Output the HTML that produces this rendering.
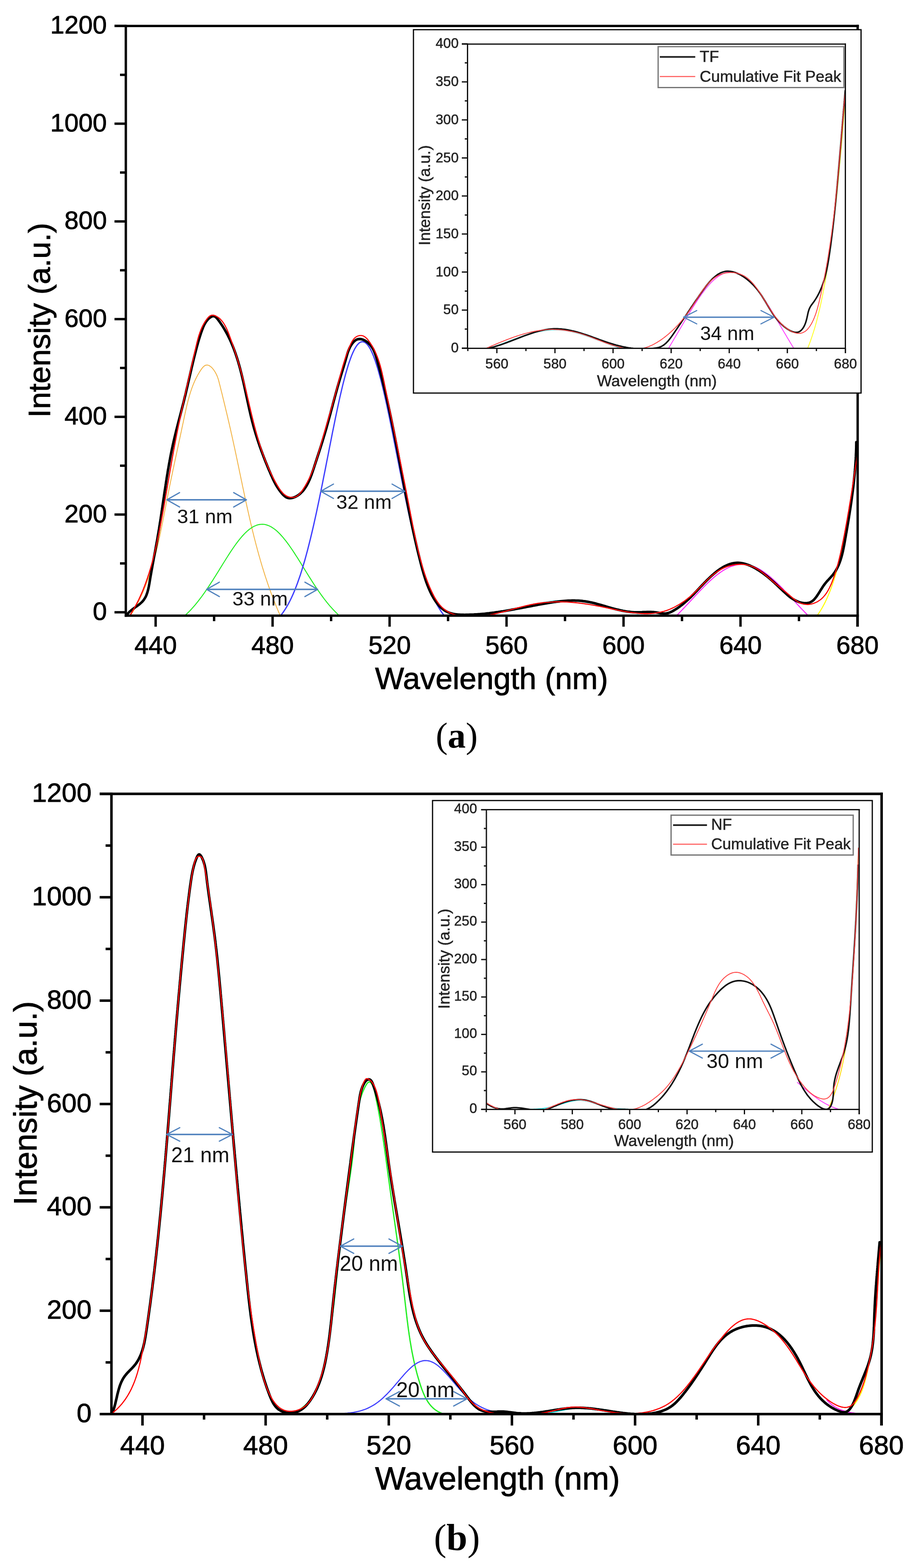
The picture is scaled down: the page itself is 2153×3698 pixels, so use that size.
<!DOCTYPE html>
<html><head><meta charset="utf-8"><title>Figure</title>
<style>html,body{margin:0;padding:0;background:#fff;}svg{display:block;}</style>
</head><body>
<svg xmlns="http://www.w3.org/2000/svg" width="2153" height="3698" viewBox="0 0 2153 3698">
<rect x="0" y="0" width="2153" height="3698" fill="#fff"/>
<clipPath id="ca"><rect x="296.7" y="61.3" width="1725.8" height="1390.7"/></clipPath>
<g>
<path d="M307.1 1452.8 L308.8 1450.2 L310.4 1447.7 L312 1445.1 L313.5 1442.5 L315.1 1439.9 L316.6 1437.3 L318.1 1434.7 L319.6 1432.1 L321 1429.4 L322.4 1426.8 L323.8 1424.1 L325.2 1421.5 L326.6 1418.8 L327.9 1416.1 L329.3 1413.4 L330.6 1410.8 L331.9 1408 L333.1 1405.3 L334.4 1402.6 L335.6 1399.9 L336.8 1397.2 L338 1394.4 L339.1 1391.7 L340.3 1388.9 L341.4 1386.1 L342.5 1383.4 L343.6 1380.6 L344.7 1377.8 L345.8 1375 L346.8 1372.2 L347.9 1369.4 L348.9 1366.6 L349.9 1363.8 L350.9 1360.9 L351.8 1358.1 L352.8 1355.3 L353.7 1352.4 L354.6 1349.6 L355.6 1346.7 L356.5 1343.9 L357.3 1341 L358.2 1338.1 L359.1 1335.2 L359.9 1332.4 L360.8 1329.5 L361.6 1326.6 L362.4 1323.7 L363.2 1320.8 L364 1317.9 L364.7 1315 L365.5 1312.1 L366.3 1309.2 L367 1306.3 L367.8 1303.3 L368.5 1300.4 L369.2 1297.5 L369.9 1294.5 L370.6 1291.6 L371.3 1288.7 L372 1285.7 L372.7 1282.8 L373.3 1279.9 L374 1276.9 L374.6 1274 L375.3 1271 L375.9 1268.1 L376.6 1265.1 L377.2 1262.1 L377.8 1259.2 L378.4 1256.2 L379 1253.3 L379.6 1250.3 L380.3 1247.3 L380.8 1244.4 L381.4 1241.4 L382 1238.4 L382.6 1235.5 L383.2 1232.5 L383.8 1229.5 L384.4 1226.6 L384.9 1223.6 L385.5 1220.6 L386.1 1217.7 L386.7 1214.7 L387.2 1211.7 L387.8 1208.8 L388.4 1205.8 L389 1202.9 L389.5 1199.9 L390.1 1196.9 L390.7 1194 L391.2 1191 L391.8 1188.1 L392.4 1185.1 L393 1182.1 L393.5 1179.2 L394.1 1176.2 L394.7 1173.3 L395.3 1170.4 L395.9 1167.4 L396.4 1164.5 L397 1161.5 L397.6 1158.6 L398.2 1155.6 L398.8 1152.7 L399.4 1149.8 L400 1146.8 L400.6 1143.9 L401.2 1141 L401.8 1138 L402.4 1135.1 L403 1132.2 L403.6 1129.3 L404.2 1126.3 L404.8 1123.4 L405.5 1120.5 L406.1 1117.6 L406.7 1114.6 L407.3 1111.7 L407.9 1108.8 L408.5 1105.9 L409.2 1102.9 L409.8 1100 L410.4 1097.1 L411 1094.2 L411.6 1091.2 L412.3 1088.3 L412.9 1085.4 L413.5 1082.5 L414.1 1079.5 L414.8 1076.6 L415.4 1073.7 L416 1070.8 L416.6 1067.8 L417.3 1064.9 L417.9 1062 L418.5 1059 L419.2 1056.1 L419.8 1053.2 L420.4 1050.3 L421 1047.3 L421.7 1044.4 L422.3 1041.4 L422.9 1038.5 L423.6 1035.6 L424.2 1032.6 L424.8 1029.7 L425.5 1026.7 L426.1 1023.8 L426.7 1020.8 L427.4 1017.9 L428 1014.9 L428.6 1012 L429.2 1009 L429.9 1006.1 L430.5 1003.1 L431.1 1000.1 L431.8 997.2 L432.4 994.2 L433 991.2 L433.6 988.3 L434.3 985.3 L434.9 982.3 L435.5 979.3 L436.2 976.4 L436.8 973.4 L437.5 970.4 L438.1 967.4 L438.8 964.5 L439.5 961.5 L440.1 958.5 L440.8 955.6 L441.6 952.6 L442.3 949.7 L443 946.7 L443.8 943.8 L444.6 940.9 L445.4 937.9 L446.2 935 L447 932.1 L447.9 929.2 L448.8 926.4 L449.7 923.5 L450.7 920.7 L451.6 917.8 L452.6 915 L453.7 912.2 L454.7 909.4 L455.8 906.6 L457 903.9 L458.1 901.1 L459.4 898.4 L460.6 895.7 L461.9 893 L463.2 890.4 L464.6 887.7 L466 885.1 L467.5 882.5 L469 879.9 L470.5 877.4 L472.1 874.9 L473.8 872.4 L475.5 869.9 L477.3 867.6 L479.1 865.5 L481.1 863.6 L483.1 862.2 L485.3 861.3 L487.6 860.9 L490 861.1 L492.4 861.9 L494.8 863.2 L497.2 865 L499.6 867.1 L501.8 869.6 L503.9 872.3 L505.9 875.2 L507.8 878.3 L509.5 881.4 L511 884.5 L512.3 887.5 L513.4 890.5 L514.4 893.4 L515.3 896.3 L516.1 899.2 L516.8 902 L517.5 904.9 L518.3 907.7 L519 910.6 L519.7 913.4 L520.4 916.3 L521.1 919.1 L521.8 922 L522.6 924.9 L523.3 927.7 L524 930.6 L524.7 933.5 L525.4 936.4 L526.1 939.3 L526.8 942.2 L527.5 945 L528.2 947.9 L528.9 950.8 L529.6 953.7 L530.3 956.6 L531 959.5 L531.7 962.4 L532.4 965.4 L533.1 968.3 L533.8 971.2 L534.5 974.1 L535.2 977 L535.9 979.9 L536.6 982.8 L537.3 985.8 L537.9 988.7 L538.6 991.6 L539.3 994.5 L540 997.5 L540.7 1000.4 L541.3 1003.3 L542 1006.3 L542.7 1009.2 L543.4 1012.1 L544 1015.1 L544.7 1018 L545.3 1021 L546 1023.9 L546.7 1026.8 L547.3 1029.8 L548 1032.7 L548.6 1035.7 L549.3 1038.6 L549.9 1041.5 L550.6 1044.5 L551.2 1047.4 L551.8 1050.4 L552.5 1053.3 L553.1 1056.3 L553.8 1059.2 L554.4 1062.2 L555 1065.1 L555.6 1068.1 L556.3 1071 L556.9 1073.9 L557.5 1076.9 L558.1 1079.8 L558.8 1082.8 L559.4 1085.7 L560 1088.7 L560.6 1091.6 L561.2 1094.6 L561.9 1097.5 L562.5 1100.5 L563.1 1103.4 L563.7 1106.4 L564.3 1109.3 L564.9 1112.3 L565.5 1115.2 L566.2 1118.2 L566.8 1121.1 L567.4 1124.1 L568 1127 L568.6 1129.9 L569.2 1132.9 L569.9 1135.8 L570.5 1138.8 L571.1 1141.7 L571.7 1144.7 L572.3 1147.6 L572.9 1150.6 L573.6 1153.5 L574.2 1156.5 L574.8 1159.4 L575.4 1162.3 L576.1 1165.3 L576.7 1168.2 L577.3 1171.2 L577.9 1174.1 L578.6 1177 L579.2 1180 L579.8 1182.9 L580.5 1185.9 L581.1 1188.8 L581.8 1191.7 L582.4 1194.7 L583.1 1197.6 L583.7 1200.5 L584.4 1203.5 L585 1206.4 L585.7 1209.3 L586.3 1212.3 L587 1215.2 L587.7 1218.1 L588.3 1221.1 L589 1224 L589.7 1226.9 L590.4 1229.8 L591 1232.8 L591.7 1235.7 L592.4 1238.6 L593.1 1241.5 L593.8 1244.4 L594.5 1247.4 L595.2 1250.3 L595.9 1253.2 L596.6 1256.1 L597.4 1259 L598.1 1261.9 L598.8 1264.9 L599.5 1267.8 L600.3 1270.7 L601 1273.6 L601.8 1276.5 L602.5 1279.4 L603.3 1282.3 L604 1285.2 L604.8 1288.1 L605.6 1291 L606.4 1293.9 L607.1 1296.8 L607.9 1299.7 L608.7 1302.6 L609.5 1305.5 L610.3 1308.4 L611.1 1311.3 L612 1314.1 L612.8 1317 L613.6 1319.9 L614.4 1322.8 L615.3 1325.7 L616.1 1328.6 L617 1331.4 L617.8 1334.3 L618.7 1337.2 L619.6 1340.1 L620.5 1342.9 L621.4 1345.8 L622.3 1348.7 L623.2 1351.5 L624.1 1354.4 L625 1357.2 L625.9 1360.1 L626.9 1363 L627.8 1365.8 L628.8 1368.7 L629.7 1371.5 L630.7 1374.4 L631.6 1377.2 L632.6 1380 L633.6 1382.9 L634.6 1385.7 L635.6 1388.6 L636.6 1391.4 L637.7 1394.2 L638.7 1397.1 L639.7 1399.9 L640.8 1402.7 L641.8 1405.5 L642.9 1408.4 L644 1411.2 L645.1 1414 L646.2 1416.8 L647.3 1419.6 L648.4 1422.4 L649.5 1425.2 L650.7 1428 L651.8 1430.8 L653 1433.6 L654.1 1436.4 L655.3 1439.2 L656.5 1442 L657.7 1444.8 L658.9 1447.6 L660.1 1450.4 L661.3 1453.2 L662.6 1455.9" fill="none" stroke="#F2B13F" stroke-width="2" stroke-linejoin="round" stroke-linecap="round" clip-path="url(#ca)"/>
<path d="M401.5 1476.1 L404.9 1474.3 L408.4 1472.3 L411.8 1470.2 L415.3 1468 L418.7 1465.6 L422.2 1463.1 L425.6 1460.5 L429.1 1457.8 L432.5 1454.9 L436 1451.9 L439.4 1448.7 L442.9 1445.4 L446.3 1442 L449.8 1438.4 L453.2 1434.6 L456.6 1430.7 L460.1 1426.7 L463.5 1422.6 L467 1418.3 L470.4 1413.8 L473.9 1409.3 L477.3 1404.6 L480.8 1399.8 L484.2 1394.9 L487.7 1389.8 L491.1 1384.7 L494.6 1379.5 L498 1374.2 L501.5 1368.8 L504.9 1363.4 L508.4 1357.9 L511.8 1352.3 L515.3 1346.8 L518.7 1341.2 L522.2 1335.6 L525.6 1330 L529.1 1324.5 L532.5 1319 L536 1313.5 L539.4 1308.1 L542.8 1302.9 L546.3 1297.7 L549.7 1292.6 L553.2 1287.6 L556.6 1282.8 L560.1 1278.2 L563.5 1273.7 L567 1269.5 L570.4 1265.4 L573.9 1261.6 L577.3 1258 L580.8 1254.6 L584.2 1251.5 L587.7 1248.6 L591.1 1246.1 L594.6 1243.8 L598 1241.8 L601.5 1240.2 L604.9 1238.8 L608.4 1237.7 L611.8 1237 L615.3 1236.6 L618.7 1236.5 L622.2 1236.7 L625.6 1237.2 L629 1238.1 L632.5 1239.3 L635.9 1240.8 L639.4 1242.6 L642.8 1244.7 L646.3 1247.1 L649.7 1249.7 L653.2 1252.7 L656.6 1255.9 L660.1 1259.4 L663.5 1263.1 L667 1267 L670.4 1271.2 L673.9 1275.5 L677.3 1280 L680.8 1284.7 L684.2 1289.6 L687.7 1294.6 L691.1 1299.7 L694.6 1305 L698 1310.3 L701.5 1315.7 L704.9 1321.2 L708.4 1326.7 L711.8 1332.3 L715.2 1337.8 L718.7 1343.4 L722.1 1349 L725.6 1354.6 L729 1360.1 L732.5 1365.5 L735.9 1371 L739.4 1376.3 L742.8 1381.6 L746.3 1386.8 L749.7 1391.9 L753.2 1396.8 L756.6 1401.7 L760.1 1406.5 L763.5 1411.1 L767 1415.6 L770.4 1420 L773.9 1424.2 L777.3 1428.4 L780.8 1432.3 L784.2 1436.1 L787.7 1439.8 L791.1 1443.3 L794.6 1446.7 L798 1450 L801.4 1453.1 L804.9 1456.1 L808.3 1458.9 L811.8 1461.6 L815.2 1464.1 L818.7 1466.6 L822.1 1468.9 L825.6 1471 L829 1473.1 L832.5 1475 L835.9 1476.9" fill="none" stroke="#22EE22" stroke-width="2.3" stroke-linejoin="round" stroke-linecap="round" clip-path="url(#ca)"/>
<path d="M642.8 1470.7 L646.3 1468 L649.7 1464.9 L653.2 1461.6 L656.6 1458 L660.1 1454.1 L663.5 1449.8 L667 1445.2 L670.4 1440.2 L673.9 1434.8 L677.3 1429 L680.8 1422.7 L684.2 1416.1 L687.7 1408.9 L691.1 1401.3 L694.6 1393.1 L698 1384.5 L701.5 1375.3 L704.9 1365.6 L708.4 1355.4 L711.8 1344.6 L715.2 1333.3 L718.7 1321.5 L722.1 1309.1 L725.6 1296.1 L729 1282.7 L732.5 1268.7 L735.9 1254.3 L739.4 1239.3 L742.8 1224 L746.3 1208.2 L749.7 1192 L753.2 1175.5 L756.6 1158.7 L760.1 1141.6 L763.5 1124.3 L767 1106.9 L770.4 1089.3 L773.9 1071.7 L777.3 1054.1 L780.8 1036.7 L784.2 1019.3 L787.7 1002.2 L791.1 985.4 L794.6 968.9 L798 952.9 L801.4 937.3 L804.9 922.3 L808.3 908 L811.8 894.4 L815.2 881.5 L818.7 869.5 L822.1 858.3 L825.6 848.2 L829 839 L832.5 830.8 L835.9 823.8 L839.4 817.9 L842.8 813.1 L846.3 809.5 L849.7 807.1 L853.2 806 L856.6 806 L860.1 807.3 L863.5 809.7 L867 813.4 L870.4 818.3 L873.9 824.3 L877.3 831.4 L880.8 839.7 L884.2 848.9 L887.6 859.2 L891.1 870.4 L894.5 882.5 L898 895.4 L901.4 909.1 L904.9 923.5 L908.3 938.5 L911.8 954.1 L915.2 970.2 L918.7 986.7 L922.1 1003.6 L925.6 1020.7 L929 1038.1 L932.5 1055.6 L935.9 1073.1 L939.4 1090.7 L942.8 1108.3 L946.3 1125.7 L949.7 1143 L953.2 1160 L956.6 1176.8 L960.1 1193.3 L963.5 1209.4 L967 1225.2 L970.4 1240.5 L973.8 1255.4 L977.3 1269.8 L980.7 1283.8 L984.2 1297.2 L987.6 1310.1 L991.1 1322.4 L994.5 1334.3 L998 1345.5 L1001.4 1356.3 L1004.9 1366.4 L1008.3 1376.1 L1011.8 1385.2 L1015.2 1393.8 L1018.7 1401.9 L1022.1 1409.5 L1025.6 1416.6 L1029 1423.3 L1032.5 1429.5 L1035.9 1435.2 L1039.4 1440.6 L1042.8 1445.6 L1046.3 1450.2 L1049.7 1454.4 L1053.2 1458.3 L1056.6 1461.9 L1060 1465.2 L1063.5 1468.2" fill="none" stroke="#3D3DFF" stroke-width="3" stroke-linejoin="round" stroke-linecap="round" clip-path="url(#ca)"/>
<path d="M1160 1447.3 L1163.5 1446.7 L1166.9 1446 L1170.4 1445.4 L1173.8 1444.7 L1177.3 1444 L1180.7 1443.3 L1184.2 1442.6 L1187.6 1441.8 L1191.1 1441.1 L1194.5 1440.3 L1198 1439.5 L1201.4 1438.7 L1204.9 1437.9 L1208.3 1437.1 L1211.8 1436.3 L1215.2 1435.5 L1218.7 1434.6 L1222.1 1433.8 L1225.6 1433 L1229 1432.1 L1232.4 1431.3 L1235.9 1430.5 L1239.3 1429.7 L1242.8 1428.9 L1246.2 1428.1 L1249.7 1427.3 L1253.1 1426.5 L1256.6 1425.7 L1260 1425 L1263.5 1424.3 L1266.9 1423.6 L1270.4 1422.9 L1273.8 1422.2 L1277.3 1421.6 L1280.7 1421 L1284.2 1420.4 L1287.6 1419.9 L1291.1 1419.4 L1294.5 1418.9 L1298 1418.5 L1301.4 1418.1 L1304.9 1417.7 L1308.3 1417.4 L1311.8 1417.1 L1315.2 1416.9 L1318.6 1416.7 L1322.1 1416.5 L1325.5 1416.4 L1329 1416.4 L1332.4 1416.3 L1335.9 1416.4 L1339.3 1416.4 L1342.8 1416.5 L1346.2 1416.7 L1349.7 1416.9 L1353.1 1417.1 L1356.6 1417.4 L1360 1417.7 L1363.5 1418.1 L1366.9 1418.5 L1370.4 1418.9 L1373.8 1419.4 L1377.3 1419.9 L1380.7 1420.4 L1384.2 1421 L1387.6 1421.6 L1391.1 1422.2 L1394.5 1422.9 L1398 1423.6 L1401.4 1424.3 L1404.8 1425 L1408.3 1425.7 L1411.7 1426.5 L1415.2 1427.3 L1418.6 1428.1 L1422.1 1428.9 L1425.5 1429.7 L1429 1430.5 L1432.4 1431.3 L1435.9 1432.1 L1439.3 1433 L1442.8 1433.8 L1446.2 1434.6 L1449.7 1435.5 L1453.1 1436.3 L1456.6 1437.1 L1460 1437.9 L1463.5 1438.7 L1466.9 1439.5 L1470.4 1440.3 L1473.8 1441.1 L1477.3 1441.8 L1480.7 1442.6 L1484.2 1443.3 L1487.6 1444 L1491 1444.7 L1494.5 1445.4 L1497.9 1446 L1501.4 1446.7 L1504.8 1447.3" fill="none" stroke="#22E5E5" stroke-width="2.3" stroke-linejoin="round" stroke-linecap="round" clip-path="url(#ca)"/>
<path d="M1566.9 1478.2 L1570.4 1475.3 L1573.8 1472.3 L1577.2 1469.2 L1580.7 1466 L1584.1 1462.8 L1587.6 1459.5 L1591 1456.2 L1594.5 1452.8 L1597.9 1449.4 L1601.4 1445.9 L1604.8 1442.3 L1608.3 1438.7 L1611.7 1435.1 L1615.2 1431.5 L1618.6 1427.8 L1622.1 1424.1 L1625.5 1420.4 L1629 1416.7 L1632.4 1413 L1635.9 1409.2 L1639.3 1405.5 L1642.8 1401.8 L1646.2 1398.2 L1649.7 1394.5 L1653.1 1390.9 L1656.6 1387.4 L1660 1383.8 L1663.4 1380.4 L1666.9 1377 L1670.3 1373.7 L1673.8 1370.4 L1677.2 1367.3 L1680.7 1364.2 L1684.1 1361.2 L1687.6 1358.4 L1691 1355.6 L1694.5 1353 L1697.9 1350.5 L1701.4 1348.1 L1704.8 1345.8 L1708.3 1343.7 L1711.7 1341.8 L1715.2 1340 L1718.6 1338.3 L1722.1 1336.8 L1725.5 1335.5 L1729 1334.3 L1732.4 1333.3 L1735.9 1332.5 L1739.3 1331.8 L1742.8 1331.3 L1746.2 1331 L1749.6 1330.9 L1753.1 1330.9 L1756.5 1331.1 L1760 1331.5 L1763.4 1332.1 L1766.9 1332.8 L1770.3 1333.7 L1773.8 1334.8 L1777.2 1336 L1780.7 1337.4 L1784.1 1339 L1787.6 1340.7 L1791 1342.6 L1794.5 1344.6 L1797.9 1346.8 L1801.4 1349.1 L1804.8 1351.6 L1808.3 1354.1 L1811.7 1356.8 L1815.2 1359.6 L1818.6 1362.5 L1822.1 1365.5 L1825.5 1368.7 L1829 1371.8 L1832.4 1375.1 L1835.8 1378.5 L1839.3 1381.9 L1842.7 1385.4 L1846.2 1388.9 L1849.6 1392.5 L1853.1 1396.1 L1856.5 1399.8 L1860 1403.5 L1863.4 1407.2 L1866.9 1410.9 L1870.3 1414.6 L1873.8 1418.3 L1877.2 1422 L1880.7 1425.7 L1884.1 1429.4 L1887.6 1433.1 L1891 1436.7 L1894.5 1440.3 L1897.9 1443.9 L1901.4 1447.4 L1904.8 1450.9 L1908.3 1454.3 L1911.7 1457.7 L1915.2 1461 L1918.6 1464.2 L1922 1467.4 L1925.5 1470.6 L1928.9 1473.6 L1932.4 1476.6 L1935.8 1479.5 L1939.3 1482.3" fill="none" stroke="#FF22FF" stroke-width="2.3" stroke-linejoin="round" stroke-linecap="round" clip-path="url(#ca)"/>
<path d="M1911.7 1468.9 L1915.2 1465.5 L1918.6 1461.8 L1922 1457.8 L1925.5 1453.5 L1928.9 1448.9 L1932.4 1443.9 L1935.8 1438.5 L1939.3 1432.6 L1942.7 1426.4 L1946.2 1419.6 L1949.6 1412.3 L1953.1 1404.4 L1956.5 1396 L1960 1386.9 L1963.4 1377.2 L1966.9 1366.8 L1970.3 1355.6 L1973.8 1343.6 L1977.2 1330.7 L1980.7 1317 L1984.1 1302.2 L1987.6 1286.5 L1991 1269.7 L1994.5 1251.8 L1997.9 1232.7 L2001.4 1212.3 L2004.8 1190.6 L2008.2 1167.5 L2011.7 1142.9 L2015.1 1116.8 L2018.6 1089 L2022 1059.6" fill="none" stroke="#FFFF00" stroke-width="2.3" stroke-linejoin="round" stroke-linecap="round" clip-path="url(#ca)"/>
</g>
<path d="M300.3 1448.7 L302.1 1446.4 L304 1444.3 L306.1 1442.2 L308.4 1440.3 L310.7 1438.3 L313.1 1436.5 L315.6 1434.7 L318.1 1432.9 L320.6 1431.1 L323.1 1429.4 L325.5 1427.6 L328 1425.8 L330.3 1423.9 L332.5 1421.9 L334.7 1419.9 L336.6 1417.8 L338.4 1415.6 L340.1 1413.3 L341.6 1410.8 L343 1408.4 L344.3 1405.8 L345.4 1403.1 L346.4 1400.4 L347.4 1397.6 L348.2 1394.8 L349 1391.9 L349.7 1389 L350.4 1386 L351 1383 L351.5 1380 L352.1 1377 L352.6 1373.9 L353.1 1370.9 L353.6 1367.8 L354.1 1364.8 L354.6 1361.8 L355.1 1358.8 L355.7 1355.7 L356.2 1352.7 L356.7 1349.7 L357.2 1346.7 L357.8 1343.8 L358.3 1340.8 L358.9 1337.8 L359.4 1334.8 L359.9 1331.8 L360.5 1328.9 L361 1325.9 L361.6 1322.9 L362.1 1320 L362.6 1317 L363.2 1314.1 L363.7 1311.1 L364.3 1308.2 L364.8 1305.2 L365.4 1302.3 L365.9 1299.4 L366.4 1296.4 L367 1293.5 L367.5 1290.5 L368 1287.6 L368.6 1284.7 L369.1 1281.7 L369.6 1278.8 L370.2 1275.8 L370.7 1272.9 L371.2 1270 L371.7 1267 L372.2 1264.1 L372.7 1261.1 L373.2 1258.2 L373.7 1255.3 L374.2 1252.3 L374.7 1249.4 L375.2 1246.4 L375.6 1243.5 L376.1 1240.5 L376.6 1237.5 L377 1234.6 L377.5 1231.6 L378 1228.7 L378.4 1225.7 L378.9 1222.7 L379.3 1219.8 L379.8 1216.8 L380.2 1213.8 L380.7 1210.9 L381.1 1207.9 L381.5 1204.9 L382 1201.9 L382.4 1199 L382.9 1196 L383.3 1193 L383.7 1190.1 L384.2 1187.1 L384.6 1184.1 L385 1181.1 L385.5 1178.1 L385.9 1175.2 L386.4 1172.2 L386.8 1169.2 L387.2 1166.2 L387.7 1163.3 L388.1 1160.3 L388.6 1157.3 L389 1154.3 L389.5 1151.4 L389.9 1148.4 L390.4 1145.4 L390.8 1142.4 L391.3 1139.5 L391.7 1136.5 L392.2 1133.5 L392.7 1130.5 L393.1 1127.6 L393.6 1124.6 L394.1 1121.6 L394.6 1118.6 L395.1 1115.7 L395.5 1112.7 L396 1109.7 L396.5 1106.8 L397.1 1103.8 L397.6 1100.8 L398.1 1097.9 L398.6 1094.9 L399.1 1092 L399.7 1089 L400.2 1086.1 L400.8 1083.1 L401.3 1080.2 L401.9 1077.2 L402.4 1074.3 L403 1071.3 L403.6 1068.4 L404.2 1065.4 L404.8 1062.5 L405.4 1059.5 L406 1056.6 L406.7 1053.7 L407.3 1050.7 L407.9 1047.8 L408.6 1044.9 L409.2 1042 L409.9 1039.1 L410.6 1036.1 L411.3 1033.2 L412 1030.3 L412.7 1027.4 L413.4 1024.5 L414.1 1021.6 L414.8 1018.7 L415.5 1015.8 L416.3 1012.9 L417 1010 L417.7 1007.1 L418.5 1004.2 L419.2 1001.3 L420 998.4 L420.7 995.5 L421.5 992.6 L422.2 989.7 L423 986.8 L423.8 983.9 L424.5 981 L425.3 978.1 L426 975.2 L426.8 972.3 L427.5 969.4 L428.3 966.5 L429 963.6 L429.8 960.6 L430.5 957.7 L431.3 954.8 L432 951.9 L432.8 949 L433.5 946.1 L434.2 943.2 L434.9 940.3 L435.6 937.3 L436.4 934.4 L437.1 931.5 L437.8 928.6 L438.5 925.6 L439.1 922.7 L439.8 919.8 L440.5 916.9 L441.2 913.9 L441.9 911 L442.6 908.1 L443.2 905.1 L443.9 902.2 L444.6 899.3 L445.3 896.3 L445.9 893.4 L446.6 890.5 L447.3 887.5 L448 884.6 L448.6 881.7 L449.3 878.7 L450 875.8 L450.7 872.9 L451.3 869.9 L452 867 L452.7 864.1 L453.4 861.2 L454.1 858.3 L454.8 855.3 L455.5 852.4 L456.2 849.5 L456.9 846.6 L457.6 843.7 L458.3 840.8 L459.1 837.9 L459.8 835 L460.5 832.1 L461.3 829.2 L462 826.3 L462.8 823.4 L463.5 820.5 L464.3 817.6 L465.1 814.7 L465.9 811.9 L466.7 809 L467.5 806.1 L468.3 803.3 L469.2 800.4 L470.1 797.6 L471 794.7 L471.9 791.8 L472.8 789 L473.8 786.1 L474.7 783.3 L475.8 780.5 L476.8 777.6 L477.9 774.8 L479 772 L480.2 769.1 L481.5 766.4 L483 763.6 L484.6 760.9 L486.4 758.2 L488.5 755.5 L490.7 752.9 L493.2 750.6 L495.7 748.6 L498.2 747 L500.8 745.9 L503.3 745.5 L505.6 745.9 L507.7 747.1 L509.8 748.8 L511.7 750.9 L513.6 753.2 L515.5 755.7 L517.2 758.1 L519 760.6 L520.7 763.1 L522.4 765.6 L524.1 768.1 L525.7 770.6 L527.3 773.2 L528.8 775.8 L530.3 778.3 L531.8 780.9 L533.3 783.5 L534.7 786.2 L536.1 788.8 L537.5 791.4 L538.8 794.1 L540.1 796.8 L541.4 799.4 L542.7 802.1 L543.9 804.9 L545.1 807.6 L546.3 810.3 L547.4 813 L548.6 815.8 L549.7 818.6 L550.8 821.3 L551.8 824.1 L552.9 826.9 L553.9 829.7 L554.9 832.5 L555.9 835.3 L556.8 838.2 L557.8 841 L558.7 843.9 L559.6 846.7 L560.5 849.6 L561.4 852.4 L562.2 855.3 L563 858.2 L563.9 861.1 L564.7 864 L565.5 866.9 L566.3 869.8 L567 872.7 L567.8 875.6 L568.5 878.5 L569.3 881.5 L570 884.4 L570.7 887.3 L571.4 890.3 L572.1 893.2 L572.8 896.2 L573.5 899.1 L574.2 902.1 L574.8 905 L575.5 908 L576.1 910.9 L576.8 913.9 L577.4 916.9 L578.1 919.8 L578.7 922.8 L579.4 925.8 L580 928.7 L580.6 931.7 L581.3 934.7 L581.9 937.6 L582.6 940.6 L583.2 943.6 L583.8 946.5 L584.5 949.5 L585.1 952.5 L585.8 955.4 L586.4 958.4 L587.1 961.4 L587.7 964.3 L588.4 967.3 L589.1 970.2 L589.8 973.2 L590.4 976.1 L591.1 979 L591.8 982 L592.5 984.9 L593.3 987.8 L594 990.8 L594.7 993.7 L595.5 996.6 L596.3 999.5 L597 1002.4 L597.8 1005.3 L598.6 1008.2 L599.4 1011.1 L600.3 1013.9 L601.1 1016.8 L602 1019.7 L602.8 1022.5 L603.7 1025.4 L604.6 1028.2 L605.5 1031.1 L606.4 1033.9 L607.3 1036.8 L608.2 1039.6 L609.2 1042.4 L610.1 1045.3 L611.1 1048.1 L612 1050.9 L613 1053.7 L614 1056.5 L615 1059.3 L616 1062.1 L617 1064.9 L618.1 1067.7 L619.1 1070.5 L620.2 1073.3 L621.2 1076.1 L622.3 1078.8 L623.4 1081.6 L624.4 1084.4 L625.5 1087.1 L626.6 1089.9 L627.8 1092.7 L628.9 1095.4 L630 1098.2 L631.1 1100.9 L632.3 1103.7 L633.4 1106.5 L634.6 1109.2 L635.8 1111.9 L637 1114.7 L638.1 1117.4 L639.3 1120.2 L640.6 1122.9 L641.8 1125.6 L643 1128.4 L644.3 1131.1 L645.6 1133.8 L647 1136.5 L648.4 1139.2 L649.8 1141.9 L651.3 1144.5 L652.9 1147.2 L654.5 1149.8 L656.3 1152.4 L658 1155 L659.9 1157.6 L661.9 1160.2 L663.9 1162.7 L666.1 1165.2 L668.3 1167.6 L670.7 1169.7 L673.1 1171.6 L675.6 1173.1 L678.2 1174.1 L680.9 1174.8 L683.6 1175 L686.4 1174.8 L689.2 1174.3 L691.9 1173.5 L694.6 1172.5 L697.2 1171.4 L699.7 1170 L702.1 1168.6 L704.4 1167 L706.7 1165.3 L708.8 1163.5 L710.8 1161.5 L712.8 1159.5 L714.7 1157.4 L716.5 1155.1 L718.2 1152.8 L719.8 1150.4 L721.4 1148 L723 1145.4 L724.4 1142.8 L725.8 1140.1 L727.2 1137.4 L728.5 1134.6 L729.8 1131.8 L731 1128.9 L732.2 1126 L733.3 1123 L734.4 1120.1 L735.5 1117.1 L736.5 1114.1 L737.6 1111.1 L738.6 1108.1 L739.6 1105.1 L740.6 1102.1 L741.5 1099.1 L742.5 1096.1 L743.5 1093.2 L744.4 1090.3 L745.4 1087.3 L746.4 1084.4 L747.3 1081.5 L748.2 1078.7 L749.2 1075.8 L750.1 1072.9 L751 1070.1 L752 1067.3 L752.9 1064.4 L753.8 1061.6 L754.7 1058.8 L755.6 1056 L756.5 1053.2 L757.4 1050.4 L758.2 1047.6 L759.1 1044.8 L760 1042 L760.9 1039.2 L761.7 1036.4 L762.6 1033.6 L763.4 1030.7 L764.3 1027.9 L765.1 1025.1 L766 1022.3 L766.8 1019.5 L767.6 1016.6 L768.5 1013.8 L769.3 1010.9 L770.1 1008.1 L770.9 1005.2 L771.7 1002.3 L772.5 999.4 L773.3 996.6 L774.1 993.7 L774.9 990.8 L775.7 987.9 L776.5 985 L777.3 982 L778.1 979.1 L778.9 976.2 L779.7 973.3 L780.4 970.4 L781.2 967.4 L782 964.5 L782.8 961.6 L783.6 958.7 L784.4 955.7 L785.1 952.8 L785.9 949.9 L786.7 946.9 L787.5 944 L788.3 941.1 L789.1 938.1 L789.9 935.2 L790.7 932.3 L791.5 929.3 L792.3 926.4 L793.1 923.5 L793.9 920.6 L794.7 917.7 L795.5 914.8 L796.3 911.8 L797.2 908.9 L798 906 L798.8 903.2 L799.7 900.3 L800.5 897.4 L801.4 894.5 L802.2 891.6 L803.1 888.8 L803.9 885.9 L804.8 883.1 L805.7 880.2 L806.5 877.4 L807.4 874.5 L808.3 871.7 L809.1 868.9 L810 866 L810.9 863.2 L811.7 860.4 L812.5 857.5 L813.4 854.7 L814.2 851.9 L815 849.1 L815.8 846.2 L816.6 843.4 L817.4 840.6 L818.2 837.8 L819 834.9 L819.9 832.1 L820.9 829.2 L822 826.4 L823.2 823.5 L824.5 820.6 L826 817.6 L827.7 814.7 L829.5 811.9 L831.4 809.3 L833.5 806.8 L835.7 804.6 L838 802.8 L840.4 801.3 L842.9 800.2 L845.5 799.7 L848.2 799.5 L850.9 799.7 L853.7 800.3 L856.4 801.2 L859.1 802.4 L861.8 803.9 L864.3 805.6 L866.8 807.5 L869.2 809.6 L871.4 811.8 L873.5 814.1 L875.4 816.5 L877.1 819 L878.7 821.5 L880.2 824.1 L881.5 826.8 L882.7 829.5 L883.8 832.3 L884.9 835.1 L885.8 837.9 L886.8 840.8 L887.6 843.6 L888.5 846.5 L889.3 849.4 L890.1 852.4 L890.9 855.3 L891.7 858.2 L892.5 861.1 L893.3 864 L894.1 866.9 L894.8 869.8 L895.6 872.7 L896.4 875.6 L897.1 878.5 L897.9 881.5 L898.6 884.4 L899.4 887.3 L900.1 890.2 L900.9 893.1 L901.6 896 L902.3 899 L903 901.9 L903.7 904.8 L904.5 907.7 L905.2 910.6 L905.9 913.6 L906.6 916.5 L907.3 919.4 L908 922.3 L908.6 925.3 L909.3 928.2 L910 931.1 L910.7 934.1 L911.3 937 L912 939.9 L912.7 942.8 L913.3 945.8 L914 948.7 L914.6 951.6 L915.3 954.6 L915.9 957.5 L916.6 960.4 L917.2 963.4 L917.8 966.3 L918.5 969.2 L919.1 972.2 L919.7 975.1 L920.3 978 L921 981 L921.6 983.9 L922.2 986.9 L922.8 989.8 L923.4 992.7 L924 995.7 L924.6 998.6 L925.2 1001.6 L925.8 1004.5 L926.4 1007.4 L927 1010.4 L927.6 1013.3 L928.2 1016.3 L928.8 1019.2 L929.3 1022.2 L929.9 1025.1 L930.5 1028 L931.1 1031 L931.7 1033.9 L932.2 1036.9 L932.8 1039.8 L933.4 1042.8 L934 1045.7 L934.5 1048.7 L935.1 1051.6 L935.7 1054.6 L936.2 1057.5 L936.8 1060.4 L937.4 1063.4 L937.9 1066.3 L938.5 1069.3 L939 1072.2 L939.6 1075.2 L940.2 1078.1 L940.7 1081.1 L941.3 1084 L941.8 1087 L942.4 1089.9 L943 1092.9 L943.5 1095.8 L944.1 1098.8 L944.6 1101.7 L945.2 1104.7 L945.7 1107.6 L946.3 1110.6 L946.8 1113.5 L947.4 1116.5 L948 1119.4 L948.5 1122.4 L949.1 1125.3 L949.6 1128.3 L950.2 1131.3 L950.7 1134.2 L951.3 1137.2 L951.9 1140.1 L952.4 1143.1 L953 1146 L953.5 1149 L954.1 1151.9 L954.7 1154.9 L955.2 1157.8 L955.8 1160.8 L956.4 1163.7 L956.9 1166.7 L957.5 1169.6 L958.1 1172.6 L958.7 1175.5 L959.2 1178.5 L959.8 1181.4 L960.4 1184.4 L961 1187.3 L961.5 1190.3 L962.1 1193.2 L962.7 1196.2 L963.3 1199.1 L963.9 1202.1 L964.5 1205 L965.1 1208 L965.7 1210.9 L966.3 1213.9 L966.9 1216.8 L967.5 1219.8 L968.1 1222.7 L968.7 1225.7 L969.3 1228.6 L969.9 1231.6 L970.5 1234.5 L971.1 1237.4 L971.8 1240.4 L972.4 1243.3 L973 1246.3 L973.7 1249.2 L974.3 1252.1 L974.9 1255.1 L975.6 1258 L976.2 1261 L976.9 1263.9 L977.5 1266.8 L978.2 1269.8 L978.8 1272.7 L979.5 1275.6 L980.2 1278.5 L980.8 1281.5 L981.5 1284.4 L982.2 1287.3 L982.9 1290.2 L983.5 1293.1 L984.2 1296.1 L984.9 1299 L985.6 1301.9 L986.3 1304.8 L987 1307.7 L987.8 1310.6 L988.5 1313.5 L989.2 1316.4 L989.9 1319.3 L990.7 1322.2 L991.4 1325.1 L992.1 1328 L992.9 1330.9 L993.6 1333.8 L994.4 1336.7 L995.2 1339.6 L995.9 1342.4 L996.7 1345.3 L997.6 1348.2 L998.4 1351.1 L999.2 1353.9 L1000.1 1356.8 L1001 1359.6 L1001.9 1362.5 L1002.8 1365.4 L1003.7 1368.2 L1004.7 1371 L1005.7 1373.9 L1006.8 1376.7 L1007.8 1379.5 L1009 1382.4 L1010.1 1385.2 L1011.3 1388 L1012.5 1390.8 L1013.7 1393.6 L1015 1396.4 L1016.4 1399.2 L1017.7 1402 L1019.2 1404.7 L1020.7 1407.4 L1022.2 1410.1 L1023.8 1412.7 L1025.4 1415.3 L1027.1 1417.8 L1028.8 1420.3 L1030.6 1422.7 L1032.5 1425.1 L1034.4 1427.3 L1036.3 1429.5 L1038.4 1431.6 L1040.5 1433.6 L1042.7 1435.4 L1044.9 1437.2 L1047.2 1438.9 L1049.6 1440.4 L1052.1 1441.9 L1054.6 1443.1 L1057.2 1444.3 L1059.9 1445.3 L1062.6 1446.2 L1065.4 1447 L1068.3 1447.6 L1071.2 1448.2 L1074.2 1448.6 L1077.2 1449 L1080.2 1449.3 L1083.3 1449.5 L1086.4 1449.7 L1089.5 1449.8 L1092.6 1449.8 L1095.7 1449.9 L1098.8 1449.8 L1101.9 1449.8 L1105 1449.7 L1108.1 1449.6 L1111.2 1449.5 L1114.2 1449.4 L1117.3 1449.3 L1120.4 1449.1 L1123.4 1448.9 L1126.5 1448.7 L1129.5 1448.5 L1132.5 1448.3 L1135.5 1448 L1138.6 1447.7 L1141.6 1447.5 L1144.6 1447.2 L1147.6 1446.8 L1150.6 1446.5 L1153.6 1446.2 L1156.5 1445.8 L1159.5 1445.4 L1162.5 1445.1 L1165.5 1444.7 L1168.4 1444.2 L1171.4 1443.8 L1174.3 1443.4 L1177.3 1442.9 L1180.2 1442.5 L1183.2 1442 L1186.1 1441.6 L1189.1 1441.1 L1192 1440.6 L1194.9 1440.1 L1197.9 1439.6 L1200.8 1439.1 L1203.7 1438.6 L1206.7 1438 L1209.6 1437.5 L1212.5 1437 L1215.5 1436.4 L1218.4 1435.9 L1221.3 1435.3 L1224.2 1434.8 L1227.2 1434.2 L1230.1 1433.7 L1233 1433.1 L1235.9 1432.6 L1238.9 1432 L1241.8 1431.4 L1244.7 1430.9 L1247.6 1430.3 L1250.6 1429.8 L1253.5 1429.2 L1256.5 1428.6 L1259.4 1428.1 L1262.3 1427.5 L1265.3 1427 L1268.2 1426.4 L1271.2 1425.9 L1274.1 1425.4 L1277.1 1424.8 L1280.1 1424.3 L1283 1423.8 L1286 1423.3 L1289 1422.8 L1291.9 1422.3 L1294.9 1421.8 L1297.9 1421.3 L1300.9 1420.8 L1303.9 1420.4 L1306.9 1419.9 L1309.9 1419.5 L1312.9 1419.1 L1315.9 1418.7 L1318.9 1418.4 L1321.9 1418.1 L1324.9 1417.8 L1327.9 1417.5 L1330.9 1417.2 L1333.9 1417 L1336.9 1416.8 L1339.9 1416.6 L1342.9 1416.5 L1345.9 1416.4 L1348.9 1416.3 L1351.9 1416.3 L1354.8 1416.3 L1357.8 1416.4 L1360.8 1416.5 L1363.8 1416.6 L1366.8 1416.8 L1369.8 1417 L1372.7 1417.3 L1375.7 1417.7 L1378.6 1418 L1381.6 1418.5 L1384.5 1419 L1387.5 1419.5 L1390.4 1420.1 L1393.4 1420.7 L1396.3 1421.3 L1399.2 1422 L1402.2 1422.7 L1405.1 1423.5 L1408 1424.3 L1410.9 1425.1 L1413.8 1425.9 L1416.7 1426.7 L1419.7 1427.5 L1422.6 1428.4 L1425.5 1429.2 L1428.4 1430.1 L1431.3 1431 L1434.2 1431.8 L1437.1 1432.6 L1440 1433.5 L1442.9 1434.3 L1445.8 1435.1 L1448.8 1435.9 L1451.7 1436.6 L1454.6 1437.3 L1457.5 1438 L1460.4 1438.7 L1463.4 1439.4 L1466.3 1440 L1469.2 1440.6 L1472.2 1441.1 L1475.1 1441.6 L1478 1442.1 L1481 1442.5 L1483.9 1442.8 L1486.9 1443.2 L1489.9 1443.5 L1492.8 1443.7 L1495.8 1443.9 L1498.8 1444 L1501.8 1444 L1504.8 1444 L1507.8 1444 L1510.8 1443.9 L1513.8 1443.8 L1516.9 1443.6 L1519.9 1443.5 L1522.9 1443.4 L1525.9 1443.3 L1528.9 1443.2 L1532 1443.2 L1535 1443.2 L1538 1443.4 L1541 1443.6 L1544 1443.9 L1547 1444.3 L1550 1444.8 L1553 1445.3 L1556 1445.8 L1559 1446.3 L1561.9 1446.6 L1564.9 1446.9 L1567.8 1446.9 L1570.8 1446.7 L1573.7 1446.3 L1576.6 1445.5 L1579.5 1444.5 L1582.3 1443.3 L1585.1 1441.9 L1587.9 1440.3 L1590.6 1438.7 L1593.3 1437 L1595.9 1435.4 L1598.4 1433.7 L1600.9 1431.9 L1603.4 1430.2 L1605.8 1428.4 L1608.1 1426.6 L1610.4 1424.8 L1612.7 1422.9 L1614.9 1421 L1617.1 1419.1 L1619.3 1417.2 L1621.4 1415.2 L1623.6 1413.3 L1625.6 1411.3 L1627.7 1409.3 L1629.8 1407.3 L1631.8 1405.2 L1633.9 1403.1 L1635.9 1401.1 L1637.9 1399 L1640 1396.8 L1642 1394.7 L1644 1392.6 L1646 1390.4 L1648.1 1388.2 L1650.1 1386 L1652.2 1383.8 L1654.3 1381.6 L1656.4 1379.4 L1658.5 1377.2 L1660.7 1374.9 L1662.9 1372.7 L1665.1 1370.4 L1667.3 1368.2 L1669.6 1366 L1671.8 1363.8 L1674.1 1361.6 L1676.5 1359.4 L1678.8 1357.3 L1681.2 1355.2 L1683.5 1353.1 L1686 1351.1 L1688.4 1349.1 L1690.8 1347.2 L1693.3 1345.3 L1695.8 1343.6 L1698.3 1341.8 L1700.8 1340.2 L1703.4 1338.6 L1705.9 1337.1 L1708.5 1335.7 L1711.1 1334.4 L1713.7 1333.2 L1716.4 1332.1 L1719 1331 L1721.7 1330.1 L1724.4 1329.4 L1727.1 1328.7 L1729.9 1328.1 L1732.6 1327.7 L1735.4 1327.5 L1738.1 1327.3 L1740.9 1327.3 L1743.7 1327.5 L1746.5 1327.8 L1749.4 1328.2 L1752.2 1328.7 L1755 1329.4 L1757.9 1330.2 L1760.7 1331.1 L1763.6 1332 L1766.4 1333.1 L1769.2 1334.3 L1772 1335.6 L1774.8 1336.9 L1777.6 1338.4 L1780.4 1339.9 L1783.1 1341.4 L1785.8 1343.1 L1788.5 1344.7 L1791.2 1346.5 L1793.8 1348.2 L1796.4 1350 L1799 1351.9 L1801.5 1353.7 L1804 1355.6 L1806.5 1357.5 L1808.9 1359.4 L1811.2 1361.3 L1813.5 1363.3 L1815.8 1365.2 L1818.1 1367.1 L1820.3 1369.1 L1822.4 1371 L1824.6 1372.9 L1826.7 1374.9 L1828.8 1376.9 L1831 1378.8 L1833.1 1380.8 L1835.1 1382.8 L1837.2 1384.8 L1839.3 1386.8 L1841.4 1388.8 L1843.6 1390.8 L1845.7 1392.8 L1847.8 1394.9 L1850 1396.9 L1852.2 1398.9 L1854.4 1400.9 L1856.7 1402.9 L1859 1404.9 L1861.4 1406.8 L1863.8 1408.7 L1866.3 1410.5 L1868.9 1412.2 L1871.5 1413.8 L1874.2 1415.4 L1877 1416.8 L1879.9 1418.1 L1882.9 1419.3 L1885.9 1420.3 L1888.9 1421.2 L1891.9 1421.8 L1894.9 1422.3 L1897.9 1422.6 L1900.9 1422.6 L1903.8 1422.3 L1906.6 1421.8 L1909.2 1421 L1911.8 1419.9 L1914.3 1418.5 L1916.6 1416.8 L1918.8 1414.9 L1920.9 1412.7 L1922.8 1410.4 L1924.7 1408 L1926.5 1405.5 L1928.2 1402.9 L1929.9 1400.4 L1931.5 1397.8 L1933.1 1395.3 L1934.6 1392.8 L1936.1 1390.4 L1937.7 1388 L1939.2 1385.6 L1940.7 1383.2 L1942.3 1380.9 L1944 1378.6 L1945.7 1376.3 L1947.5 1374.1 L1949.4 1371.8 L1951.4 1369.6 L1953.4 1367.5 L1955.4 1365.3 L1957.5 1363.1 L1959.5 1360.8 L1961.5 1358.6 L1963.4 1356.3 L1965.3 1353.9 L1967 1351.6 L1968.7 1349.1 L1970.3 1346.6 L1971.8 1344.1 L1973.2 1341.6 L1974.6 1339 L1975.9 1336.3 L1977.1 1333.7 L1978.3 1331 L1979.4 1328.2 L1980.4 1325.5 L1981.4 1322.7 L1982.4 1319.8 L1983.2 1317 L1984.1 1314.1 L1984.9 1311.2 L1985.7 1308.3 L1986.4 1305.4 L1987.1 1302.5 L1987.8 1299.5 L1988.4 1296.5 L1989 1293.6 L1989.6 1290.6 L1990.2 1287.6 L1990.8 1284.6 L1991.3 1281.6 L1991.9 1278.6 L1992.4 1275.5 L1992.9 1272.5 L1993.4 1269.5 L1994 1266.5 L1994.5 1263.5 L1995 1260.6 L1995.5 1257.6 L1996.1 1254.6 L1996.6 1251.6 L1997.1 1248.6 L1997.6 1245.6 L1998.1 1242.6 L1998.6 1239.7 L1999.1 1236.7 L1999.6 1233.7 L2000.1 1230.8 L2000.6 1227.8 L2001.1 1224.8 L2001.6 1221.9 L2002.1 1218.9 L2002.5 1215.9 L2003 1213 L2003.5 1210 L2003.9 1207 L2004.4 1204.1 L2004.9 1201.1 L2005.3 1198.2 L2005.8 1195.2 L2006.2 1192.2 L2006.6 1189.3 L2007.1 1186.3 L2007.5 1183.4 L2007.9 1180.4 L2008.3 1177.5 L2008.7 1174.5 L2009.1 1171.6 L2009.5 1168.6 L2009.9 1165.6 L2010.3 1162.7 L2010.7 1159.7 L2011.1 1156.8 L2011.4 1153.8 L2011.8 1150.8 L2012.2 1147.9 L2012.5 1144.9 L2012.8 1141.9 L2013.2 1139 L2013.5 1136 L2013.8 1133 L2014.1 1130.1 L2014.4 1127.1 L2014.7 1124.1 L2015 1121.2 L2015.3 1118.2 L2015.6 1115.2 L2015.8 1112.2 L2016.1 1109.2 L2016.3 1106.2 L2016.6 1103.2 L2016.8 1100.3 L2017 1097.3 L2017.2 1094.3 L2017.4 1091.3 L2017.6 1088.3 L2017.8 1085.2 L2018 1082.2 L2018.1 1079.2 L2018.3 1076.2 L2018.4 1073.2 L2018.5 1070.2 L2018.7 1067.1 L2018.8 1064.1 L2018.9 1061.1 L2019 1058 L2019.1 1055 L2019.1 1051.9 L2019.2 1048.9 L2019.2 1045.8 L2019.3 1042.8" fill="none" stroke="#000" stroke-width="6" stroke-linejoin="round" stroke-linecap="round" clip-path="url(#ca)"/>
<path d="M306 1451.9 L307.7 1449.3 L309.3 1446.8 L310.8 1444.2 L312.4 1441.6 L313.9 1439 L315.4 1436.4 L316.9 1433.8 L318.3 1431.2 L319.8 1428.5 L321.2 1425.9 L322.6 1423.2 L323.9 1420.6 L325.3 1417.9 L326.6 1415.2 L327.9 1412.5 L329.1 1409.8 L330.4 1407.1 L331.6 1404.4 L332.8 1401.7 L334 1398.9 L335.2 1396.2 L336.4 1393.4 L337.5 1390.7 L338.6 1387.9 L339.7 1385.1 L340.8 1382.4 L341.8 1379.6 L342.9 1376.8 L343.9 1374 L344.9 1371.2 L345.9 1368.3 L346.9 1365.5 L347.9 1362.7 L348.8 1359.8 L349.7 1357 L350.7 1354.2 L351.6 1351.3 L352.4 1348.4 L353.3 1345.6 L354.2 1342.7 L355 1339.8 L355.9 1337 L356.7 1334.1 L357.5 1331.2 L358.3 1328.3 L359.1 1325.4 L359.8 1322.5 L360.6 1319.6 L361.4 1316.7 L362.1 1313.8 L362.8 1310.9 L363.5 1307.9 L364.3 1305 L365 1302.1 L365.6 1299.2 L366.3 1296.2 L367 1293.3 L367.7 1290.4 L368.3 1287.4 L369 1284.5 L369.6 1281.5 L370.3 1278.6 L370.9 1275.6 L371.5 1272.7 L372.1 1269.8 L372.7 1266.8 L373.4 1263.9 L374 1260.9 L374.6 1258 L375.1 1255 L375.7 1252 L376.3 1249.1 L376.9 1246.1 L377.5 1243.2 L378.1 1240.2 L378.6 1237.3 L379.2 1234.3 L379.8 1231.4 L380.3 1228.4 L380.9 1225.5 L381.4 1222.5 L382 1219.5 L382.5 1216.6 L383.1 1213.6 L383.6 1210.7 L384.1 1207.7 L384.7 1204.7 L385.2 1201.8 L385.7 1198.8 L386.3 1195.9 L386.8 1192.9 L387.3 1190 L387.8 1187 L388.4 1184 L388.9 1181.1 L389.4 1178.1 L389.9 1175.2 L390.4 1172.2 L390.9 1169.2 L391.5 1166.3 L392 1163.3 L392.5 1160.4 L393 1157.4 L393.5 1154.4 L394 1151.5 L394.5 1148.5 L395 1145.6 L395.5 1142.6 L396 1139.7 L396.5 1136.7 L397.1 1133.7 L397.6 1130.8 L398.1 1127.8 L398.6 1124.9 L399.1 1121.9 L399.6 1119 L400.1 1116 L400.6 1113 L401.1 1110.1 L401.6 1107.1 L402.1 1104.2 L402.7 1101.2 L403.2 1098.3 L403.7 1095.3 L404.2 1092.4 L404.7 1089.4 L405.2 1086.5 L405.8 1083.5 L406.3 1080.6 L406.8 1077.6 L407.3 1074.7 L407.9 1071.7 L408.4 1068.8 L408.9 1065.8 L409.5 1062.9 L410 1059.9 L410.6 1057 L411.1 1054.1 L411.7 1051.1 L412.2 1048.2 L412.8 1045.2 L413.3 1042.3 L413.9 1039.3 L414.5 1036.4 L415 1033.5 L415.6 1030.5 L416.2 1027.6 L416.7 1024.7 L417.3 1021.7 L417.9 1018.8 L418.5 1015.8 L419.1 1012.9 L419.7 1010 L420.3 1007 L420.9 1004.1 L421.5 1001.2 L422.1 998.3 L422.7 995.3 L423.3 992.4 L423.9 989.5 L424.5 986.5 L425.1 983.6 L425.7 980.7 L426.3 977.7 L427 974.8 L427.6 971.9 L428.2 969 L428.8 966 L429.5 963.1 L430.1 960.2 L430.7 957.2 L431.4 954.3 L432 951.4 L432.6 948.5 L433.3 945.5 L433.9 942.6 L434.6 939.7 L435.2 936.7 L435.9 933.8 L436.5 930.9 L437.2 927.9 L437.8 925 L438.5 922.1 L439.1 919.2 L439.8 916.2 L440.4 913.3 L441.1 910.4 L441.7 907.4 L442.4 904.5 L443.1 901.6 L443.7 898.6 L444.4 895.7 L445.1 892.8 L445.7 889.8 L446.4 886.9 L447.1 884 L447.7 881 L448.4 878.1 L449.1 875.2 L449.7 872.2 L450.4 869.3 L451.1 866.3 L451.7 863.4 L452.4 860.5 L453.1 857.5 L453.8 854.6 L454.4 851.6 L455.1 848.7 L455.8 845.7 L456.4 842.8 L457.1 839.8 L457.8 836.9 L458.5 833.9 L459.1 831 L459.8 828 L460.5 825.1 L461.2 822.1 L461.8 819.2 L462.5 816.2 L463.2 813.3 L463.9 810.3 L464.6 807.4 L465.3 804.5 L466.1 801.5 L466.9 798.6 L467.7 795.7 L468.5 792.8 L469.4 789.9 L470.4 787.1 L471.3 784.2 L472.4 781.4 L473.4 778.6 L474.6 775.9 L475.8 773.1 L477 770.4 L478.4 767.7 L479.8 765 L481.3 762.4 L482.8 759.8 L484.5 757.2 L486.2 754.7 L488 752.2 L489.9 749.8 L492 747.7 L494.1 745.8 L496.3 744.4 L498.7 743.5 L501.2 743.2 L503.8 743.5 L506.4 744.3 L508.9 745.3 L511.3 746.6 L513.7 748 L515.9 749.6 L518 751.3 L520 753.2 L521.9 755.3 L523.8 757.4 L525.5 759.7 L527.2 762.1 L528.8 764.6 L530.3 767.1 L531.7 769.8 L533.1 772.5 L534.5 775.3 L535.8 778.2 L537 781.1 L538.2 784 L539.4 787 L540.5 790 L541.6 793 L542.7 796 L543.8 799 L544.9 802 L545.9 805 L547 807.9 L548 810.9 L549 813.8 L550 816.8 L551 819.7 L552 822.6 L552.9 825.6 L553.9 828.5 L554.8 831.4 L555.8 834.3 L556.7 837.2 L557.6 840 L558.5 842.9 L559.4 845.8 L560.3 848.7 L561.2 851.5 L562 854.4 L562.9 857.2 L563.7 860.1 L564.5 863 L565.4 865.8 L566.2 868.7 L567 871.5 L567.8 874.3 L568.6 877.2 L569.4 880 L570.1 882.9 L570.9 885.7 L571.7 888.6 L572.4 891.4 L573.2 894.3 L573.9 897.1 L574.7 900 L575.4 902.8 L576.1 905.7 L576.8 908.5 L577.6 911.4 L578.3 914.3 L579 917.2 L579.7 920 L580.4 922.9 L581.1 925.8 L581.8 928.7 L582.5 931.6 L583.1 934.5 L583.8 937.3 L584.5 940.2 L585.2 943.1 L585.9 946 L586.6 948.9 L587.2 951.8 L587.9 954.7 L588.6 957.7 L589.3 960.6 L590 963.5 L590.7 966.4 L591.3 969.3 L592 972.2 L592.7 975.1 L593.4 978 L594.1 980.9 L594.8 983.8 L595.6 986.8 L596.3 989.7 L597 992.6 L597.7 995.5 L598.5 998.4 L599.2 1001.3 L599.9 1004.2 L600.7 1007.1 L601.5 1010 L602.2 1012.9 L603 1015.8 L603.8 1018.7 L604.6 1021.6 L605.4 1024.5 L606.2 1027.4 L607 1030.3 L607.9 1033.2 L608.7 1036.1 L609.6 1039 L610.4 1041.9 L611.3 1044.8 L612.2 1047.6 L613.1 1050.5 L614 1053.4 L615 1056.3 L615.9 1059.1 L616.9 1062 L617.9 1064.8 L618.8 1067.7 L619.9 1070.5 L620.9 1073.4 L621.9 1076.2 L623 1079.1 L624 1081.9 L625.1 1084.7 L626.2 1087.5 L627.4 1090.4 L628.5 1093.2 L629.7 1096 L630.9 1098.8 L632.1 1101.6 L633.3 1104.4 L634.5 1107.1 L635.8 1109.9 L637.1 1112.7 L638.4 1115.4 L639.7 1118.2 L641.1 1121 L642.4 1123.7 L643.8 1126.4 L645.2 1129.2 L646.7 1131.9 L648.2 1134.6 L649.6 1137.3 L651.2 1140 L652.7 1142.7 L654.3 1145.4 L655.9 1148 L657.5 1150.6 L659.2 1153.2 L660.9 1155.6 L662.7 1158 L664.6 1160.2 L666.5 1162.4 L668.5 1164.4 L670.6 1166.2 L672.7 1167.8 L675 1169.3 L677.3 1170.5 L679.8 1171.6 L682.4 1172.3 L685 1172.8 L687.8 1173.1 L690.7 1173 L693.6 1172.7 L696.4 1171.9 L699 1170.8 L701.5 1169.3 L703.8 1167.5 L706 1165.5 L708 1163.2 L709.9 1160.8 L711.8 1158.3 L713.5 1155.7 L715.3 1153 L716.9 1150.4 L718.6 1147.8 L720.2 1145.1 L721.7 1142.5 L723.2 1139.8 L724.7 1137.1 L726.1 1134.4 L727.5 1131.7 L728.8 1129 L730.1 1126.2 L731.4 1123.5 L732.6 1120.7 L733.8 1118 L735 1115.2 L736.1 1112.5 L737.3 1109.7 L738.3 1106.9 L739.4 1104.1 L740.4 1101.3 L741.5 1098.5 L742.5 1095.7 L743.4 1092.8 L744.4 1090 L745.3 1087.2 L746.2 1084.3 L747.1 1081.5 L748 1078.6 L748.9 1075.8 L749.8 1072.9 L750.6 1070.1 L751.5 1067.2 L752.3 1064.3 L753.1 1061.4 L754 1058.6 L754.8 1055.7 L755.6 1052.8 L756.4 1049.9 L757.2 1047 L758 1044.1 L758.8 1041.3 L759.7 1038.4 L760.5 1035.5 L761.3 1032.6 L762.1 1029.7 L763 1026.8 L763.8 1023.9 L764.6 1021 L765.5 1018.1 L766.3 1015.2 L767.2 1012.3 L768 1009.4 L768.8 1006.5 L769.7 1003.6 L770.5 1000.7 L771.4 997.8 L772.2 994.9 L773.1 992 L773.9 989.1 L774.7 986.2 L775.6 983.3 L776.4 980.4 L777.3 977.5 L778.1 974.6 L778.9 971.7 L779.8 968.8 L780.6 965.9 L781.4 963.1 L782.3 960.2 L783.1 957.3 L783.9 954.4 L784.7 951.5 L785.5 948.6 L786.3 945.7 L787.2 942.8 L788 939.9 L788.8 937 L789.5 934.1 L790.3 931.3 L791.1 928.4 L791.9 925.5 L792.7 922.6 L793.4 919.7 L794.2 916.8 L795 914 L795.7 911.1 L796.5 908.2 L797.2 905.3 L797.9 902.5 L798.7 899.6 L799.4 896.7 L800.2 893.9 L800.9 891 L801.7 888.1 L802.5 885.2 L803.2 882.4 L804 879.5 L804.8 876.6 L805.6 873.8 L806.4 870.9 L807.2 868 L808 865.1 L808.8 862.3 L809.7 859.4 L810.6 856.5 L811.5 853.6 L812.4 850.7 L813.3 847.9 L814.2 845 L815.2 842.1 L816.2 839.2 L817.2 836.3 L818.3 833.4 L819.3 830.5 L820.4 827.6 L821.5 824.7 L822.7 821.8 L823.9 818.9 L825.1 816 L826.3 813.1 L827.6 810.2 L829 807.5 L830.5 804.8 L832.2 802.2 L833.9 799.9 L835.9 797.7 L838 795.8 L840.3 794.2 L842.8 792.9 L845.5 791.9 L848.3 791.3 L851.1 791.2 L853.8 791.5 L856.3 792.2 L858.7 793.4 L861 794.9 L863.2 796.7 L865.3 798.7 L867.3 801 L869.2 803.4 L871 805.9 L872.8 808.5 L874.5 811.1 L876.1 813.7 L877.7 816.3 L879.2 818.9 L880.7 821.6 L882.1 824.3 L883.4 827 L884.7 829.7 L886 832.5 L887.2 835.2 L888.3 838 L889.4 840.8 L890.5 843.6 L891.5 846.4 L892.5 849.2 L893.5 852.1 L894.4 854.9 L895.3 857.8 L896.1 860.7 L897 863.6 L897.7 866.4 L898.5 869.3 L899.3 872.3 L900 875.2 L900.7 878.1 L901.4 881 L902 884 L902.7 886.9 L903.3 889.8 L904 892.8 L904.6 895.7 L905.2 898.7 L905.8 901.6 L906.4 904.6 L907 907.5 L907.6 910.5 L908.2 913.4 L908.8 916.4 L909.4 919.3 L910 922.3 L910.6 925.2 L911.2 928.2 L911.8 931.1 L912.4 934.1 L913 937 L913.6 940 L914.2 942.9 L914.8 945.9 L915.4 948.8 L916 951.8 L916.6 954.7 L917.3 957.7 L917.9 960.6 L918.5 963.5 L919.1 966.5 L919.7 969.4 L920.3 972.4 L920.9 975.3 L921.5 978.3 L922.1 981.2 L922.7 984.1 L923.3 987.1 L923.9 990 L924.5 993 L925.1 995.9 L925.7 998.8 L926.3 1001.8 L926.9 1004.7 L927.5 1007.6 L928.1 1010.6 L928.7 1013.5 L929.3 1016.5 L929.9 1019.4 L930.5 1022.3 L931.1 1025.3 L931.7 1028.2 L932.3 1031.2 L932.9 1034.1 L933.5 1037 L934.1 1040 L934.7 1042.9 L935.3 1045.8 L935.9 1048.8 L936.5 1051.7 L937.1 1054.7 L937.7 1057.6 L938.3 1060.5 L938.9 1063.5 L939.5 1066.4 L940 1069.3 L940.6 1072.3 L941.2 1075.2 L941.8 1078.2 L942.4 1081.1 L943 1084 L943.6 1087 L944.2 1089.9 L944.8 1092.9 L945.4 1095.8 L946 1098.7 L946.6 1101.7 L947.2 1104.6 L947.7 1107.6 L948.3 1110.5 L948.9 1113.4 L949.5 1116.4 L950.1 1119.3 L950.7 1122.3 L951.3 1125.2 L951.8 1128.2 L952.4 1131.1 L953 1134 L953.6 1137 L954.2 1139.9 L954.8 1142.9 L955.3 1145.8 L955.9 1148.8 L956.5 1151.7 L957.1 1154.7 L957.7 1157.6 L958.2 1160.6 L958.8 1163.5 L959.4 1166.5 L960 1169.4 L960.5 1172.4 L961.1 1175.3 L961.7 1178.3 L962.2 1181.2 L962.8 1184.2 L963.4 1187.1 L964 1190.1 L964.5 1193 L965.1 1196 L965.7 1199 L966.2 1201.9 L966.8 1204.9 L967.4 1207.8 L967.9 1210.8 L968.5 1213.7 L969 1216.7 L969.6 1219.7 L970.2 1222.6 L970.8 1225.6 L971.3 1228.5 L971.9 1231.5 L972.5 1234.5 L973 1237.4 L973.6 1240.4 L974.2 1243.3 L974.8 1246.3 L975.4 1249.2 L976 1252.2 L976.6 1255.1 L977.2 1258.1 L977.8 1261 L978.4 1264 L979 1266.9 L979.7 1269.8 L980.3 1272.8 L980.9 1275.7 L981.6 1278.6 L982.2 1281.6 L982.9 1284.5 L983.5 1287.4 L984.2 1290.3 L984.9 1293.2 L985.6 1296.2 L986.3 1299.1 L987 1302 L987.7 1304.9 L988.4 1307.8 L989.1 1310.7 L989.9 1313.6 L990.6 1316.4 L991.4 1319.3 L992.2 1322.2 L993 1325.1 L993.8 1327.9 L994.6 1330.8 L995.4 1333.6 L996.2 1336.5 L997.1 1339.3 L997.9 1342.2 L998.8 1345 L999.7 1347.9 L1000.6 1350.7 L1001.5 1353.5 L1002.5 1356.4 L1003.5 1359.2 L1004.4 1362 L1005.5 1364.8 L1006.5 1367.6 L1007.5 1370.5 L1008.6 1373.3 L1009.7 1376.1 L1010.9 1378.9 L1012 1381.7 L1013.2 1384.5 L1014.4 1387.3 L1015.7 1390.1 L1016.9 1392.9 L1018.2 1395.7 L1019.6 1398.5 L1021 1401.3 L1022.4 1404.1 L1023.8 1406.8 L1025.3 1409.5 L1026.9 1412.2 L1028.5 1414.8 L1030.1 1417.3 L1031.8 1419.8 L1033.6 1422.3 L1035.4 1424.7 L1037.3 1427 L1039.3 1429.2 L1041.3 1431.3 L1043.4 1433.4 L1045.6 1435.3 L1047.8 1437.2 L1050.2 1438.9 L1052.6 1440.5 L1055 1442 L1057.6 1443.5 L1060.2 1444.8 L1062.9 1446 L1065.6 1447.1 L1068.4 1448.1 L1071.2 1449.1 L1074.1 1449.9 L1077 1450.7 L1079.9 1451.4 L1082.9 1452 L1085.9 1452.5 L1088.9 1453 L1091.9 1453.4 L1094.9 1453.8 L1098 1454 L1101 1454.3 L1104 1454.4 L1107 1454.5 L1110 1454.6 L1113 1454.6 L1116 1454.5 L1119 1454.5 L1122 1454.3 L1125 1454.1 L1128 1453.9 L1131 1453.6 L1134 1453.3 L1136.9 1453 L1139.9 1452.6 L1142.9 1452.2 L1145.9 1451.7 L1148.8 1451.2 L1151.8 1450.7 L1154.7 1450.2 L1157.7 1449.6 L1160.6 1449 L1163.6 1448.4 L1166.5 1447.7 L1169.5 1447.1 L1172.4 1446.4 L1175.4 1445.7 L1178.3 1445 L1181.2 1444.2 L1184.2 1443.5 L1187.1 1442.7 L1190 1441.9 L1193 1441.2 L1195.9 1440.4 L1198.8 1439.6 L1201.8 1438.8 L1204.7 1438 L1207.6 1437.2 L1210.5 1436.4 L1213.5 1435.6 L1216.4 1434.8 L1219.3 1434 L1222.2 1433.2 L1225.2 1432.4 L1228.1 1431.7 L1231 1430.9 L1233.9 1430.2 L1236.8 1429.5 L1239.8 1428.7 L1242.7 1428.1 L1245.6 1427.4 L1248.5 1426.7 L1251.5 1426.1 L1254.4 1425.5 L1257.3 1424.9 L1260.2 1424.4 L1263.2 1423.8 L1266.1 1423.4 L1269 1422.9 L1272 1422.5 L1274.9 1422.1 L1277.8 1421.7 L1280.8 1421.3 L1283.7 1421 L1286.6 1420.7 L1289.6 1420.5 L1292.5 1420.2 L1295.5 1420 L1298.4 1419.9 L1301.3 1419.7 L1304.3 1419.6 L1307.2 1419.5 L1310.2 1419.4 L1313.1 1419.4 L1316.1 1419.3 L1319 1419.3 L1322 1419.4 L1325 1419.4 L1327.9 1419.5 L1330.9 1419.6 L1333.8 1419.7 L1336.8 1419.8 L1339.8 1420 L1342.7 1420.2 L1345.7 1420.4 L1348.7 1420.6 L1351.6 1420.9 L1354.6 1421.1 L1357.6 1421.4 L1360.6 1421.7 L1363.5 1422 L1366.5 1422.4 L1369.5 1422.7 L1372.5 1423.1 L1375.5 1423.5 L1378.4 1423.9 L1381.4 1424.4 L1384.4 1424.8 L1387.4 1425.3 L1390.4 1425.8 L1393.4 1426.2 L1396.4 1426.8 L1399.4 1427.3 L1402.4 1427.8 L1405.4 1428.4 L1408.4 1428.9 L1411.4 1429.5 L1414.4 1430.1 L1417.4 1430.7 L1420.4 1431.3 L1423.4 1431.9 L1426.4 1432.6 L1429.4 1433.2 L1432.4 1433.8 L1435.4 1434.5 L1438.5 1435.1 L1441.5 1435.7 L1444.5 1436.4 L1447.5 1437 L1450.5 1437.6 L1453.5 1438.3 L1456.5 1438.9 L1459.5 1439.5 L1462.5 1440.1 L1465.5 1440.6 L1468.5 1441.2 L1471.5 1441.7 L1474.5 1442.3 L1477.5 1442.8 L1480.5 1443.3 L1483.5 1443.7 L1486.5 1444.2 L1489.4 1444.6 L1492.4 1445 L1495.4 1445.4 L1498.4 1445.7 L1501.3 1446 L1504.3 1446.3 L1507.2 1446.5 L1510.2 1446.7 L1513.1 1446.9 L1516.1 1447 L1519 1447.1 L1521.9 1447.1 L1524.9 1447.1 L1527.8 1447.1 L1530.7 1447 L1533.6 1446.9 L1536.5 1446.7 L1539.4 1446.5 L1542.3 1446.2 L1545.1 1445.8 L1548 1445.5 L1550.9 1445 L1553.7 1444.5 L1556.6 1443.9 L1559.4 1443.3 L1562.2 1442.6 L1565.1 1441.9 L1567.9 1441 L1570.7 1440.2 L1573.5 1439.2 L1576.2 1438.2 L1579 1437.1 L1581.8 1435.9 L1584.5 1434.7 L1587.3 1433.4 L1590 1432.1 L1592.7 1430.7 L1595.4 1429.2 L1598 1427.7 L1600.7 1426.2 L1603.3 1424.6 L1605.9 1422.9 L1608.5 1421.2 L1611.1 1419.4 L1613.6 1417.7 L1616.1 1415.8 L1618.6 1414 L1621.1 1412.1 L1623.5 1410.1 L1625.9 1408.2 L1628.3 1406.2 L1630.6 1404.1 L1632.9 1402.1 L1635.2 1400 L1637.4 1397.9 L1639.7 1395.8 L1641.9 1393.7 L1644 1391.5 L1646.2 1389.4 L1648.3 1387.2 L1650.5 1385.1 L1652.6 1382.9 L1654.7 1380.8 L1656.8 1378.6 L1658.9 1376.5 L1661 1374.4 L1663.1 1372.3 L1665.3 1370.2 L1667.4 1368.1 L1669.5 1366.1 L1671.7 1364.1 L1673.8 1362.1 L1676 1360.1 L1678.2 1358.2 L1680.4 1356.4 L1682.7 1354.5 L1685 1352.7 L1687.3 1351 L1689.6 1349.3 L1692 1347.7 L1694.4 1346.1 L1696.9 1344.6 L1699.4 1343.1 L1702 1341.8 L1704.6 1340.5 L1707.2 1339.2 L1710 1338 L1712.7 1337 L1715.6 1335.9 L1718.4 1335 L1721.4 1334.2 L1724.3 1333.4 L1727.3 1332.8 L1730.4 1332.2 L1733.4 1331.7 L1736.5 1331.4 L1739.6 1331.1 L1742.7 1330.9 L1745.8 1330.9 L1748.8 1330.9 L1751.9 1331.1 L1754.9 1331.3 L1757.9 1331.7 L1760.9 1332.2 L1763.8 1332.8 L1766.7 1333.5 L1769.6 1334.4 L1772.4 1335.4 L1775.1 1336.5 L1777.8 1337.7 L1780.4 1339 L1783 1340.4 L1785.6 1341.8 L1788.1 1343.4 L1790.6 1345 L1793.1 1346.7 L1795.5 1348.5 L1797.9 1350.3 L1800.3 1352.2 L1802.6 1354 L1804.9 1356 L1807.2 1357.9 L1809.5 1359.9 L1811.8 1361.9 L1814 1363.8 L1816.3 1365.8 L1818.5 1367.8 L1820.8 1369.7 L1823 1371.7 L1825.2 1373.6 L1827.5 1375.5 L1829.7 1377.4 L1831.9 1379.2 L1834.2 1381.1 L1836.4 1382.9 L1838.7 1384.8 L1840.9 1386.7 L1843.2 1388.5 L1845.5 1390.4 L1847.8 1392.3 L1850.1 1394.2 L1852.4 1396.1 L1854.8 1398.1 L1857.2 1400.1 L1859.6 1402.1 L1862 1404.1 L1864.4 1406.2 L1866.9 1408.3 L1869.4 1410.4 L1871.9 1412.4 L1874.5 1414.4 L1877.1 1416.2 L1879.7 1418 L1882.3 1419.6 L1885 1421.1 L1887.8 1422.4 L1890.5 1423.4 L1893.3 1424.3 L1896.2 1424.9 L1899 1425.3 L1901.9 1425.5 L1904.8 1425.6 L1907.7 1425.4 L1910.5 1425 L1913.4 1424.5 L1916.2 1423.8 L1918.9 1422.9 L1921.7 1421.8 L1924.4 1420.6 L1927 1419.3 L1929.5 1417.8 L1932 1416.2 L1934.4 1414.5 L1936.7 1412.7 L1938.9 1410.7 L1941 1408.6 L1942.9 1406.5 L1944.9 1404.2 L1946.7 1401.8 L1948.4 1399.4 L1950.1 1396.9 L1951.7 1394.4 L1953.2 1391.7 L1954.6 1389 L1956 1386.3 L1957.3 1383.5 L1958.6 1380.7 L1959.9 1377.9 L1961.1 1375 L1962.2 1372.1 L1963.3 1369.3 L1964.4 1366.4 L1965.5 1363.5 L1966.5 1360.6 L1967.5 1357.7 L1968.5 1354.8 L1969.4 1351.9 L1970.4 1349 L1971.3 1346.1 L1972.1 1343.2 L1973 1340.3 L1973.8 1337.5 L1974.7 1334.6 L1975.5 1331.7 L1976.3 1328.8 L1977 1325.9 L1977.8 1323 L1978.5 1320.1 L1979.2 1317.2 L1979.9 1314.3 L1980.6 1311.4 L1981.3 1308.5 L1981.9 1305.6 L1982.6 1302.7 L1983.2 1299.8 L1983.9 1296.9 L1984.5 1294 L1985.1 1291 L1985.7 1288.1 L1986.3 1285.2 L1986.9 1282.3 L1987.5 1279.4 L1988.1 1276.4 L1988.7 1273.5 L1989.2 1270.6 L1989.8 1267.7 L1990.4 1264.7 L1991 1261.8 L1991.5 1258.8 L1992.1 1255.9 L1992.6 1253 L1993.2 1250 L1993.7 1247.1 L1994.3 1244.1 L1994.8 1241.2 L1995.3 1238.2 L1995.9 1235.3 L1996.4 1232.3 L1996.9 1229.4 L1997.5 1226.4 L1998 1223.4 L1998.5 1220.5 L1999 1217.5 L1999.5 1214.6 L2000 1211.6 L2000.5 1208.6 L2001.1 1205.7 L2001.6 1202.7 L2002.1 1199.7 L2002.5 1196.8 L2003 1193.8 L2003.5 1190.8 L2004 1187.8 L2004.5 1184.9 L2005 1181.9 L2005.5 1178.9 L2006 1176 L2006.4 1173 L2006.9 1170 L2007.4 1167 L2007.8 1164.1 L2008.3 1161.1 L2008.8 1158.1 L2009.3 1155.1 L2009.7 1152.2 L2010.2 1149.2 L2010.6 1146.2 L2011.1 1143.2 L2011.6 1140.3 L2012 1137.3 L2012.5 1134.3 L2012.9 1131.3 L2013.4 1128.4 L2013.8 1125.4 L2014.3 1122.4 L2014.7 1119.5 L2015.2 1116.5 L2015.6 1113.5 L2016 1110.6 L2016.5 1107.6 L2016.9 1104.6 L2017.4 1101.7 L2017.8 1098.7 L2018.3 1095.7 L2018.7 1092.8 L2019.1 1089.8 L2019.6 1086.9 L2020 1083.9 L2020.4 1081 L2020.9 1078 L2021.3 1075 L2021.8 1072.1 L2022.2 1069.2 L2022.6 1066.2 L2023.1 1063.3" fill="none" stroke="#FF0000" stroke-width="2.6" stroke-linejoin="round" stroke-linecap="round" clip-path="url(#ca)"/>
<line x1="393.5" y1="1178.7" x2="581" y2="1178.7" stroke="#4F81BD" stroke-width="3.5" stroke-linecap="butt"/>
<line x1="393.5" y1="1178.7" x2="423.5" y2="1161.7" stroke="#4F81BD" stroke-width="2.8" stroke-linecap="round"/>
<line x1="393.5" y1="1178.7" x2="423.5" y2="1195.7" stroke="#4F81BD" stroke-width="2.8" stroke-linecap="round"/>
<line x1="581" y1="1178.7" x2="551" y2="1161.7" stroke="#4F81BD" stroke-width="2.8" stroke-linecap="round"/>
<line x1="581" y1="1178.7" x2="551" y2="1195.7" stroke="#4F81BD" stroke-width="2.8" stroke-linecap="round"/>
<line x1="756.4" y1="1158.6" x2="954.5" y2="1158.6" stroke="#4F81BD" stroke-width="3.5" stroke-linecap="butt"/>
<line x1="756.4" y1="1158.6" x2="786.4" y2="1141.6" stroke="#4F81BD" stroke-width="2.8" stroke-linecap="round"/>
<line x1="756.4" y1="1158.6" x2="786.4" y2="1175.6" stroke="#4F81BD" stroke-width="2.8" stroke-linecap="round"/>
<line x1="954.5" y1="1158.6" x2="924.5" y2="1141.6" stroke="#4F81BD" stroke-width="2.8" stroke-linecap="round"/>
<line x1="954.5" y1="1158.6" x2="924.5" y2="1175.6" stroke="#4F81BD" stroke-width="2.8" stroke-linecap="round"/>
<line x1="487.3" y1="1390" x2="749" y2="1390" stroke="#4F81BD" stroke-width="3.5" stroke-linecap="butt"/>
<line x1="487.3" y1="1390" x2="517.3" y2="1373" stroke="#4F81BD" stroke-width="2.8" stroke-linecap="round"/>
<line x1="487.3" y1="1390" x2="517.3" y2="1407" stroke="#4F81BD" stroke-width="2.8" stroke-linecap="round"/>
<line x1="749" y1="1390" x2="719" y2="1373" stroke="#4F81BD" stroke-width="2.8" stroke-linecap="round"/>
<line x1="749" y1="1390" x2="719" y2="1407" stroke="#4F81BD" stroke-width="2.8" stroke-linecap="round"/>
<text x="417.8" y="1233.7" font-family="'Liberation Sans', Arial, sans-serif" font-size="47" font-weight="normal" text-anchor="start" fill="#111">31 nm</text>
<text x="793" y="1200.3" font-family="'Liberation Sans', Arial, sans-serif" font-size="47" font-weight="normal" text-anchor="start" fill="#111">32 nm</text>
<text x="548" y="1428.1" font-family="'Liberation Sans', Arial, sans-serif" font-size="47" font-weight="normal" text-anchor="start" fill="#111">33 nm</text>
<line x1="296.7" y1="58.5" x2="296.7" y2="1454.8" stroke="#000" stroke-width="5.6" stroke-linecap="butt"/>
<line x1="293.9" y1="1452" x2="2025.3" y2="1452" stroke="#000" stroke-width="5.6" stroke-linecap="butt"/>
<line x1="270" y1="61.3" x2="2025.3" y2="61.3" stroke="#000" stroke-width="5.6" stroke-linecap="butt"/>
<line x1="2022.5" y1="58.5" x2="2022.5" y2="1478" stroke="#000" stroke-width="5.6" stroke-linecap="butt"/>
<line x1="270" y1="1444" x2="296.7" y2="1444" stroke="#000" stroke-width="5.6" stroke-linecap="butt"/>
<line x1="270" y1="1213.5" x2="296.7" y2="1213.5" stroke="#000" stroke-width="5.6" stroke-linecap="butt"/>
<line x1="270" y1="983.1" x2="296.7" y2="983.1" stroke="#000" stroke-width="5.6" stroke-linecap="butt"/>
<line x1="270" y1="752.6" x2="296.7" y2="752.6" stroke="#000" stroke-width="5.6" stroke-linecap="butt"/>
<line x1="270" y1="522.2" x2="296.7" y2="522.2" stroke="#000" stroke-width="5.6" stroke-linecap="butt"/>
<line x1="270" y1="291.7" x2="296.7" y2="291.7" stroke="#000" stroke-width="5.6" stroke-linecap="butt"/>
<line x1="270" y1="61.2" x2="296.7" y2="61.2" stroke="#000" stroke-width="5.6" stroke-linecap="butt"/>
<line x1="283" y1="1328.8" x2="296.7" y2="1328.8" stroke="#000" stroke-width="5.6" stroke-linecap="butt"/>
<line x1="283" y1="1098.3" x2="296.7" y2="1098.3" stroke="#000" stroke-width="5.6" stroke-linecap="butt"/>
<line x1="283" y1="867.8" x2="296.7" y2="867.8" stroke="#000" stroke-width="5.6" stroke-linecap="butt"/>
<line x1="283" y1="637.4" x2="296.7" y2="637.4" stroke="#000" stroke-width="5.6" stroke-linecap="butt"/>
<line x1="283" y1="406.9" x2="296.7" y2="406.9" stroke="#000" stroke-width="5.6" stroke-linecap="butt"/>
<line x1="283" y1="176.5" x2="296.7" y2="176.5" stroke="#000" stroke-width="5.6" stroke-linecap="butt"/>
<line x1="367" y1="1452" x2="367" y2="1478" stroke="#000" stroke-width="5.6" stroke-linecap="butt"/>
<line x1="642.8" y1="1452" x2="642.8" y2="1478" stroke="#000" stroke-width="5.6" stroke-linecap="butt"/>
<line x1="918.7" y1="1452" x2="918.7" y2="1478" stroke="#000" stroke-width="5.6" stroke-linecap="butt"/>
<line x1="1194.5" y1="1452" x2="1194.5" y2="1478" stroke="#000" stroke-width="5.6" stroke-linecap="butt"/>
<line x1="1470.4" y1="1452" x2="1470.4" y2="1478" stroke="#000" stroke-width="5.6" stroke-linecap="butt"/>
<line x1="1746.2" y1="1452" x2="1746.2" y2="1478" stroke="#000" stroke-width="5.6" stroke-linecap="butt"/>
<line x1="2022" y1="1452" x2="2022" y2="1478" stroke="#000" stroke-width="5.6" stroke-linecap="butt"/>
<line x1="504.9" y1="1452" x2="504.9" y2="1465" stroke="#000" stroke-width="5.6" stroke-linecap="butt"/>
<line x1="780.8" y1="1452" x2="780.8" y2="1465" stroke="#000" stroke-width="5.6" stroke-linecap="butt"/>
<line x1="1056.6" y1="1452" x2="1056.6" y2="1465" stroke="#000" stroke-width="5.6" stroke-linecap="butt"/>
<line x1="1332.4" y1="1452" x2="1332.4" y2="1465" stroke="#000" stroke-width="5.6" stroke-linecap="butt"/>
<line x1="1608.3" y1="1452" x2="1608.3" y2="1465" stroke="#000" stroke-width="5.6" stroke-linecap="butt"/>
<line x1="1884.1" y1="1452" x2="1884.1" y2="1465" stroke="#000" stroke-width="5.6" stroke-linecap="butt"/>
<text x="252" y="1462" font-family="'Liberation Sans', Arial, sans-serif" font-size="60" font-weight="normal" text-anchor="end" fill="#000" stroke="#000" stroke-width="1">0</text>
<text x="252" y="1231.5" font-family="'Liberation Sans', Arial, sans-serif" font-size="60" font-weight="normal" text-anchor="end" fill="#000" stroke="#000" stroke-width="1">200</text>
<text x="252" y="1001.1" font-family="'Liberation Sans', Arial, sans-serif" font-size="60" font-weight="normal" text-anchor="end" fill="#000" stroke="#000" stroke-width="1">400</text>
<text x="252" y="770.6" font-family="'Liberation Sans', Arial, sans-serif" font-size="60" font-weight="normal" text-anchor="end" fill="#000" stroke="#000" stroke-width="1">600</text>
<text x="252" y="540.2" font-family="'Liberation Sans', Arial, sans-serif" font-size="60" font-weight="normal" text-anchor="end" fill="#000" stroke="#000" stroke-width="1">800</text>
<text x="252" y="309.7" font-family="'Liberation Sans', Arial, sans-serif" font-size="60" font-weight="normal" text-anchor="end" fill="#000" stroke="#000" stroke-width="1">1000</text>
<text x="252" y="79.2" font-family="'Liberation Sans', Arial, sans-serif" font-size="60" font-weight="normal" text-anchor="end" fill="#000" stroke="#000" stroke-width="1">1200</text>
<text x="367" y="1542" font-family="'Liberation Sans', Arial, sans-serif" font-size="60" font-weight="normal" text-anchor="middle" fill="#000" stroke="#000" stroke-width="1">440</text>
<text x="642.8" y="1542" font-family="'Liberation Sans', Arial, sans-serif" font-size="60" font-weight="normal" text-anchor="middle" fill="#000" stroke="#000" stroke-width="1">480</text>
<text x="918.7" y="1542" font-family="'Liberation Sans', Arial, sans-serif" font-size="60" font-weight="normal" text-anchor="middle" fill="#000" stroke="#000" stroke-width="1">520</text>
<text x="1194.5" y="1542" font-family="'Liberation Sans', Arial, sans-serif" font-size="60" font-weight="normal" text-anchor="middle" fill="#000" stroke="#000" stroke-width="1">560</text>
<text x="1470.4" y="1542" font-family="'Liberation Sans', Arial, sans-serif" font-size="60" font-weight="normal" text-anchor="middle" fill="#000" stroke="#000" stroke-width="1">600</text>
<text x="1746.2" y="1542" font-family="'Liberation Sans', Arial, sans-serif" font-size="60" font-weight="normal" text-anchor="middle" fill="#000" stroke="#000" stroke-width="1">640</text>
<text x="2022" y="1542" font-family="'Liberation Sans', Arial, sans-serif" font-size="60" font-weight="normal" text-anchor="middle" fill="#000" stroke="#000" stroke-width="1">680</text>
<text x="884.6" y="1625.4" font-family="'Liberation Sans', Arial, sans-serif" font-size="72.5" font-weight="normal" text-anchor="start" fill="#000" stroke="#000" stroke-width="1.1">Wavelength (nm)</text>
<text x="118" y="984.9" font-family="'Liberation Sans', Arial, sans-serif" font-size="72.5" font-weight="normal" text-anchor="start" fill="#000" transform="rotate(-90 118 984.9)" stroke="#000" stroke-width="1.1">Intensity (a.u.)</text>
<text x="1077" y="1762.6" font-family="'Liberation Serif', 'Times New Roman', serif" font-size="85" font-weight="normal" text-anchor="middle" fill="#000">(<tspan font-weight="bold">a</tspan>)</text>
<rect x="975" y="70" width="1055.5" height="857" stroke="#000" stroke-width="2.8" fill="#fff"/>
<clipPath id="cia"><rect x="1102.5" y="104" width="891" height="717.5"/></clipPath>
<path d="M1137.5 826.2 L1140.9 825.2 L1144.3 824.2 L1147.7 823.2 L1151.2 822.1 L1154.6 821 L1158 819.9 L1161.4 818.8 L1164.9 817.6 L1168.3 816.4 L1171.7 815.2 L1175.1 814 L1178.5 812.8 L1182 811.5 L1185.4 810.3 L1188.8 809 L1192.2 807.7 L1195.7 806.4 L1199.1 805.1 L1202.5 803.8 L1206 802.5 L1209.4 801.2 L1212.8 800 L1216.2 798.7 L1219.7 797.4 L1223.1 796.2 L1226.5 794.9 L1229.9 793.7 L1233.4 792.5 L1236.8 791.4 L1240.2 790.3 L1243.6 789.2 L1247 788.1 L1250.5 787.1 L1253.9 786.1 L1257.3 785.2 L1260.8 784.3 L1264.2 783.5 L1267.6 782.7 L1271 781.9 L1274.5 781.3 L1277.9 780.6 L1281.3 780.1 L1284.7 779.6 L1288.2 779.2 L1291.6 778.8 L1295 778.5 L1298.4 778.2 L1301.9 778.1 L1305.3 778 L1308.7 777.9 L1312.1 778 L1315.5 778.1 L1319 778.2 L1322.4 778.5 L1325.8 778.8 L1329.2 779.2 L1332.7 779.6 L1336.1 780.1 L1339.5 780.6 L1343 781.3 L1346.4 781.9 L1349.8 782.7 L1353.2 783.5 L1356.7 784.3 L1360.1 785.2 L1363.5 786.1 L1366.9 787.1 L1370.3 788.1 L1373.8 789.2 L1377.2 790.3 L1380.6 791.4 L1384 792.5 L1387.5 793.7 L1390.9 794.9 L1394.3 796.2 L1397.8 797.4 L1401.2 798.7 L1404.6 800 L1408 801.2 L1411.5 802.5 L1414.9 803.8 L1418.3 805.1 L1421.7 806.4 L1425.2 807.7 L1428.6 809 L1432 810.3 L1435.4 811.5 L1438.8 812.8 L1442.3 814 L1445.7 815.2 L1449.1 816.4 L1452.5 817.6 L1456 818.8 L1459.4 819.9 L1462.8 821 L1466.2 822.1 L1469.7 823.2 L1473.1 824.2 L1476.5 825.2 L1480 826.2" fill="none" stroke="#2EE6E6" stroke-width="2" stroke-linejoin="round" stroke-linecap="round" clip-path="url(#cia)"/>
<path d="M1562.2 843.8 L1565.6 838.5 L1569 833.2 L1572.4 827.7 L1575.8 822.2 L1579.3 816.7 L1582.7 811 L1586.1 805.3 L1589.5 799.6 L1593 793.8 L1596.4 788 L1599.8 782.2 L1603.2 776.3 L1606.7 770.5 L1610.1 764.6 L1613.5 758.8 L1617 753 L1620.4 747.2 L1623.8 741.4 L1627.2 735.8 L1630.7 730.2 L1634.1 724.6 L1637.5 719.2 L1640.9 713.9 L1644.3 708.6 L1647.8 703.5 L1651.2 698.6 L1654.6 693.7 L1658 689.1 L1661.5 684.6 L1664.9 680.2 L1668.3 676.1 L1671.8 672.1 L1675.2 668.4 L1678.6 664.9 L1682 661.5 L1685.5 658.4 L1688.9 655.6 L1692.3 653 L1695.7 650.6 L1699.2 648.5 L1702.6 646.7 L1706 645.1 L1709.4 643.8 L1712.8 642.7 L1716.3 642 L1719.7 641.5 L1723.1 641.3 L1726.6 641.3 L1730 641.7 L1733.4 642.3 L1736.8 643.2 L1740.2 644.3 L1743.7 645.8 L1747.1 647.5 L1750.5 649.4 L1754 651.6 L1757.4 654.1 L1760.8 656.8 L1764.2 659.8 L1767.7 663 L1771.1 666.4 L1774.5 670 L1777.9 673.9 L1781.3 677.9 L1784.8 682.1 L1788.2 686.5 L1791.6 691.1 L1795.1 695.8 L1798.5 700.7 L1801.9 705.8 L1805.3 710.9 L1808.8 716.2 L1812.2 721.6 L1815.6 727.1 L1819 732.6 L1822.5 738.3 L1825.9 744 L1829.3 749.7 L1832.7 755.5 L1836.2 761.3 L1839.6 767.2 L1843 773 L1846.4 778.9 L1849.8 784.7 L1853.3 790.6 L1856.7 796.4 L1860.1 802.1 L1863.5 807.8 L1867 813.5 L1870.4 819.1 L1873.8 824.7 L1877.2 830.1 L1880.7 835.5 L1884.1 840.8 L1887.5 846.1 L1891 851.2" fill="none" stroke="#FF3BFF" stroke-width="2" stroke-linejoin="round" stroke-linecap="round" clip-path="url(#cia)"/>
<path d="M1891 848.7 L1894.4 842.6 L1897.8 835.9 L1901.2 828.6 L1904.7 820.8 L1908.1 812.4 L1911.5 803.3 L1914.9 793.5 L1918.3 783 L1921.8 771.6 L1925.2 759.4 L1928.6 746.3 L1932 732.2 L1935.5 717 L1938.9 700.7 L1942.3 683.3 L1945.8 664.6 L1949.2 644.6 L1952.6 623.2 L1956 600.3 L1959.5 575.8 L1962.9 549.7 L1966.3 521.8 L1969.7 492 L1973.2 460.3 L1976.6 426.5 L1980 390.5 L1983.4 352.3 L1986.8 311.6 L1990.3 268.4 L1993.7 222.5" fill="none" stroke="#FFFF22" stroke-width="2" stroke-linejoin="round" stroke-linecap="round" clip-path="url(#cia)"/>
<path d="M1147.7 821.8 L1150.4 821.3 L1153.1 820.8 L1155.8 820.2 L1158.6 819.6 L1161.3 818.9 L1164.1 818.2 L1166.9 817.4 L1169.7 816.6 L1172.5 815.8 L1175.3 814.9 L1178.1 814 L1180.9 813.1 L1183.7 812.1 L1186.5 811.1 L1189.4 810.1 L1192.2 809 L1195.1 808 L1197.9 806.9 L1200.8 805.8 L1203.7 804.7 L1206.5 803.6 L1209.4 802.5 L1212.3 801.3 L1215.2 800.2 L1218.1 799.1 L1221 798 L1223.9 796.8 L1226.8 795.7 L1229.7 794.6 L1232.6 793.5 L1235.5 792.4 L1238.5 791.3 L1241.4 790.2 L1244.3 789.2 L1247.2 788.2 L1250.2 787.2 L1253.1 786.2 L1256 785.2 L1259 784.3 L1261.9 783.4 L1264.8 782.6 L1267.8 781.7 L1270.7 781 L1273.6 780.2 L1276.6 779.5 L1279.5 778.9 L1282.4 778.3 L1285.4 777.7 L1288.3 777.2 L1291.2 776.8 L1294.2 776.4 L1297.1 776.1 L1300 775.8 L1302.9 775.6 L1305.8 775.4 L1308.8 775.4 L1311.7 775.4 L1314.6 775.4 L1317.5 775.5 L1320.4 775.7 L1323.3 775.9 L1326.2 776.2 L1329.1 776.5 L1332 776.9 L1334.9 777.3 L1337.8 777.8 L1340.7 778.3 L1343.6 778.9 L1346.5 779.5 L1349.4 780.2 L1352.2 780.8 L1355.1 781.6 L1358 782.3 L1360.9 783.1 L1363.8 783.9 L1366.7 784.8 L1369.6 785.6 L1372.4 786.5 L1375.3 787.4 L1378.2 788.4 L1381.1 789.3 L1384 790.3 L1386.8 791.3 L1389.7 792.3 L1392.6 793.3 L1395.5 794.3 L1398.4 795.4 L1401.3 796.4 L1404.1 797.4 L1407 798.5 L1409.9 799.5 L1412.8 800.6 L1415.7 801.6 L1418.6 802.6 L1421.4 803.6 L1424.3 804.7 L1427.2 805.7 L1430.1 806.7 L1433 807.6 L1435.9 808.6 L1438.8 809.5 L1441.7 810.4 L1444.6 811.3 L1447.5 812.2 L1450.4 813 L1453.3 813.9 L1456.2 814.6 L1459.2 815.4 L1462.1 816.1 L1465 816.8 L1467.9 817.5 L1470.8 818.1 L1473.8 818.6 L1476.7 819.2 L1479.6 819.7 L1482.6 820.2 L1485.5 820.6 L1488.4 821 L1491.4 821.3 L1494.3 821.7 L1497.3 821.9 L1500.2 822.2 L1503.2 822.4 L1506.1 822.5 L1509.1 822.7 L1512 822.7 L1515 822.8 L1517.9 822.8 L1520.9 822.8 L1523.9 822.7 L1526.8 822.6 L1529.8 822.4 L1532.8 822.2 L1535.7 822 L1538.7 821.7 L1541.7 821.4 L1544.6 821 L1547.6 820.6 L1550.6 820.1 L1553.4 819.4 L1556.2 818.5 L1558.9 817.4 L1561.5 816 L1564 814.5 L1566.4 812.7 L1568.7 810.8 L1571 808.8 L1573.2 806.6 L1575.3 804.3 L1577.3 801.9 L1579.3 799.4 L1581.3 796.9 L1583.2 794.3 L1585 791.7 L1586.9 789.1 L1588.7 786.4 L1590.5 783.9 L1592.2 781.3 L1594 778.7 L1595.7 776.2 L1597.4 773.7 L1599.1 771.2 L1600.7 768.8 L1602.4 766.3 L1604 763.9 L1605.7 761.4 L1607.3 759 L1608.9 756.6 L1610.5 754.2 L1612.1 751.8 L1613.7 749.4 L1615.3 747 L1616.9 744.7 L1618.4 742.3 L1620 739.9 L1621.6 737.5 L1623.2 735.1 L1624.8 732.8 L1626.4 730.4 L1628 728 L1629.6 725.5 L1631.2 723.1 L1632.9 720.7 L1634.5 718.3 L1636.2 715.8 L1637.8 713.3 L1639.5 710.8 L1641.2 708.3 L1643 705.8 L1644.7 703.2 L1646.5 700.7 L1648.2 698.1 L1650.1 695.4 L1651.9 692.8 L1653.7 690.1 L1655.6 687.5 L1657.5 684.8 L1659.4 682.1 L1661.4 679.5 L1663.4 676.8 L1665.4 674.2 L1667.4 671.6 L1669.5 669.1 L1671.6 666.6 L1673.7 664.2 L1675.9 661.9 L1678 659.6 L1680.3 657.4 L1682.5 655.3 L1684.8 653.3 L1687.1 651.4 L1689.4 649.6 L1691.7 647.9 L1694.1 646.4 L1696.6 645 L1699 643.7 L1701.5 642.6 L1704 641.7 L1706.6 640.9 L1709.2 640.3 L1711.8 639.9 L1714.5 639.6 L1717.2 639.6 L1719.9 639.7 L1722.7 640 L1725.4 640.5 L1728.2 641.1 L1731 641.9 L1733.8 642.8 L1736.6 643.8 L1739.3 645 L1742.1 646.3 L1744.9 647.7 L1747.6 649.3 L1750.3 650.9 L1753 652.6 L1755.7 654.4 L1758.3 656.3 L1760.9 658.2 L1763.4 660.3 L1765.9 662.4 L1768.4 664.5 L1770.7 666.7 L1773 668.9 L1775.3 671.1 L1777.5 673.4 L1779.6 675.7 L1781.6 678 L1783.6 680.3 L1785.5 682.7 L1787.3 685 L1789.1 687.4 L1790.9 689.8 L1792.6 692.2 L1794.2 694.6 L1795.9 697.1 L1797.5 699.5 L1799 702 L1800.6 704.5 L1802.1 707 L1803.7 709.5 L1805.2 712 L1806.7 714.5 L1808.2 717.1 L1809.7 719.6 L1811.3 722.2 L1812.8 724.7 L1814.3 727.3 L1815.9 729.8 L1817.5 732.4 L1819.1 734.9 L1820.8 737.5 L1822.4 740 L1824.1 742.5 L1825.9 744.9 L1827.6 747.4 L1829.5 749.8 L1831.4 752.2 L1833.3 754.5 L1835.3 756.8 L1837.3 759.1 L1839.4 761.3 L1841.6 763.5 L1843.8 765.6 L1846.1 767.7 L1848.5 769.8 L1850.9 771.7 L1853.5 773.6 L1856.1 775.5 L1858.8 777.2 L1861.5 778.8 L1864.3 780.3 L1867.1 781.5 L1869.8 782.6 L1872.6 783.3 L1875.3 783.8 L1877.9 783.9 L1880.5 783.7 L1883 783 L1885.4 782 L1887.6 780.5 L1889.7 778.6 L1891.7 776.4 L1893.5 774 L1895.2 771.3 L1896.7 768.4 L1898.1 765.4 L1899.3 762.3 L1900.4 759.2 L1901.3 756.1 L1902.1 753 L1902.9 749.9 L1903.5 746.9 L1904.2 743.8 L1904.8 740.8 L1905.5 737.9 L1906.2 735 L1907.1 732.2 L1908 729.4 L1909.2 726.7 L1910.5 724.1 L1912 721.6 L1913.6 719.2 L1915.4 716.8 L1917.2 714.4 L1919 712 L1920.7 709.6 L1922.3 707.1 L1923.9 704.6 L1925.4 702.1 L1926.9 699.6 L1928.4 697 L1929.7 694.4 L1931.1 691.8 L1932.4 689.1 L1933.6 686.5 L1934.8 683.8 L1936 681.1 L1937.1 678.3 L1938.2 675.6 L1939.2 672.8 L1940.2 670 L1941.2 667.2 L1942.1 664.4 L1943 661.5 L1943.9 658.7 L1944.7 655.8 L1945.5 652.9 L1946.3 650 L1947 647.1 L1947.7 644.2 L1948.4 641.3 L1949.1 638.3 L1949.7 635.4 L1950.3 632.4 L1950.9 629.4 L1951.5 626.5 L1952 623.5 L1952.6 620.5 L1953.1 617.5 L1953.6 614.5 L1954.1 611.5 L1954.6 608.5 L1955 605.5 L1955.5 602.5 L1955.9 599.4 L1956.4 596.4 L1956.8 593.4 L1957.2 590.4 L1957.6 587.4 L1958.1 584.4 L1958.5 581.4 L1958.9 578.4 L1959.3 575.4 L1959.7 572.4 L1960.1 569.4 L1960.5 566.4 L1960.8 563.4 L1961.2 560.4 L1961.6 557.4 L1962 554.4 L1962.3 551.4 L1962.7 548.4 L1963.1 545.4 L1963.4 542.4 L1963.8 539.4 L1964.1 536.4 L1964.5 533.4 L1964.8 530.4 L1965.2 527.5 L1965.5 524.5 L1965.8 521.5 L1966.2 518.5 L1966.5 515.5 L1966.8 512.5 L1967.1 509.5 L1967.5 506.6 L1967.8 503.6 L1968.1 500.6 L1968.4 497.6 L1968.7 494.6 L1969 491.6 L1969.3 488.7 L1969.6 485.7 L1969.9 482.7 L1970.2 479.7 L1970.5 476.7 L1970.8 473.8 L1971.1 470.8 L1971.4 467.8 L1971.6 464.8 L1971.9 461.8 L1972.2 458.8 L1972.5 455.9 L1972.8 452.9 L1973.1 449.9 L1973.3 446.9 L1973.6 443.9 L1973.9 440.9 L1974.2 437.9 L1974.4 435 L1974.7 432 L1975 429 L1975.2 426 L1975.5 423 L1975.8 420 L1976 417 L1976.3 414 L1976.6 411 L1976.8 408 L1977.1 405 L1977.3 402 L1977.6 399 L1977.9 396 L1978.1 393 L1978.4 390 L1978.6 387 L1978.9 384 L1979.2 381 L1979.4 378 L1979.7 375 L1979.9 372 L1980.2 369 L1980.4 366 L1980.7 363 L1980.9 360 L1981.2 357 L1981.4 354 L1981.7 351 L1982 348 L1982.2 345 L1982.5 342 L1982.7 339 L1983 336 L1983.2 333 L1983.5 330 L1983.7 327 L1984 323.9 L1984.2 320.9 L1984.4 317.9 L1984.7 314.9 L1984.9 311.9 L1985.2 308.9 L1985.4 305.9 L1985.7 302.9 L1985.9 299.9 L1986.2 296.9 L1986.4 293.9 L1986.7 290.9 L1986.9 287.9 L1987.2 284.9 L1987.4 281.9 L1987.7 278.9 L1987.9 275.9 L1988.2 272.9 L1988.4 269.9 L1988.7 266.9 L1988.9 263.9 L1989.2 260.9 L1989.4 257.9 L1989.7 254.9 L1989.9 251.9 L1990.2 248.9 L1990.4 245.9 L1990.7 242.9 L1990.9 239.9 L1991.2 236.9 L1991.4 233.9 L1991.7 231 L1991.9 228 L1992.2 225 L1992.4 222 L1992.7 219 L1992.9 216 L1993.2 213" fill="none" stroke="#111" stroke-width="3.6" stroke-linejoin="round" stroke-linecap="round" clip-path="url(#cia)"/>
<path d="M1141 823.8 L1143.7 822.6 L1146.5 821.4 L1149.2 820.3 L1152 819.1 L1154.7 817.9 L1157.5 816.7 L1160.2 815.5 L1163 814.4 L1165.8 813.2 L1168.6 812 L1171.3 810.8 L1174.1 809.7 L1176.9 808.5 L1179.7 807.4 L1182.5 806.2 L1185.3 805.1 L1188.1 804 L1190.9 802.9 L1193.7 801.8 L1196.5 800.7 L1199.3 799.6 L1202.2 798.5 L1205 797.5 L1207.8 796.5 L1210.7 795.4 L1213.5 794.4 L1216.4 793.5 L1219.2 792.5 L1222.1 791.6 L1224.9 790.6 L1227.8 789.8 L1230.7 788.9 L1233.5 788 L1236.4 787.2 L1239.3 786.4 L1242.2 785.6 L1245.1 784.9 L1248 784.2 L1250.9 783.5 L1253.8 782.8 L1256.8 782.2 L1259.7 781.6 L1262.6 781.1 L1265.5 780.5 L1268.5 780 L1271.4 779.6 L1274.4 779.2 L1277.4 778.8 L1280.3 778.4 L1283.3 778.1 L1286.3 777.9 L1289.3 777.6 L1292.3 777.4 L1295.3 777.3 L1298.3 777.2 L1301.3 777.1 L1304.3 777.1 L1307.3 777.2 L1310.4 777.2 L1313.4 777.4 L1316.5 777.5 L1319.5 777.7 L1322.5 778 L1325.6 778.3 L1328.6 778.6 L1331.6 779 L1334.7 779.4 L1337.7 779.9 L1340.7 780.4 L1343.7 780.9 L1346.7 781.5 L1349.7 782.1 L1352.7 782.7 L1355.6 783.4 L1358.6 784.1 L1361.5 784.8 L1364.4 785.6 L1367.3 786.4 L1370.1 787.3 L1373 788.1 L1375.8 789 L1378.6 790 L1381.4 790.9 L1384.2 791.9 L1387 792.9 L1389.8 793.9 L1392.6 794.9 L1395.3 795.9 L1398.1 797 L1400.8 798 L1403.6 799.1 L1406.4 800.2 L1409.1 801.3 L1411.9 802.3 L1414.7 803.4 L1417.5 804.5 L1420.3 805.6 L1423.1 806.6 L1425.9 807.7 L1428.8 808.7 L1431.6 809.8 L1434.5 810.8 L1437.4 811.8 L1440.3 812.8 L1443.3 813.7 L1446.2 814.7 L1449.2 815.6 L1452.1 816.4 L1455.1 817.3 L1458.1 818.1 L1461.1 818.8 L1464.1 819.5 L1467.1 820.2 L1470.1 820.8 L1473.1 821.3 L1476.1 821.8 L1479.1 822.2 L1482.1 822.6 L1485.1 822.9 L1488.1 823.2 L1491 823.3 L1494 823.4 L1497 823.4 L1500 823.3 L1502.9 823.2 L1505.9 822.9 L1508.8 822.6 L1511.7 822.2 L1514.6 821.7 L1517.5 821 L1520.4 820.3 L1523.2 819.5 L1526 818.6 L1528.9 817.6 L1531.7 816.5 L1534.4 815.3 L1537.2 814.1 L1539.9 812.8 L1542.6 811.4 L1545.3 809.9 L1547.9 808.4 L1550.5 806.8 L1553.1 805.2 L1555.7 803.6 L1558.2 801.8 L1560.8 800.1 L1563.2 798.3 L1565.7 796.5 L1568.1 794.6 L1570.5 792.7 L1572.8 790.8 L1575.1 788.9 L1577.4 787 L1579.6 785 L1581.8 783.1 L1584 781.1 L1586.2 779.1 L1588.3 777 L1590.4 775 L1592.5 772.9 L1594.5 770.8 L1596.5 768.7 L1598.5 766.6 L1600.5 764.4 L1602.4 762.2 L1604.4 760 L1606.3 757.8 L1608.1 755.5 L1610 753.3 L1611.9 751 L1613.7 748.7 L1615.5 746.3 L1617.3 743.9 L1619.1 741.5 L1620.9 739.1 L1622.7 736.7 L1624.4 734.2 L1626.2 731.7 L1627.9 729.2 L1629.6 726.7 L1631.3 724.1 L1633.1 721.5 L1634.8 718.9 L1636.5 716.2 L1638.2 713.5 L1639.9 710.9 L1641.6 708.2 L1643.3 705.5 L1645 702.8 L1646.8 700.1 L1648.5 697.4 L1650.3 694.7 L1652 692 L1653.8 689.4 L1655.6 686.8 L1657.5 684.2 L1659.3 681.7 L1661.2 679.2 L1663.1 676.7 L1665 674.3 L1667 671.9 L1669 669.7 L1671 667.4 L1673.1 665.3 L1675.2 663.2 L1677.4 661.2 L1679.6 659.2 L1681.8 657.4 L1684.1 655.6 L1686.5 654 L1688.9 652.4 L1691.3 651 L1693.9 649.6 L1696.4 648.4 L1699.1 647.3 L1701.7 646.3 L1704.5 645.4 L1707.3 644.7 L1710.1 644 L1712.9 643.5 L1715.8 643.2 L1718.7 642.9 L1721.6 642.8 L1724.5 642.8 L1727.4 642.9 L1730.3 643.1 L1733.2 643.5 L1736.1 644 L1739 644.6 L1741.8 645.4 L1744.5 646.2 L1747.3 647.3 L1749.9 648.4 L1752.5 649.6 L1755.1 651 L1757.6 652.6 L1760 654.2 L1762.4 655.9 L1764.7 657.8 L1766.9 659.7 L1769.1 661.8 L1771.3 663.9 L1773.4 666.1 L1775.4 668.4 L1777.4 670.7 L1779.4 673.1 L1781.3 675.6 L1783.2 678.1 L1785.1 680.7 L1786.9 683.3 L1788.7 685.9 L1790.5 688.5 L1792.3 691.2 L1794 693.9 L1795.7 696.5 L1797.4 699.2 L1799.1 701.9 L1800.7 704.6 L1802.4 707.3 L1804 710.1 L1805.7 712.8 L1807.3 715.5 L1809 718.1 L1810.6 720.8 L1812.3 723.5 L1813.9 726.2 L1815.6 728.8 L1817.3 731.4 L1819 734 L1820.7 736.6 L1822.5 739.1 L1824.2 741.7 L1826 744.2 L1827.8 746.6 L1829.7 749 L1831.6 751.4 L1833.5 753.8 L1835.4 756.1 L1837.5 758.4 L1839.5 760.6 L1841.6 762.7 L1843.7 764.9 L1845.9 766.9 L1848.2 768.9 L1850.5 770.9 L1852.8 772.8 L1855.3 774.6 L1857.8 776.4 L1860.3 778.1 L1862.9 779.7 L1865.5 781.1 L1868.1 782.4 L1870.8 783.6 L1873.4 784.5 L1876.1 785.3 L1878.7 785.9 L1881.4 786.2 L1883.9 786.3 L1886.5 786.2 L1889 785.8 L1891.4 785.1 L1893.8 784.2 L1896.1 783 L1898.4 781.7 L1900.5 780.1 L1902.6 778.2 L1904.5 776.2 L1906.4 774 L1908.2 771.7 L1910 769.2 L1911.6 766.6 L1913.2 764 L1914.7 761.2 L1916.1 758.4 L1917.5 755.6 L1918.8 752.7 L1920 749.9 L1921.1 747 L1922.2 744.1 L1923.3 741.2 L1924.3 738.3 L1925.2 735.3 L1926.1 732.4 L1927 729.5 L1927.8 726.5 L1928.6 723.6 L1929.4 720.6 L1930.2 717.6 L1930.9 714.7 L1931.6 711.7 L1932.3 708.7 L1933 705.8 L1933.7 702.8 L1934.4 699.8 L1935.1 696.8 L1935.8 693.9 L1936.4 690.9 L1937.1 687.9 L1937.7 684.9 L1938.4 682 L1939 679 L1939.6 676 L1940.3 673.1 L1940.9 670.1 L1941.5 667.1 L1942.1 664.1 L1942.7 661.2 L1943.3 658.2 L1943.9 655.2 L1944.4 652.2 L1945 649.3 L1945.6 646.3 L1946.2 643.3 L1946.7 640.4 L1947.3 637.4 L1947.8 634.4 L1948.3 631.4 L1948.9 628.5 L1949.4 625.5 L1949.9 622.5 L1950.5 619.5 L1951 616.6 L1951.5 613.6 L1952 610.6 L1952.5 607.6 L1953 604.7 L1953.4 601.7 L1953.9 598.7 L1954.4 595.7 L1954.9 592.8 L1955.3 589.8 L1955.8 586.8 L1956.3 583.8 L1956.7 580.9 L1957.2 577.9 L1957.6 574.9 L1958 571.9 L1958.5 569 L1958.9 566 L1959.3 563 L1959.7 560 L1960.2 557.1 L1960.6 554.1 L1961 551.1 L1961.4 548.1 L1961.8 545.1 L1962.2 542.2 L1962.6 539.2 L1963 536.2 L1963.3 533.2 L1963.7 530.2 L1964.1 527.3 L1964.5 524.3 L1964.8 521.3 L1965.2 518.3 L1965.6 515.4 L1965.9 512.4 L1966.3 509.4 L1966.6 506.4 L1967 503.4 L1967.3 500.5 L1967.7 497.5 L1968 494.5 L1968.3 491.5 L1968.7 488.5 L1969 485.5 L1969.3 482.6 L1969.6 479.6 L1970 476.6 L1970.3 473.6 L1970.6 470.6 L1970.9 467.6 L1971.2 464.7 L1971.5 461.7 L1971.8 458.7 L1972.1 455.7 L1972.4 452.7 L1972.7 449.7 L1973 446.8 L1973.3 443.8 L1973.6 440.8 L1973.9 437.8 L1974.2 434.8 L1974.5 431.8 L1974.8 428.8 L1975 425.9 L1975.3 422.9 L1975.6 419.9 L1975.9 416.9 L1976.1 413.9 L1976.4 410.9 L1976.7 407.9 L1976.9 404.9 L1977.2 401.9 L1977.5 399 L1977.7 396 L1978 393 L1978.3 390 L1978.5 387 L1978.8 384 L1979.1 381 L1979.3 378 L1979.6 375 L1979.8 372 L1980.1 369 L1980.3 366 L1980.6 363.1 L1980.8 360.1 L1981.1 357.1 L1981.3 354.1 L1981.6 351.1 L1981.8 348.1 L1982.1 345.1 L1982.3 342.1 L1982.6 339.1 L1982.8 336.1 L1983.1 333.1 L1983.3 330.1 L1983.6 327.1 L1983.8 324.1 L1984.1 321.1 L1984.3 318.1 L1984.6 315.1 L1984.8 312.1 L1985.1 309.1 L1985.3 306.1 L1985.6 303.1 L1985.8 300.1 L1986.1 297.1 L1986.3 294.1 L1986.6 291.1 L1986.9 288.1 L1987.1 285.1 L1987.4 282.1 L1987.6 279.1 L1987.9 276.1 L1988.1 273.1 L1988.4 270.1 L1988.6 267.1 L1988.9 264.1 L1989.2 261 L1989.4 258 L1989.7 255 L1990 252 L1990.2 249 L1990.5 246 L1990.8 243 L1991 240 L1991.3 237 L1991.6 234 L1991.8 231 L1992.1 227.9 L1992.4 224.9 L1992.7 221.9 L1993 218.9 L1993.3 215.9 L1993.5 212.9 L1993.8 209.9" fill="none" stroke="#FF4040" stroke-width="2" stroke-linejoin="round" stroke-linecap="round" clip-path="url(#cia)"/>
<line x1="1612.1" y1="748.1" x2="1825.4" y2="748.1" stroke="#4F81BD" stroke-width="3.2" stroke-linecap="butt"/>
<line x1="1612.1" y1="748.1" x2="1643.1" y2="732.4" stroke="#4F81BD" stroke-width="2.6" stroke-linecap="round"/>
<line x1="1612.1" y1="748.1" x2="1643.1" y2="763.8" stroke="#4F81BD" stroke-width="2.6" stroke-linecap="round"/>
<line x1="1825.4" y1="748.1" x2="1794.4" y2="732.4" stroke="#4F81BD" stroke-width="2.6" stroke-linecap="round"/>
<line x1="1825.4" y1="748.1" x2="1794.4" y2="763.8" stroke="#4F81BD" stroke-width="2.6" stroke-linecap="round"/>
<text x="1651" y="801.5" font-family="'Liberation Sans', Arial, sans-serif" font-size="46" font-weight="normal" text-anchor="start" fill="#111">34 nm</text>
<line x1="1102.5" y1="102.5" x2="1102.5" y2="823" stroke="#111" stroke-width="3" stroke-linecap="butt"/>
<line x1="1089" y1="821.5" x2="1995" y2="821.5" stroke="#111" stroke-width="3" stroke-linecap="butt"/>
<line x1="1089" y1="104" x2="1995" y2="104" stroke="#111" stroke-width="3" stroke-linecap="butt"/>
<line x1="1993.5" y1="102.5" x2="1993.5" y2="833" stroke="#111" stroke-width="3" stroke-linecap="butt"/>
<line x1="1089" y1="821" x2="1102.5" y2="821" stroke="#111" stroke-width="3" stroke-linecap="butt"/>
<line x1="1089" y1="731.3" x2="1102.5" y2="731.3" stroke="#111" stroke-width="3" stroke-linecap="butt"/>
<line x1="1089" y1="641.6" x2="1102.5" y2="641.6" stroke="#111" stroke-width="3" stroke-linecap="butt"/>
<line x1="1089" y1="551.9" x2="1102.5" y2="551.9" stroke="#111" stroke-width="3" stroke-linecap="butt"/>
<line x1="1089" y1="462.2" x2="1102.5" y2="462.2" stroke="#111" stroke-width="3" stroke-linecap="butt"/>
<line x1="1089" y1="372.5" x2="1102.5" y2="372.5" stroke="#111" stroke-width="3" stroke-linecap="butt"/>
<line x1="1089" y1="282.8" x2="1102.5" y2="282.8" stroke="#111" stroke-width="3" stroke-linecap="butt"/>
<line x1="1089" y1="193.1" x2="1102.5" y2="193.1" stroke="#111" stroke-width="3" stroke-linecap="butt"/>
<line x1="1089" y1="103.4" x2="1102.5" y2="103.4" stroke="#111" stroke-width="3" stroke-linecap="butt"/>
<line x1="1096" y1="776.1" x2="1102.5" y2="776.1" stroke="#111" stroke-width="3" stroke-linecap="butt"/>
<line x1="1096" y1="686.5" x2="1102.5" y2="686.5" stroke="#111" stroke-width="3" stroke-linecap="butt"/>
<line x1="1096" y1="596.8" x2="1102.5" y2="596.8" stroke="#111" stroke-width="3" stroke-linecap="butt"/>
<line x1="1096" y1="507.1" x2="1102.5" y2="507.1" stroke="#111" stroke-width="3" stroke-linecap="butt"/>
<line x1="1096" y1="417.3" x2="1102.5" y2="417.3" stroke="#111" stroke-width="3" stroke-linecap="butt"/>
<line x1="1096" y1="327.6" x2="1102.5" y2="327.6" stroke="#111" stroke-width="3" stroke-linecap="butt"/>
<line x1="1096" y1="237.9" x2="1102.5" y2="237.9" stroke="#111" stroke-width="3" stroke-linecap="butt"/>
<line x1="1096" y1="148.2" x2="1102.5" y2="148.2" stroke="#111" stroke-width="3" stroke-linecap="butt"/>
<line x1="1171.7" y1="821.5" x2="1171.7" y2="833" stroke="#111" stroke-width="3" stroke-linecap="butt"/>
<line x1="1308.7" y1="821.5" x2="1308.7" y2="833" stroke="#111" stroke-width="3" stroke-linecap="butt"/>
<line x1="1445.7" y1="821.5" x2="1445.7" y2="833" stroke="#111" stroke-width="3" stroke-linecap="butt"/>
<line x1="1582.7" y1="821.5" x2="1582.7" y2="833" stroke="#111" stroke-width="3" stroke-linecap="butt"/>
<line x1="1719.7" y1="821.5" x2="1719.7" y2="833" stroke="#111" stroke-width="3" stroke-linecap="butt"/>
<line x1="1856.7" y1="821.5" x2="1856.7" y2="833" stroke="#111" stroke-width="3" stroke-linecap="butt"/>
<line x1="1993.7" y1="821.5" x2="1993.7" y2="833" stroke="#111" stroke-width="3" stroke-linecap="butt"/>
<line x1="1103.2" y1="821.5" x2="1103.2" y2="828" stroke="#111" stroke-width="3" stroke-linecap="butt"/>
<line x1="1240.2" y1="821.5" x2="1240.2" y2="828" stroke="#111" stroke-width="3" stroke-linecap="butt"/>
<line x1="1377.2" y1="821.5" x2="1377.2" y2="828" stroke="#111" stroke-width="3" stroke-linecap="butt"/>
<line x1="1514.2" y1="821.5" x2="1514.2" y2="828" stroke="#111" stroke-width="3" stroke-linecap="butt"/>
<line x1="1651.2" y1="821.5" x2="1651.2" y2="828" stroke="#111" stroke-width="3" stroke-linecap="butt"/>
<line x1="1788.2" y1="821.5" x2="1788.2" y2="828" stroke="#111" stroke-width="3" stroke-linecap="butt"/>
<line x1="1925.2" y1="821.5" x2="1925.2" y2="828" stroke="#111" stroke-width="3" stroke-linecap="butt"/>
<text x="1081.5" y="831" font-family="'Liberation Sans', Arial, sans-serif" font-size="32.5" font-weight="normal" text-anchor="end" fill="#222" stroke="#222" stroke-width="0.6">0</text>
<text x="1081.5" y="741.3" font-family="'Liberation Sans', Arial, sans-serif" font-size="32.5" font-weight="normal" text-anchor="end" fill="#222" stroke="#222" stroke-width="0.6">50</text>
<text x="1081.5" y="651.6" font-family="'Liberation Sans', Arial, sans-serif" font-size="32.5" font-weight="normal" text-anchor="end" fill="#222" stroke="#222" stroke-width="0.6">100</text>
<text x="1081.5" y="561.9" font-family="'Liberation Sans', Arial, sans-serif" font-size="32.5" font-weight="normal" text-anchor="end" fill="#222" stroke="#222" stroke-width="0.6">150</text>
<text x="1081.5" y="472.2" font-family="'Liberation Sans', Arial, sans-serif" font-size="32.5" font-weight="normal" text-anchor="end" fill="#222" stroke="#222" stroke-width="0.6">200</text>
<text x="1081.5" y="382.5" font-family="'Liberation Sans', Arial, sans-serif" font-size="32.5" font-weight="normal" text-anchor="end" fill="#222" stroke="#222" stroke-width="0.6">250</text>
<text x="1081.5" y="292.8" font-family="'Liberation Sans', Arial, sans-serif" font-size="32.5" font-weight="normal" text-anchor="end" fill="#222" stroke="#222" stroke-width="0.6">300</text>
<text x="1081.5" y="203.1" font-family="'Liberation Sans', Arial, sans-serif" font-size="32.5" font-weight="normal" text-anchor="end" fill="#222" stroke="#222" stroke-width="0.6">350</text>
<text x="1081.5" y="113.4" font-family="'Liberation Sans', Arial, sans-serif" font-size="32.5" font-weight="normal" text-anchor="end" fill="#222" stroke="#222" stroke-width="0.6">400</text>
<text x="1171.7" y="868.5" font-family="'Liberation Sans', Arial, sans-serif" font-size="32.5" font-weight="normal" text-anchor="middle" fill="#222" stroke="#222" stroke-width="0.6">560</text>
<text x="1308.7" y="868.5" font-family="'Liberation Sans', Arial, sans-serif" font-size="32.5" font-weight="normal" text-anchor="middle" fill="#222" stroke="#222" stroke-width="0.6">580</text>
<text x="1445.7" y="868.5" font-family="'Liberation Sans', Arial, sans-serif" font-size="32.5" font-weight="normal" text-anchor="middle" fill="#222" stroke="#222" stroke-width="0.6">600</text>
<text x="1582.7" y="868.5" font-family="'Liberation Sans', Arial, sans-serif" font-size="32.5" font-weight="normal" text-anchor="middle" fill="#222" stroke="#222" stroke-width="0.6">620</text>
<text x="1719.7" y="868.5" font-family="'Liberation Sans', Arial, sans-serif" font-size="32.5" font-weight="normal" text-anchor="middle" fill="#222" stroke="#222" stroke-width="0.6">640</text>
<text x="1856.7" y="868.5" font-family="'Liberation Sans', Arial, sans-serif" font-size="32.5" font-weight="normal" text-anchor="middle" fill="#222" stroke="#222" stroke-width="0.6">660</text>
<text x="1993.7" y="868.5" font-family="'Liberation Sans', Arial, sans-serif" font-size="32.5" font-weight="normal" text-anchor="middle" fill="#222" stroke="#222" stroke-width="0.6">680</text>
<text x="1407.8" y="911" font-family="'Liberation Sans', Arial, sans-serif" font-size="37.3" font-weight="normal" text-anchor="start" fill="#222" stroke="#222" stroke-width="0.6">Wavelength (nm)</text>
<text x="1013.6" y="578.7" font-family="'Liberation Sans', Arial, sans-serif" font-size="37.3" font-weight="normal" text-anchor="start" fill="#222" transform="rotate(-90 1013.6 578.7)" stroke="#222" stroke-width="0.6">Intensity (a.u.)</text>
<rect x="1552" y="110" width="438" height="96.5" stroke="#777" stroke-width="3" fill="#fff"/>
<line x1="1556" y1="134.2" x2="1639.5" y2="134.2" stroke="#222" stroke-width="4" stroke-linecap="butt"/>
<line x1="1556" y1="180.4" x2="1639.5" y2="180.4" stroke="#ff5a5a" stroke-width="2.5" stroke-linecap="butt"/>
<text x="1650" y="146.3" font-family="'Liberation Sans', Arial, sans-serif" font-size="37.3" font-weight="normal" text-anchor="start" fill="#222" stroke="#222" stroke-width="0.6">TF</text>
<text x="1650" y="192.6" font-family="'Liberation Sans', Arial, sans-serif" font-size="37.3" font-weight="normal" text-anchor="start" fill="#222" stroke="#222" stroke-width="0.6">Cumulative Fit Peak</text>
<clipPath id="cb"><rect x="262.8" y="1872.3" width="1816.2" height="1462.7"/></clipPath>
<g>
<path d="M1243.5 3334.8 L1247.1 3334.7 L1250.8 3334.7 L1254.4 3334.6 L1258 3334.5 L1261.7 3334.4 L1265.3 3334.2 L1268.9 3334 L1272.5 3333.8 L1276.2 3333.6 L1279.8 3333.3 L1283.4 3333 L1287.1 3332.7 L1290.7 3332.3 L1294.3 3331.8 L1297.9 3331.4 L1301.6 3330.8 L1305.2 3330.3 L1308.8 3329.6 L1312.5 3329 L1316.1 3328.3 L1319.7 3327.6 L1323.4 3326.9 L1327 3326.1 L1330.6 3325.4 L1334.2 3324.7 L1337.9 3324 L1341.5 3323.3 L1345.1 3322.7 L1348.8 3322.1 L1352.4 3321.6 L1356 3321.2 L1359.7 3320.8 L1363.3 3320.6 L1366.9 3320.4 L1370.5 3320.4 L1374.2 3320.4 L1377.8 3320.6 L1381.4 3320.8 L1385.1 3321.2 L1388.7 3321.6 L1392.3 3322.1 L1396 3322.7 L1399.6 3323.3 L1403.2 3324 L1406.8 3324.7 L1410.5 3325.4 L1414.1 3326.1 L1417.7 3326.9 L1421.4 3327.6 L1425 3328.3 L1428.6 3329 L1432.3 3329.6 L1435.9 3330.3 L1439.5 3330.8 L1443.1 3331.4 L1446.8 3331.8 L1450.4 3332.3 L1454 3332.7 L1457.7 3333 L1461.3 3333.3 L1464.9 3333.6 L1468.6 3333.8 L1472.2 3334 L1475.8 3334.2 L1479.5 3334.4 L1483.1 3334.5 L1486.7 3334.6 L1490.3 3334.7 L1494 3334.7 L1497.6 3334.8" fill="none" stroke="#22E5E5" stroke-width="2.3" stroke-linejoin="round" stroke-linecap="round" clip-path="url(#cb)"/>
<path d="M1949.9 3301.8 L1951.9 3304.1 L1954 3306.2 L1956.1 3308.3 L1958.3 3310.2 L1960.5 3312 L1962.8 3313.8 L1965.1 3315.4 L1967.4 3317 L1969.8 3318.5 L1972.2 3319.9 L1974.6 3321.2 L1977.1 3322.4 L1979.6 3323.6 L1982.2 3324.7 L1984.8 3325.7 L1987.4 3326.6 L1990 3327.5 L1992.7 3328.3 L1995.4 3329.1 L1998.1 3329.8 L2000.8 3330.4 L2003.6 3331 L2006.3 3331.5 L2009.1 3332 L2011.9 3332.4 L2014.7 3332.8 L2017.6 3333.2 L2020.4 3333.5 L2023.3 3333.8 L2026.1 3334 L2029 3334.2 L2031.9 3334.4 L2034.7 3334.6 L2037.6 3334.7 L2040.5 3334.9 L2043.3 3335 L2046.2 3335.1 L2049.1 3335.2 L2051.9 3335.2 L2054.8 3335.3 L2057.6 3335.4 L2060.5 3335.4 L2063.3 3335.5 L2066.1 3335.5 L2068.9 3335.6 L2071.7 3335.7 L2074.4 3335.8 L2077.2 3335.9 L2079.9 3336" fill="none" stroke="#FF22FF" stroke-width="2.6" stroke-linejoin="round" stroke-linecap="round" clip-path="url(#cb)"/>
<path d="M679.4 3337.6 L682.6 3336.4 L685.8 3335.2 L688.9 3333.9 L691.9 3332.6 L694.9 3331.2 L697.7 3329.7 L700.5 3328.2 L703.2 3326.6 L705.8 3325 L708.3 3323.3 L710.8 3321.6 L713.2 3319.8 L715.5 3317.9 L717.8 3316 L720 3314.1 L722.1 3312.1 L724.2 3310.1 L726.2 3308 L728.1 3305.8 L730 3303.7 L731.8 3301.4 L733.6 3299.2 L735.3 3296.9 L736.9 3294.5 L738.5 3292.1 L740.1 3289.7 L741.6 3287.3 L743 3284.8 L744.4 3282.2 L745.7 3279.7 L747 3277.1 L748.3 3274.5 L749.5 3271.8 L750.7 3269.2 L751.8 3266.4 L752.9 3263.7 L753.9 3261 L754.9 3258.2 L755.9 3255.4 L756.8 3252.5 L757.8 3249.7 L758.6 3246.8 L759.5 3243.9 L760.3 3241 L761.1 3238.1 L761.9 3235.2 L762.6 3232.2 L763.3 3229.3 L764 3226.3 L764.7 3223.3 L765.3 3220.3 L766 3217.3 L766.6 3214.3 L767.2 3211.3 L767.8 3208.3 L768.4 3205.3 L768.9 3202.3 L769.5 3199.2 L770 3196.2 L770.6 3193.2 L771.1 3190.1 L771.6 3187.1 L772.1 3184.1 L772.7 3181.1 L773.2 3178 L773.7 3175 L774.1 3172 L774.6 3169 L775.1 3166 L775.6 3162.9 L776.1 3159.9 L776.5 3156.9 L777 3153.9 L777.4 3150.9 L777.9 3147.9 L778.3 3144.8 L778.8 3141.8 L779.2 3138.8 L779.6 3135.8 L780 3132.8 L780.4 3129.8 L780.9 3126.8 L781.3 3123.8 L781.7 3120.8 L782.1 3117.7 L782.5 3114.7 L782.9 3111.7 L783.2 3108.7 L783.6 3105.7 L784 3102.7 L784.4 3099.7 L784.7 3096.7 L785.1 3093.7 L785.5 3090.7 L785.8 3087.7 L786.2 3084.7 L786.6 3081.7 L786.9 3078.7 L787.3 3075.7 L787.6 3072.7 L787.9 3069.7 L788.3 3066.8 L788.6 3063.8 L789 3060.8 L789.3 3057.8 L789.6 3054.8 L790 3051.8 L790.3 3048.8 L790.6 3045.8 L790.9 3042.8 L791.3 3039.8 L791.6 3036.9 L791.9 3033.9 L792.2 3030.9 L792.6 3027.9 L792.9 3024.9 L793.2 3021.9 L793.5 3018.9 L793.8 3016 L794.1 3013 L794.5 3010 L794.8 3007 L795.1 3004 L795.4 3001.1 L795.7 2998.1 L796 2995.1 L796.3 2992.1 L796.7 2989.1 L797 2986.2 L797.3 2983.2 L797.6 2980.2 L797.9 2977.2 L798.2 2974.3 L798.6 2971.3 L798.9 2968.3 L799.2 2965.3 L799.5 2962.4 L799.9 2959.4 L800.2 2956.4 L800.5 2953.5 L800.8 2950.5 L801.2 2947.5 L801.5 2944.5 L801.8 2941.6 L802.2 2938.6 L802.5 2935.6 L802.9 2932.7 L803.2 2929.7 L803.6 2926.7 L803.9 2923.8 L804.3 2920.8 L804.6 2917.8 L805 2914.9 L805.3 2911.9 L805.7 2908.9 L806.1 2906 L806.4 2903 L806.8 2900.1 L807.2 2897.1 L807.6 2894.1 L808 2891.2 L808.4 2888.2 L808.7 2885.2 L809.1 2882.3 L809.6 2879.3 L810 2876.4 L810.4 2873.4 L810.8 2870.4 L811.2 2867.5 L811.6 2864.5 L812.1 2861.6 L812.5 2858.6 L812.9 2855.7 L813.4 2852.7 L813.8 2849.7 L814.3 2846.8 L814.7 2843.8 L815.2 2840.9 L815.6 2837.9 L816.1 2834.9 L816.6 2832 L817 2829 L817.5 2826.1 L817.9 2823.1 L818.4 2820.1 L818.9 2817.2 L819.3 2814.2 L819.8 2811.3 L820.3 2808.3 L820.7 2805.3 L821.2 2802.4 L821.7 2799.4 L822.1 2796.4 L822.6 2793.4 L823 2790.5 L823.5 2787.5 L823.9 2784.5 L824.4 2781.5 L824.8 2778.6 L825.3 2775.6 L825.7 2772.6 L826.2 2769.6 L826.6 2766.6 L827 2763.6 L827.4 2760.6 L827.9 2757.6 L828.3 2754.7 L828.7 2751.7 L829.1 2748.7 L829.5 2745.7 L829.9 2742.7 L830.3 2739.6 L830.7 2736.6 L831 2733.6 L831.4 2730.6 L831.8 2727.6 L832.1 2724.6 L832.4 2721.5 L832.8 2718.5 L833.1 2715.5 L833.4 2712.5 L833.7 2709.4 L834 2706.4 L834.3 2703.3 L834.6 2700.3 L834.9 2697.2 L835.2 2694.2 L835.4 2691.1 L835.7 2688.1 L835.9 2685 L836.2 2682 L836.4 2678.9 L836.7 2675.9 L837 2672.8 L837.2 2669.7 L837.5 2666.7 L837.7 2663.7 L838 2660.6 L838.3 2657.6 L838.6 2654.5 L838.9 2651.5 L839.2 2648.5 L839.6 2645.5 L839.9 2642.5 L840.3 2639.5 L840.6 2636.5 L841 2633.5 L841.5 2630.5 L841.9 2627.5 L842.4 2624.6 L842.9 2621.6 L843.4 2618.7 L843.9 2615.8 L844.5 2612.8 L845.1 2609.9 L845.7 2607 L846.4 2604.2 L847.1 2601.3 L847.8 2598.5 L848.6 2595.6 L849.4 2592.8 L850.2 2590 L851.1 2587.2 L852 2584.5 L853 2581.7 L854 2579 L855 2576.3 L856.1 2573.6 L857.3 2570.9 L858.5 2568.3 L859.7 2565.6 L861 2563 L862.4 2560.5 L863.8 2558.1 L865.2 2555.9 L866.7 2554.1 L868.2 2552.7 L869.8 2551.8 L871.4 2551.7 L873 2552.3 L874.6 2553.6 L876.1 2555.5 L877.6 2558 L879 2560.9 L880.3 2564.1 L881.4 2567.5 L882.5 2571.1 L883.4 2574.8 L884.3 2578.6 L885.1 2582.4 L885.8 2586 L886.6 2589.5 L887.2 2592.9 L887.9 2596.2 L888.6 2599.4 L889.2 2602.4 L889.8 2605.5 L890.4 2608.4 L890.9 2611.3 L891.5 2614.1 L892 2617 L892.6 2619.8 L893.1 2622.6 L893.6 2625.4 L894.1 2628.2 L894.6 2631.1 L895.2 2633.9 L895.7 2636.8 L896.2 2639.6 L896.7 2642.5 L897.1 2645.4 L897.6 2648.3 L898.1 2651.1 L898.6 2654 L899.1 2656.9 L899.5 2659.8 L900 2662.7 L900.4 2665.6 L900.9 2668.6 L901.4 2671.5 L901.8 2674.4 L902.3 2677.3 L902.7 2680.3 L903.1 2683.2 L903.6 2686.2 L904 2689.1 L904.4 2692.1 L904.9 2695 L905.3 2698 L905.7 2701 L906.1 2703.9 L906.6 2706.9 L907 2709.9 L907.4 2712.8 L907.8 2715.8 L908.2 2718.8 L908.6 2721.8 L909.1 2724.8 L909.5 2727.8 L909.9 2730.8 L910.3 2733.8 L910.7 2736.8 L911.1 2739.7 L911.5 2742.7 L911.9 2745.7 L912.3 2748.7 L912.7 2751.7 L913.1 2754.8 L913.5 2757.8 L913.9 2760.8 L914.3 2763.8 L914.7 2766.8 L915.1 2769.8 L915.5 2772.8 L915.9 2775.8 L916.3 2778.8 L916.7 2781.8 L917.1 2784.8 L917.6 2787.8 L918 2790.8 L918.4 2793.8 L918.8 2796.8 L919.2 2799.8 L919.6 2802.8 L920 2805.8 L920.4 2808.8 L920.8 2811.8 L921.3 2814.8 L921.7 2817.7 L922.1 2820.7 L922.5 2823.7 L922.9 2826.7 L923.3 2829.7 L923.8 2832.7 L924.2 2835.7 L924.6 2838.7 L925 2841.6 L925.4 2844.6 L925.9 2847.6 L926.3 2850.6 L926.7 2853.6 L927.1 2856.6 L927.5 2859.6 L928 2862.5 L928.4 2865.5 L928.8 2868.5 L929.2 2871.5 L929.6 2874.5 L930.1 2877.4 L930.5 2880.4 L930.9 2883.4 L931.3 2886.4 L931.7 2889.3 L932.2 2892.3 L932.6 2895.3 L933 2898.3 L933.4 2901.2 L933.8 2904.2 L934.2 2907.2 L934.7 2910.2 L935.1 2913.1 L935.5 2916.1 L935.9 2919.1 L936.3 2922.1 L936.7 2925 L937.2 2928 L937.6 2931 L938 2934 L938.4 2936.9 L938.8 2939.9 L939.2 2942.9 L939.6 2945.9 L940 2948.8 L940.4 2951.8 L940.8 2954.8 L941.2 2957.7 L941.6 2960.7 L942 2963.7 L942.4 2966.7 L942.8 2969.6 L943.2 2972.6 L943.6 2975.6 L944 2978.6 L944.4 2981.5 L944.8 2984.5 L945.2 2987.5 L945.6 2990.5 L946 2993.4 L946.3 2996.4 L946.7 2999.4 L947.1 3002.4 L947.5 3005.3 L947.9 3008.3 L948.2 3011.3 L948.6 3014.3 L949 3017.2 L949.4 3020.2 L949.7 3023.2 L950.1 3026.2 L950.4 3029.1 L950.8 3032.1 L951.2 3035.1 L951.5 3038.1 L951.9 3041.1 L952.2 3044 L952.6 3047 L952.9 3050 L953.3 3053 L953.6 3056 L954 3059 L954.3 3061.9 L954.6 3064.9 L955 3067.9 L955.3 3070.9 L955.7 3073.9 L956 3076.9 L956.3 3079.9 L956.7 3082.8 L957 3085.8 L957.4 3088.8 L957.7 3091.8 L958.1 3094.8 L958.4 3097.8 L958.8 3100.8 L959.1 3103.7 L959.5 3106.7 L959.9 3109.7 L960.2 3112.7 L960.6 3115.7 L961 3118.7 L961.4 3121.6 L961.7 3124.6 L962.1 3127.6 L962.5 3130.6 L962.9 3133.6 L963.3 3136.6 L963.7 3139.5 L964.2 3142.5 L964.6 3145.5 L965 3148.5 L965.5 3151.5 L965.9 3154.4 L966.4 3157.4 L966.8 3160.4 L967.3 3163.4 L967.8 3166.3 L968.3 3169.3 L968.8 3172.3 L969.3 3175.2 L969.8 3178.2 L970.3 3181.2 L970.9 3184.1 L971.4 3187.1 L972 3190.1 L972.6 3193 L973.2 3196 L973.8 3199 L974.4 3201.9 L975 3204.9 L975.6 3207.8 L976.3 3210.8 L976.9 3213.7 L977.6 3216.7 L978.3 3219.6 L979 3222.6 L979.7 3225.5 L980.5 3228.5 L981.2 3231.4 L982 3234.4 L982.7 3237.3 L983.5 3240.2 L984.3 3243.2 L985.2 3246.1 L986 3249 L986.9 3252 L987.8 3254.9 L988.6 3257.8 L989.6 3260.7 L990.5 3263.7 L991.4 3266.6 L992.4 3269.5 L993.4 3272.4 L994.4 3275.3 L995.5 3278.2 L996.6 3281 L997.7 3283.8 L998.9 3286.6 L1000.1 3289.4 L1001.3 3292.1 L1002.6 3294.8 L1004 3297.4 L1005.4 3300 L1006.9 3302.6 L1008.4 3305.1 L1010 3307.5 L1011.7 3309.8 L1013.4 3312.1 L1015.2 3314.3 L1017.1 3316.5 L1019.1 3318.5 L1021.1 3320.5 L1023.3 3322.4 L1025.5 3324.2 L1027.9 3325.9 L1030.3 3327.5 L1032.8 3329 L1035.5 3330.3 L1038.2 3331.6 L1041.1 3332.8 L1044 3333.8 L1047.1 3334.7 L1050.3 3335.5 L1053.6 3336.1 L1057.1 3336.7 L1060.7 3337" fill="none" stroke="#22EE22" stroke-width="3" stroke-linejoin="round" stroke-linecap="round" clip-path="url(#cb)"/>
<path d="M807.9 3333.7 L811.5 3333.4 L815.2 3333.1 L818.8 3332.8 L822.4 3332.4 L826 3332 L829.7 3331.5 L833.3 3331 L836.9 3330.3 L840.6 3329.6 L844.2 3328.8 L847.8 3327.9 L851.5 3326.9 L855.1 3325.8 L858.7 3324.6 L862.4 3323.2 L866 3321.7 L869.6 3320 L873.2 3318.2 L876.9 3316.2 L880.5 3314.1 L884.1 3311.8 L887.8 3309.3 L891.4 3306.7 L895 3303.9 L898.6 3300.9 L902.3 3297.7 L905.9 3294.3 L909.5 3290.8 L913.2 3287.2 L916.8 3283.4 L920.4 3279.5 L924.1 3275.4 L927.7 3271.3 L931.3 3267.1 L934.9 3262.9 L938.6 3258.6 L942.2 3254.3 L945.8 3250 L949.5 3245.8 L953.1 3241.7 L956.7 3237.7 L960.4 3233.9 L964 3230.2 L967.6 3226.7 L971.2 3223.5 L974.9 3220.5 L978.5 3217.8 L982.1 3215.5 L985.8 3213.4 L989.4 3211.7 L993 3210.4 L996.7 3209.4 L1000.3 3208.9 L1003.9 3208.7 L1007.5 3209 L1011.2 3209.6 L1014.8 3210.6 L1018.4 3212 L1022.1 3213.7 L1025.7 3215.8 L1029.3 3218.2 L1033 3221 L1036.6 3224 L1040.2 3227.3 L1043.8 3230.8 L1047.5 3234.5 L1051.1 3238.4 L1054.7 3242.4 L1058.4 3246.5 L1062 3250.7 L1065.6 3255 L1069.3 3259.3 L1072.9 3263.5 L1076.5 3267.8 L1080.2 3272 L1083.8 3276.1 L1087.4 3280.1 L1091 3284 L1094.7 3287.8 L1098.3 3291.4 L1101.9 3294.9 L1105.6 3298.2 L1109.2 3301.4 L1112.8 3304.3 L1116.4 3307.1 L1120.1 3309.7 L1123.7 3312.2 L1127.3 3314.5 L1131 3316.6 L1134.6 3318.5 L1138.2 3320.3 L1141.9 3321.9 L1145.5 3323.4 L1149.1 3324.8 L1152.8 3326 L1156.4 3327.1 L1160 3328.1 L1163.6 3329 L1167.3 3329.7 L1170.9 3330.4 L1174.5 3331.1 L1178.2 3331.6 L1181.8 3332.1 L1185.4 3332.5 L1189 3332.9 L1192.7 3333.2 L1196.3 3333.5 L1199.9 3333.7 L1203.6 3333.9 L1207.2 3334.1" fill="none" stroke="#3D3DFF" stroke-width="2.6" stroke-linejoin="round" stroke-linecap="round" clip-path="url(#cb)"/>
<path d="M1979.9 3337.9 L1982.8 3336.7 L1985.7 3335.4 L1988.4 3334 L1991.1 3332.6 L1993.6 3331 L1996.1 3329.4 L1998.5 3327.7 L2000.9 3326 L2003.1 3324.1 L2005.3 3322.2 L2007.4 3320.2 L2009.4 3318.2 L2011.3 3316.1 L2013.2 3313.9 L2015 3311.6 L2016.8 3309.4 L2018.4 3307 L2020.1 3304.6 L2021.6 3302.2 L2023.1 3299.7 L2024.5 3297.1 L2025.9 3294.5 L2027.3 3291.9 L2028.5 3289.2 L2029.8 3286.5 L2031 3283.8 L2032.1 3281 L2033.2 3278.2 L2034.3 3275.3 L2035.3 3272.5 L2036.2 3269.6 L2037.2 3266.6 L2038.1 3263.7 L2039 3260.7 L2039.8 3257.8 L2040.6 3254.8 L2041.4 3251.8 L2042.2 3248.7 L2042.9 3245.7 L2043.6 3242.7 L2044.3 3239.7 L2045 3236.6 L2045.7 3233.6 L2046.4 3230.5 L2047 3227.5 L2047.6 3224.5 L2048.3 3221.5 L2048.9 3218.4 L2049.5 3215.4 L2050 3212.4 L2050.6 3209.3 L2051.2 3206.3 L2051.7 3203.3 L2052.2 3200.3 L2052.8 3197.3 L2053.3 3194.2 L2053.8 3191.2 L2054.3 3188.2 L2054.7 3185.2 L2055.2 3182.2 L2055.7 3179.2 L2056.1 3176.2 L2056.5 3173.2 L2057 3170.2 L2057.4 3167.2 L2057.8 3164.1 L2058.2 3161.1 L2058.6 3158.1 L2059 3155.1 L2059.4 3152.1 L2059.7 3149.1 L2060.1 3146.1 L2060.4 3143.1 L2060.8 3140.1 L2061.1 3137.1 L2061.5 3134.1 L2061.8 3131.1 L2062.1 3128.1 L2062.4 3125.1 L2062.7 3122.1 L2063 3119.1 L2063.3 3116.1 L2063.6 3113.2 L2063.9 3110.2 L2064.1 3107.2 L2064.4 3104.2 L2064.7 3101.2 L2064.9 3098.2 L2065.2 3095.2 L2065.4 3092.2 L2065.7 3089.2 L2065.9 3086.2 L2066.2 3083.2 L2066.4 3080.2 L2066.6 3077.2 L2066.9 3074.2 L2067.1 3071.2 L2067.3 3068.2 L2067.6 3065.2 L2067.8 3062.2 L2068 3059.2 L2068.2 3056.2 L2068.4 3053.2 L2068.6 3050.2 L2068.8 3047.2 L2069 3044.2 L2069.3 3041.2 L2069.5 3038.2 L2069.7 3035.2 L2069.9 3032.2 L2070.1 3029.2 L2070.3 3026.2 L2070.5 3023.2 L2070.7 3020.2 L2070.9 3017.2 L2071.1 3014.1 L2071.3 3011.1 L2071.5 3008.1 L2071.8 3005.1 L2072 3002.1 L2072.2 2999.1 L2072.4 2996.1 L2072.6 2993 L2072.9 2990 L2073.1 2987 L2073.3 2984 L2073.5 2980.9 L2073.8 2977.9 L2074 2974.9 L2074.3 2971.9 L2074.5 2968.8 L2074.7 2965.8 L2075 2962.8 L2075.3 2959.7 L2075.5 2956.7 L2075.8 2953.6 L2076.1 2950.6 L2076.3 2947.5 L2076.6 2944.5 L2076.9 2941.5 L2077.2 2938.4 L2077.5 2935.3 L2077.8 2932.3 L2078.1 2929.2" fill="none" stroke="#FFFF00" stroke-width="2.5" stroke-linejoin="round" stroke-linecap="round" clip-path="url(#cb)"/>
</g>
<path d="M265.2 3331.6 L266.3 3328.9 L267.3 3326.1 L268.2 3323.3 L269.1 3320.5 L269.9 3317.6 L270.7 3314.7 L271.5 3311.8 L272.2 3308.9 L272.9 3305.9 L273.6 3302.9 L274.3 3300 L275 3297 L275.7 3294 L276.3 3291 L277 3288 L277.8 3285.1 L278.5 3282.1 L279.3 3279.2 L280.1 3276.3 L281 3273.4 L281.9 3270.5 L282.8 3267.7 L283.9 3264.9 L285 3262.1 L286.1 3259.4 L287.4 3256.8 L288.7 3254.2 L290.1 3251.6 L291.6 3249.2 L293.3 3246.7 L295 3244.4 L296.8 3242.1 L298.7 3239.9 L300.7 3237.7 L302.8 3235.5 L304.8 3233.4 L306.9 3231.2 L309 3229.1 L311.1 3227 L313.1 3224.8 L315.1 3222.6 L317 3220.4 L318.9 3218.1 L320.6 3215.8 L322.3 3213.4 L323.9 3210.9 L325.4 3208.5 L326.8 3205.9 L328.1 3203.3 L329.4 3200.7 L330.6 3198.1 L331.8 3195.4 L332.9 3192.6 L333.9 3189.9 L334.8 3187.1 L335.8 3184.2 L336.6 3181.4 L337.4 3178.5 L338.2 3175.6 L338.9 3172.6 L339.6 3169.7 L340.3 3166.7 L340.9 3163.7 L341.5 3160.7 L342 3157.7 L342.6 3154.7 L343.1 3151.6 L343.6 3148.6 L344.1 3145.6 L344.5 3142.5 L345 3139.5 L345.5 3136.4 L345.9 3133.4 L346.4 3130.4 L346.8 3127.3 L347.2 3124.3 L347.7 3121.3 L348.1 3118.3 L348.6 3115.3 L349 3112.3 L349.4 3109.3 L349.8 3106.3 L350.3 3103.3 L350.7 3100.3 L351.1 3097.3 L351.5 3094.3 L351.9 3091.3 L352.3 3088.3 L352.7 3085.3 L353.2 3082.4 L353.6 3079.4 L354 3076.4 L354.4 3073.4 L354.8 3070.5 L355.2 3067.5 L355.5 3064.5 L355.9 3061.6 L356.3 3058.6 L356.7 3055.6 L357.1 3052.7 L357.5 3049.7 L357.9 3046.7 L358.2 3043.8 L358.6 3040.8 L359 3037.8 L359.4 3034.9 L359.7 3031.9 L360.1 3028.9 L360.5 3026 L360.8 3023 L361.2 3020 L361.6 3017.1 L361.9 3014.1 L362.3 3011.1 L362.6 3008.2 L363 3005.2 L363.4 3002.2 L363.7 2999.3 L364.1 2996.3 L364.4 2993.3 L364.8 2990.4 L365.1 2987.4 L365.5 2984.4 L365.8 2981.4 L366.1 2978.5 L366.5 2975.5 L366.8 2972.5 L367.2 2969.6 L367.5 2966.6 L367.8 2963.6 L368.2 2960.6 L368.5 2957.7 L368.8 2954.7 L369.1 2951.7 L369.5 2948.7 L369.8 2945.8 L370.1 2942.8 L370.5 2939.8 L370.8 2936.8 L371.1 2933.9 L371.4 2930.9 L371.7 2927.9 L372 2924.9 L372.4 2921.9 L372.7 2919 L373 2916 L373.3 2913 L373.6 2910 L373.9 2907 L374.2 2904.1 L374.5 2901.1 L374.8 2898.1 L375.1 2895.1 L375.4 2892.1 L375.7 2889.2 L376 2886.2 L376.3 2883.2 L376.6 2880.2 L376.9 2877.2 L377.2 2874.2 L377.5 2871.3 L377.8 2868.3 L378.1 2865.3 L378.4 2862.3 L378.7 2859.3 L379 2856.3 L379.3 2853.3 L379.5 2850.4 L379.8 2847.4 L380.1 2844.4 L380.4 2841.4 L380.7 2838.4 L381 2835.4 L381.2 2832.4 L381.5 2829.4 L381.8 2826.5 L382.1 2823.5 L382.4 2820.5 L382.6 2817.5 L382.9 2814.5 L383.2 2811.5 L383.5 2808.5 L383.7 2805.5 L384 2802.6 L384.3 2799.6 L384.5 2796.6 L384.8 2793.6 L385.1 2790.6 L385.3 2787.6 L385.6 2784.6 L385.9 2781.6 L386.1 2778.6 L386.4 2775.6 L386.7 2772.6 L386.9 2769.7 L387.2 2766.7 L387.4 2763.7 L387.7 2760.7 L388 2757.7 L388.2 2754.7 L388.5 2751.7 L388.7 2748.7 L389 2745.7 L389.2 2742.7 L389.5 2739.7 L389.8 2736.7 L390 2733.7 L390.3 2730.8 L390.5 2727.8 L390.8 2724.8 L391 2721.8 L391.3 2718.8 L391.5 2715.8 L391.8 2712.8 L392 2709.8 L392.3 2706.8 L392.5 2703.8 L392.8 2700.8 L393 2697.8 L393.3 2694.8 L393.5 2691.8 L393.8 2688.8 L394 2685.8 L394.2 2682.8 L394.5 2679.8 L394.7 2676.9 L395 2673.9 L395.2 2670.9 L395.5 2667.9 L395.7 2664.9 L395.9 2661.9 L396.2 2658.9 L396.4 2655.9 L396.7 2652.9 L396.9 2649.9 L397.2 2646.9 L397.4 2643.9 L397.6 2640.9 L397.9 2637.9 L398.1 2634.9 L398.4 2631.9 L398.6 2628.9 L398.8 2625.9 L399.1 2622.9 L399.3 2619.9 L399.5 2616.9 L399.8 2613.9 L400 2610.9 L400.3 2607.9 L400.5 2605 L400.7 2602 L401 2599 L401.2 2596 L401.4 2593 L401.7 2590 L401.9 2587 L402.2 2584 L402.4 2581 L402.6 2578 L402.9 2575 L403.1 2572 L403.3 2569 L403.6 2566 L403.8 2563 L404.1 2560 L404.3 2557 L404.5 2554 L404.8 2551 L405 2548 L405.2 2545 L405.5 2542 L405.7 2539 L406 2536.1 L406.2 2533.1 L406.4 2530.1 L406.7 2527.1 L406.9 2524.1 L407.1 2521.1 L407.4 2518.1 L407.6 2515.1 L407.9 2512.1 L408.1 2509.1 L408.3 2506.1 L408.6 2503.1 L408.8 2500.1 L409.1 2497.1 L409.3 2494.1 L409.5 2491.1 L409.8 2488.1 L410 2485.2 L410.3 2482.2 L410.5 2479.2 L410.8 2476.2 L411 2473.2 L411.2 2470.2 L411.5 2467.2 L411.7 2464.2 L412 2461.2 L412.2 2458.2 L412.5 2455.2 L412.7 2452.2 L412.9 2449.2 L413.2 2446.3 L413.4 2443.3 L413.7 2440.3 L413.9 2437.3 L414.2 2434.3 L414.4 2431.3 L414.7 2428.3 L414.9 2425.3 L415.2 2422.3 L415.4 2419.3 L415.7 2416.4 L415.9 2413.4 L416.2 2410.4 L416.4 2407.4 L416.7 2404.4 L417 2401.4 L417.2 2398.4 L417.5 2395.4 L417.7 2392.4 L418 2389.5 L418.2 2386.5 L418.5 2383.5 L418.8 2380.5 L419 2377.5 L419.3 2374.5 L419.5 2371.5 L419.8 2368.6 L420.1 2365.6 L420.3 2362.6 L420.6 2359.6 L420.9 2356.6 L421.1 2353.6 L421.4 2350.6 L421.6 2347.7 L421.9 2344.7 L422.2 2341.7 L422.5 2338.7 L422.7 2335.7 L423 2332.7 L423.3 2329.7 L423.5 2326.8 L423.8 2323.8 L424.1 2320.8 L424.3 2317.8 L424.6 2314.8 L424.9 2311.8 L425.2 2308.8 L425.4 2305.9 L425.7 2302.9 L426 2299.9 L426.3 2296.9 L426.5 2293.9 L426.8 2290.9 L427.1 2287.9 L427.4 2285 L427.7 2282 L427.9 2279 L428.2 2276 L428.5 2273 L428.8 2270 L429.1 2267 L429.4 2264.1 L429.6 2261.1 L429.9 2258.1 L430.2 2255.1 L430.5 2252.1 L430.8 2249.1 L431.1 2246.1 L431.4 2243.1 L431.7 2240.2 L431.9 2237.2 L432.2 2234.2 L432.5 2231.2 L432.8 2228.2 L433.1 2225.2 L433.4 2222.2 L433.7 2219.2 L434 2216.2 L434.3 2213.3 L434.6 2210.3 L434.9 2207.3 L435.2 2204.3 L435.5 2201.3 L435.8 2198.3 L436.1 2195.3 L436.4 2192.3 L436.7 2189.3 L437 2186.3 L437.3 2183.4 L437.6 2180.4 L438 2177.4 L438.3 2174.4 L438.6 2171.4 L438.9 2168.4 L439.2 2165.4 L439.6 2162.4 L439.9 2159.5 L440.2 2156.5 L440.6 2153.5 L440.9 2150.5 L441.2 2147.5 L441.6 2144.5 L441.9 2141.6 L442.3 2138.6 L442.6 2135.6 L443 2132.6 L443.3 2129.6 L443.7 2126.7 L444.1 2123.7 L444.4 2120.7 L444.8 2117.7 L445.2 2114.8 L445.6 2111.8 L445.9 2108.8 L446.3 2105.8 L446.7 2102.9 L447.1 2099.9 L447.5 2096.9 L447.9 2094 L448.3 2091 L448.7 2088 L449.2 2085.1 L449.6 2082.1 L450 2079.1 L450.4 2076.2 L450.9 2073.2 L451.4 2070.3 L451.8 2067.3 L452.3 2064.3 L452.9 2061.4 L453.4 2058.4 L454 2055.5 L454.7 2052.5 L455.3 2049.5 L456.1 2046.6 L456.8 2043.6 L457.6 2040.6 L458.5 2037.6 L459.4 2034.6 L460.4 2031.7 L461.5 2028.7 L462.6 2025.7 L463.8 2022.7 L465.1 2019.9 L466.5 2017.5 L467.9 2015.9 L469.4 2015.1 L470.9 2015.5 L472.5 2016.8 L474.1 2018.9 L475.6 2021.5 L477 2024.4 L478.3 2027.4 L479.5 2030.4 L480.5 2033.3 L481.4 2036.3 L482.3 2039.3 L483 2042.3 L483.6 2045.3 L484.2 2048.3 L484.7 2051.3 L485.2 2054.3 L485.6 2057.2 L486 2060.2 L486.3 2063.2 L486.7 2066.2 L487.1 2069.2 L487.4 2072.2 L487.8 2075.2 L488.2 2078.2 L488.5 2081.1 L488.9 2084.1 L489.3 2087.1 L489.7 2090.1 L490.1 2093.1 L490.5 2096 L490.9 2099 L491.3 2102 L491.7 2105 L492.1 2107.9 L492.5 2110.9 L492.9 2113.9 L493.4 2116.9 L493.8 2119.8 L494.2 2122.8 L494.6 2125.8 L495.1 2128.7 L495.5 2131.7 L495.9 2134.7 L496.3 2137.7 L496.8 2140.6 L497.2 2143.6 L497.6 2146.6 L498.1 2149.5 L498.5 2152.5 L498.9 2155.5 L499.3 2158.4 L499.8 2161.4 L500.2 2164.4 L500.6 2167.3 L501 2170.3 L501.5 2173.3 L501.9 2176.2 L502.3 2179.2 L502.7 2182.2 L503.1 2185.2 L503.5 2188.1 L503.9 2191.1 L504.3 2194.1 L504.7 2197 L505.1 2200 L505.5 2203 L505.9 2206 L506.3 2208.9 L506.7 2211.9 L507 2214.9 L507.4 2217.9 L507.8 2220.9 L508.1 2223.8 L508.5 2226.8 L508.8 2229.8 L509.2 2232.8 L509.5 2235.8 L509.9 2238.7 L510.2 2241.7 L510.5 2244.7 L510.9 2247.7 L511.2 2250.7 L511.5 2253.7 L511.9 2256.6 L512.2 2259.6 L512.5 2262.6 L512.8 2265.6 L513.1 2268.6 L513.4 2271.6 L513.7 2274.6 L514 2277.5 L514.3 2280.5 L514.6 2283.5 L514.9 2286.5 L515.2 2289.5 L515.5 2292.5 L515.8 2295.5 L516.1 2298.5 L516.4 2301.5 L516.7 2304.5 L517 2307.4 L517.2 2310.4 L517.5 2313.4 L517.8 2316.4 L518.1 2319.4 L518.3 2322.4 L518.6 2325.4 L518.9 2328.4 L519.2 2331.4 L519.4 2334.4 L519.7 2337.4 L520 2340.4 L520.2 2343.3 L520.5 2346.3 L520.8 2349.3 L521 2352.3 L521.3 2355.3 L521.6 2358.3 L521.8 2361.3 L522.1 2364.3 L522.4 2367.3 L522.6 2370.3 L522.9 2373.3 L523.2 2376.3 L523.4 2379.2 L523.7 2382.2 L524 2385.2 L524.2 2388.2 L524.5 2391.2 L524.8 2394.2 L525 2397.2 L525.3 2400.2 L525.5 2403.2 L525.8 2406.2 L526.1 2409.2 L526.3 2412.2 L526.6 2415.1 L526.9 2418.1 L527.1 2421.1 L527.4 2424.1 L527.6 2427.1 L527.9 2430.1 L528.2 2433.1 L528.4 2436.1 L528.7 2439.1 L528.9 2442.1 L529.2 2445 L529.5 2448 L529.7 2451 L530 2454 L530.2 2457 L530.5 2460 L530.8 2463 L531 2466 L531.3 2469 L531.6 2472 L531.8 2475 L532.1 2477.9 L532.3 2480.9 L532.6 2483.9 L532.9 2486.9 L533.1 2489.9 L533.4 2492.9 L533.6 2495.9 L533.9 2498.9 L534.1 2501.9 L534.4 2504.8 L534.7 2507.8 L534.9 2510.8 L535.2 2513.8 L535.4 2516.8 L535.7 2519.8 L536 2522.8 L536.2 2525.8 L536.5 2528.8 L536.7 2531.8 L537 2534.7 L537.3 2537.7 L537.5 2540.7 L537.8 2543.7 L538 2546.7 L538.3 2549.7 L538.6 2552.7 L538.8 2555.7 L539.1 2558.7 L539.3 2561.6 L539.6 2564.6 L539.9 2567.6 L540.1 2570.6 L540.4 2573.6 L540.6 2576.6 L540.9 2579.6 L541.2 2582.6 L541.4 2585.5 L541.7 2588.5 L541.9 2591.5 L542.2 2594.5 L542.5 2597.5 L542.7 2600.5 L543 2603.5 L543.2 2606.5 L543.5 2609.5 L543.8 2612.4 L544 2615.4 L544.3 2618.4 L544.5 2621.4 L544.8 2624.4 L545.1 2627.4 L545.3 2630.4 L545.6 2633.4 L545.8 2636.4 L546.1 2639.3 L546.4 2642.3 L546.6 2645.3 L546.9 2648.3 L547.2 2651.3 L547.4 2654.3 L547.7 2657.3 L547.9 2660.3 L548.2 2663.2 L548.5 2666.2 L548.7 2669.2 L549 2672.2 L549.3 2675.2 L549.5 2678.2 L549.8 2681.2 L550 2684.2 L550.3 2687.1 L550.6 2690.1 L550.8 2693.1 L551.1 2696.1 L551.4 2699.1 L551.6 2702.1 L551.9 2705.1 L552.2 2708.1 L552.4 2711.1 L552.7 2714 L553 2717 L553.2 2720 L553.5 2723 L553.8 2726 L554 2729 L554.3 2732 L554.6 2735 L554.8 2737.9 L555.1 2740.9 L555.4 2743.9 L555.6 2746.9 L555.9 2749.9 L556.2 2752.9 L556.5 2755.9 L556.7 2758.9 L557 2761.8 L557.3 2764.8 L557.5 2767.8 L557.8 2770.8 L558.1 2773.8 L558.4 2776.8 L558.6 2779.8 L558.9 2782.8 L559.2 2785.8 L559.4 2788.7 L559.7 2791.7 L560 2794.7 L560.3 2797.7 L560.5 2800.7 L560.8 2803.7 L561.1 2806.7 L561.4 2809.7 L561.6 2812.6 L561.9 2815.6 L562.2 2818.6 L562.5 2821.6 L562.8 2824.6 L563 2827.6 L563.3 2830.6 L563.6 2833.6 L563.9 2836.6 L564.2 2839.5 L564.4 2842.5 L564.7 2845.5 L565 2848.5 L565.3 2851.5 L565.6 2854.5 L565.8 2857.5 L566.1 2860.5 L566.4 2863.5 L566.7 2866.4 L567 2869.4 L567.3 2872.4 L567.5 2875.4 L567.8 2878.4 L568.1 2881.4 L568.4 2884.4 L568.7 2887.4 L569 2890.4 L569.3 2893.3 L569.5 2896.3 L569.8 2899.3 L570.1 2902.3 L570.4 2905.3 L570.7 2908.3 L571 2911.3 L571.3 2914.3 L571.6 2917.3 L571.9 2920.2 L572.2 2923.2 L572.5 2926.2 L572.7 2929.2 L573 2932.2 L573.3 2935.2 L573.6 2938.2 L573.9 2941.2 L574.2 2944.2 L574.5 2947.2 L574.8 2950.1 L575.1 2953.1 L575.4 2956.1 L575.7 2959.1 L576 2962.1 L576.3 2965.1 L576.6 2968.1 L576.9 2971.1 L577.2 2974.1 L577.5 2977.1 L577.8 2980 L578.1 2983 L578.4 2986 L578.7 2989 L579 2992 L579.3 2995 L579.7 2998 L580 3001 L580.3 3004 L580.6 3007 L580.9 3009.9 L581.2 3012.9 L581.5 3015.9 L581.8 3018.9 L582.1 3021.9 L582.4 3024.9 L582.8 3027.9 L583.1 3030.9 L583.4 3033.9 L583.7 3036.9 L584 3039.9 L584.3 3042.8 L584.7 3045.8 L585 3048.8 L585.3 3051.8 L585.7 3054.8 L586 3057.8 L586.3 3060.8 L586.7 3063.8 L587 3066.8 L587.4 3069.7 L587.7 3072.7 L588.1 3075.7 L588.4 3078.7 L588.8 3081.7 L589.1 3084.7 L589.5 3087.6 L589.9 3090.6 L590.3 3093.6 L590.7 3096.6 L591 3099.6 L591.4 3102.5 L591.8 3105.5 L592.2 3108.5 L592.7 3111.5 L593.1 3114.4 L593.5 3117.4 L593.9 3120.4 L594.4 3123.3 L594.8 3126.3 L595.3 3129.3 L595.7 3132.2 L596.2 3135.2 L596.6 3138.2 L597.1 3141.1 L597.6 3144.1 L598.1 3147 L598.6 3150 L599.1 3153 L599.6 3155.9 L600.2 3158.9 L600.7 3161.8 L601.2 3164.8 L601.8 3167.7 L602.4 3170.6 L602.9 3173.6 L603.5 3176.5 L604.1 3179.5 L604.7 3182.4 L605.3 3185.3 L605.9 3188.3 L606.6 3191.2 L607.2 3194.1 L607.8 3197 L608.5 3200 L609.2 3202.9 L609.9 3205.8 L610.6 3208.7 L611.3 3211.6 L612 3214.5 L612.7 3217.4 L613.5 3220.3 L614.2 3223.2 L615 3226.1 L615.7 3229 L616.5 3231.9 L617.3 3234.8 L618.2 3237.7 L619 3240.6 L619.8 3243.5 L620.7 3246.4 L621.6 3249.2 L622.4 3252.1 L623.3 3255 L624.2 3257.8 L625.2 3260.7 L626.1 3263.6 L627.1 3266.4 L628 3269.3 L629 3272.1 L630 3275 L631 3277.8 L632.1 3280.7 L633.1 3283.5 L634.2 3286.3 L635.2 3289.2 L636.3 3292 L637.5 3294.8 L638.6 3297.6 L639.8 3300.3 L641.1 3303 L642.4 3305.7 L643.8 3308.3 L645.3 3310.8 L646.8 3313.2 L648.5 3315.5 L650.3 3317.7 L652.2 3319.8 L654.2 3321.7 L656.4 3323.6 L658.7 3325.2 L661.2 3326.7 L663.9 3328.1 L666.7 3329.2 L669.7 3330.2 L672.9 3331 L676.2 3331.6 L679.6 3331.9 L683.1 3332.1 L686.5 3332.1 L689.9 3331.8 L693.1 3331.4 L696.3 3330.7 L699.3 3329.9 L702.2 3328.8 L704.9 3327.7 L707.6 3326.3 L710.1 3324.8 L712.6 3323.1 L714.9 3321.4 L717.2 3319.5 L719.4 3317.5 L721.5 3315.4 L723.5 3313.2 L725.4 3310.9 L727.3 3308.6 L729.1 3306.2 L730.9 3303.8 L732.6 3301.3 L734.2 3298.8 L735.9 3296.3 L737.4 3293.8 L738.9 3291.2 L740.4 3288.6 L741.9 3286 L743.2 3283.4 L744.6 3280.7 L745.9 3278.1 L747.2 3275.4 L748.4 3272.7 L749.6 3269.9 L750.7 3267.2 L751.9 3264.4 L752.9 3261.6 L754 3258.8 L755 3256 L756 3253.2 L756.9 3250.3 L757.9 3247.5 L758.8 3244.6 L759.6 3241.7 L760.5 3238.8 L761.3 3235.9 L762 3233 L762.8 3230.1 L763.5 3227.2 L764.3 3224.2 L764.9 3221.3 L765.6 3218.3 L766.3 3215.4 L766.9 3212.4 L767.5 3209.4 L768.1 3206.5 L768.7 3203.5 L769.2 3200.5 L769.8 3197.5 L770.3 3194.6 L770.9 3191.6 L771.4 3188.6 L771.9 3185.6 L772.4 3182.7 L772.8 3179.7 L773.3 3176.7 L773.8 3173.7 L774.2 3170.7 L774.6 3167.8 L775.1 3164.8 L775.5 3161.8 L775.9 3158.8 L776.3 3155.8 L776.7 3152.9 L777.1 3149.9 L777.5 3146.9 L777.8 3143.9 L778.2 3141 L778.5 3138 L778.9 3135 L779.2 3132 L779.6 3129 L779.9 3126.1 L780.3 3123.1 L780.6 3120.1 L780.9 3117.1 L781.2 3114.1 L781.6 3111.2 L781.9 3108.2 L782.2 3105.2 L782.5 3102.2 L782.8 3099.2 L783.1 3096.3 L783.4 3093.3 L783.7 3090.3 L784 3087.3 L784.3 3084.3 L784.7 3081.4 L785 3078.4 L785.3 3075.4 L785.6 3072.4 L785.9 3069.4 L786.2 3066.5 L786.5 3063.5 L786.9 3060.5 L787.2 3057.5 L787.5 3054.6 L787.8 3051.6 L788.2 3048.6 L788.5 3045.6 L788.8 3042.6 L789.1 3039.7 L789.5 3036.7 L789.8 3033.7 L790.1 3030.7 L790.5 3027.8 L790.8 3024.8 L791.2 3021.8 L791.5 3018.8 L791.9 3015.8 L792.2 3012.9 L792.5 3009.9 L792.9 3006.9 L793.2 3003.9 L793.6 3001 L793.9 2998 L794.3 2995 L794.7 2992 L795 2989 L795.4 2986.1 L795.7 2983.1 L796.1 2980.1 L796.4 2977.1 L796.8 2974.2 L797.2 2971.2 L797.5 2968.2 L797.9 2965.2 L798.3 2962.2 L798.6 2959.3 L799 2956.3 L799.4 2953.3 L799.7 2950.3 L800.1 2947.4 L800.5 2944.4 L800.8 2941.4 L801.2 2938.4 L801.6 2935.4 L802 2932.5 L802.3 2929.5 L802.7 2926.5 L803.1 2923.5 L803.5 2920.6 L803.8 2917.6 L804.2 2914.6 L804.6 2911.6 L805 2908.6 L805.4 2905.7 L805.7 2902.7 L806.1 2899.7 L806.5 2896.7 L806.9 2893.8 L807.2 2890.8 L807.6 2887.8 L808 2884.8 L808.4 2881.8 L808.8 2878.9 L809.2 2875.9 L809.5 2872.9 L809.9 2869.9 L810.3 2866.9 L810.7 2864 L811.1 2861 L811.4 2858 L811.8 2855 L812.2 2852 L812.6 2849.1 L813 2846.1 L813.4 2843.1 L813.7 2840.1 L814.1 2837.1 L814.5 2834.2 L814.9 2831.2 L815.3 2828.2 L815.7 2825.2 L816 2822.2 L816.4 2819.3 L816.8 2816.3 L817.2 2813.3 L817.6 2810.3 L818 2807.3 L818.3 2804.4 L818.7 2801.4 L819.1 2798.4 L819.5 2795.4 L819.9 2792.4 L820.3 2789.5 L820.7 2786.5 L821.1 2783.5 L821.4 2780.5 L821.8 2777.5 L822.2 2774.6 L822.6 2771.6 L823 2768.6 L823.4 2765.6 L823.8 2762.7 L824.2 2759.7 L824.6 2756.7 L825 2753.7 L825.4 2750.7 L825.8 2747.8 L826.2 2744.8 L826.6 2741.8 L826.9 2738.8 L827.3 2735.9 L827.7 2732.9 L828.1 2729.9 L828.5 2726.9 L828.9 2724 L829.3 2721 L829.7 2718 L830.1 2715 L830.5 2712.1 L830.9 2709.1 L831.4 2706.1 L831.8 2703.2 L832.2 2700.2 L832.6 2697.2 L833 2694.2 L833.4 2691.3 L833.8 2688.3 L834.2 2685.3 L834.6 2682.4 L835 2679.4 L835.4 2676.4 L835.8 2673.5 L836.3 2670.5 L836.7 2667.5 L837.1 2664.6 L837.5 2661.6 L837.9 2658.6 L838.3 2655.7 L838.8 2652.7 L839.2 2649.7 L839.6 2646.8 L840 2643.8 L840.4 2640.8 L840.9 2637.9 L841.3 2634.9 L841.7 2632 L842.1 2629 L842.6 2626.1 L843 2623.1 L843.4 2620.1 L843.9 2617.2 L844.3 2614.2 L844.7 2611.3 L845.2 2608.3 L845.6 2605.4 L846 2602.4 L846.5 2599.5 L846.9 2596.5 L847.4 2593.5 L847.8 2590.6 L848.3 2587.6 L848.8 2584.7 L849.3 2581.7 L850 2578.8 L850.6 2575.8 L851.4 2572.8 L852.3 2569.8 L853.3 2566.9 L854.4 2563.8 L855.7 2560.8 L857.1 2557.8 L858.6 2554.8 L860.4 2552.1 L862.3 2549.6 L864.3 2547.7 L866.5 2546.3 L868.7 2545.6 L870.7 2545.6 L872.6 2546.3 L874.2 2547.6 L875.7 2549.5 L877.1 2551.7 L878.3 2554.3 L879.5 2557.1 L880.5 2560 L881.6 2563.1 L882.6 2566.1 L883.6 2569.1 L884.6 2572.1 L885.5 2575.1 L886.4 2578.1 L887.3 2581.1 L888.2 2584.1 L889.1 2587.1 L889.9 2590.1 L890.7 2593 L891.5 2596 L892.3 2599 L893.1 2602 L893.8 2605 L894.5 2608 L895.3 2611 L895.9 2614 L896.6 2616.9 L897.3 2619.9 L897.9 2622.9 L898.5 2625.9 L899.1 2628.8 L899.7 2631.8 L900.3 2634.8 L900.9 2637.8 L901.4 2640.7 L902 2643.7 L902.5 2646.7 L903 2649.6 L903.6 2652.6 L904.1 2655.6 L904.6 2658.5 L905 2661.5 L905.5 2664.5 L906 2667.4 L906.4 2670.4 L906.9 2673.4 L907.3 2676.3 L907.8 2679.3 L908.2 2682.2 L908.6 2685.2 L909 2688.2 L909.4 2691.1 L909.9 2694.1 L910.3 2697 L910.7 2700 L911.1 2702.9 L911.5 2705.9 L911.9 2708.9 L912.3 2711.8 L912.7 2714.8 L913.1 2717.7 L913.5 2720.7 L913.9 2723.6 L914.3 2726.6 L914.7 2729.5 L915.1 2732.5 L915.5 2735.4 L915.9 2738.4 L916.3 2741.4 L916.7 2744.3 L917.1 2747.3 L917.6 2750.2 L918 2753.2 L918.4 2756.1 L918.9 2759.1 L919.3 2762 L919.7 2765 L920.2 2767.9 L920.6 2770.9 L921.1 2773.9 L921.5 2776.8 L922 2779.8 L922.4 2782.7 L922.9 2785.7 L923.4 2788.6 L923.8 2791.6 L924.3 2794.5 L924.8 2797.5 L925.2 2800.4 L925.7 2803.4 L926.2 2806.4 L926.7 2809.3 L927.1 2812.3 L927.6 2815.2 L928.1 2818.2 L928.6 2821.1 L929.1 2824.1 L929.6 2827.1 L930 2830 L930.5 2833 L931 2835.9 L931.5 2838.9 L932 2841.8 L932.5 2844.8 L933 2847.8 L933.5 2850.7 L934 2853.7 L934.5 2856.6 L935 2859.6 L935.5 2862.6 L936 2865.5 L936.5 2868.5 L937 2871.5 L937.5 2874.4 L938 2877.4 L938.5 2880.3 L939 2883.3 L939.5 2886.3 L940 2889.2 L940.5 2892.2 L941 2895.2 L941.5 2898.1 L942 2901.1 L942.5 2904.1 L943 2907 L943.5 2910 L944 2913 L944.5 2915.9 L945 2918.9 L945.5 2921.9 L946 2924.8 L946.5 2927.8 L947 2930.8 L947.5 2933.8 L948 2936.7 L948.5 2939.7 L949 2942.7 L949.4 2945.6 L949.9 2948.6 L950.4 2951.6 L950.9 2954.6 L951.4 2957.6 L951.9 2960.5 L952.3 2963.5 L952.8 2966.5 L953.3 2969.5 L953.8 2972.4 L954.2 2975.4 L954.7 2978.4 L955.2 2981.4 L955.6 2984.4 L956.1 2987.3 L956.5 2990.3 L957 2993.3 L957.5 2996.3 L957.9 2999.3 L958.3 3002.3 L958.8 3005.3 L959.2 3008.2 L959.7 3011.2 L960.1 3014.2 L960.6 3017.2 L961 3020.2 L961.4 3023.2 L961.9 3026.2 L962.3 3029.2 L962.8 3032.1 L963.2 3035.1 L963.7 3038.1 L964.2 3041.1 L964.6 3044.1 L965.1 3047 L965.6 3050 L966.1 3053 L966.6 3055.9 L967.1 3058.9 L967.7 3061.8 L968.2 3064.8 L968.8 3067.7 L969.4 3070.7 L970 3073.6 L970.6 3076.5 L971.2 3079.5 L971.8 3082.4 L972.5 3085.3 L973.2 3088.2 L973.9 3091.1 L974.6 3094 L975.3 3096.9 L976.1 3099.7 L976.9 3102.6 L977.7 3105.5 L978.5 3108.3 L979.4 3111.2 L980.3 3114 L981.2 3116.8 L982.2 3119.6 L983.1 3122.4 L984.2 3125.2 L985.2 3128 L986.3 3130.8 L987.4 3133.5 L988.5 3136.3 L989.7 3139 L990.9 3141.7 L992.1 3144.5 L993.4 3147.2 L994.7 3149.8 L996.1 3152.5 L997.5 3155.2 L998.9 3157.8 L1000.4 3160.5 L1001.9 3163.1 L1003.4 3165.7 L1005 3168.3 L1006.6 3170.9 L1008.2 3173.5 L1009.9 3176 L1011.6 3178.6 L1013.3 3181.1 L1015 3183.6 L1016.7 3186.1 L1018.5 3188.6 L1020.3 3191.1 L1022.1 3193.5 L1023.9 3196 L1025.7 3198.4 L1027.5 3200.8 L1029.3 3203.2 L1031.2 3205.6 L1033 3208 L1034.8 3210.3 L1036.7 3212.7 L1038.5 3215 L1040.3 3217.3 L1042.2 3219.7 L1044 3222 L1045.9 3224.3 L1047.7 3226.5 L1049.5 3228.8 L1051.4 3231.1 L1053.2 3233.4 L1055.1 3235.6 L1056.9 3237.9 L1058.8 3240.2 L1060.6 3242.4 L1062.5 3244.7 L1064.3 3247 L1066.2 3249.3 L1068 3251.5 L1069.9 3253.8 L1071.8 3256.1 L1073.6 3258.4 L1075.5 3260.7 L1077.4 3263.1 L1079.2 3265.4 L1081.1 3267.7 L1083 3270.1 L1084.9 3272.5 L1086.7 3274.9 L1088.6 3277.3 L1090.5 3279.7 L1092.4 3282.2 L1094.3 3284.6 L1096.2 3287.1 L1098.1 3289.6 L1100 3292.2 L1101.9 3294.7 L1103.8 3297.3 L1105.8 3299.8 L1107.7 3302.3 L1109.7 3304.8 L1111.7 3307.3 L1113.8 3309.7 L1115.8 3312 L1117.9 3314.2 L1120.1 3316.3 L1122.3 3318.3 L1124.6 3320.1 L1126.9 3321.8 L1129.3 3323.4 L1131.7 3324.7 L1134.2 3325.9 L1136.8 3326.9 L1139.5 3327.7 L1142.2 3328.4 L1145 3328.9 L1147.8 3329.3 L1150.7 3329.5 L1153.6 3329.7 L1156.6 3329.7 L1159.6 3329.7 L1162.6 3329.7 L1165.7 3329.6 L1168.7 3329.5 L1171.8 3329.4 L1174.9 3329.2 L1178 3329.2 L1181.1 3329.1 L1184.1 3329.1 L1187.2 3329.2 L1190.2 3329.4 L1193.3 3329.6 L1196.3 3329.9 L1199.3 3330.3 L1202.3 3330.6 L1205.3 3331 L1208.3 3331.4 L1211.3 3331.7 L1214.3 3332.1 L1217.2 3332.5 L1220.2 3332.8 L1223.2 3333 L1226.1 3333.2 L1229.1 3333.4 L1232.1 3333.5 L1235 3333.5 L1238 3333.6 L1241 3333.5 L1244 3333.4 L1246.9 3333.3 L1249.9 3333.2 L1252.9 3333 L1255.8 3332.7 L1258.8 3332.5 L1261.8 3332.2 L1264.8 3331.9 L1267.7 3331.5 L1270.7 3331.2 L1273.7 3330.8 L1276.6 3330.4 L1279.6 3330 L1282.6 3329.5 L1285.6 3329.1 L1288.5 3328.6 L1291.5 3328.2 L1294.5 3327.7 L1297.4 3327.2 L1300.4 3326.7 L1303.4 3326.3 L1306.3 3325.8 L1309.3 3325.3 L1312.3 3324.9 L1315.2 3324.4 L1318.2 3324 L1321.2 3323.5 L1324.2 3323.1 L1327.1 3322.7 L1330.1 3322.4 L1333.1 3322 L1336 3321.7 L1339 3321.4 L1341.9 3321.1 L1344.9 3320.9 L1347.9 3320.6 L1350.8 3320.5 L1353.8 3320.3 L1356.8 3320.2 L1359.7 3320.2 L1362.7 3320.2 L1365.7 3320.2 L1368.6 3320.2 L1371.6 3320.3 L1374.5 3320.4 L1377.5 3320.6 L1380.5 3320.8 L1383.4 3321 L1386.4 3321.2 L1389.3 3321.5 L1392.3 3321.7 L1395.3 3322 L1398.2 3322.4 L1401.2 3322.7 L1404.1 3323.1 L1407.1 3323.5 L1410.1 3323.8 L1413 3324.3 L1416 3324.7 L1418.9 3325.1 L1421.9 3325.5 L1424.9 3326 L1427.8 3326.4 L1430.8 3326.9 L1433.7 3327.3 L1436.7 3327.8 L1439.7 3328.3 L1442.6 3328.7 L1445.6 3329.2 L1448.6 3329.6 L1451.5 3330 L1454.5 3330.5 L1457.5 3330.9 L1460.4 3331.3 L1463.4 3331.7 L1466.4 3332.1 L1469.3 3332.5 L1472.3 3332.8 L1475.3 3333.2 L1478.2 3333.5 L1481.2 3333.8 L1484.2 3334 L1487.2 3334.3 L1490.1 3334.5 L1493.1 3334.7 L1496.1 3334.9 L1499.1 3335 L1502.1 3335.1 L1505 3335.2 L1508 3335.2 L1511 3335.2 L1514 3335.1 L1517 3335.1 L1520 3334.9 L1523 3334.8 L1526 3334.6 L1529 3334.3 L1531.9 3334 L1534.9 3333.7 L1537.9 3333.3 L1540.9 3332.8 L1543.8 3332.3 L1546.8 3331.7 L1549.7 3331 L1552.6 3330.3 L1555.5 3329.5 L1558.3 3328.7 L1561.2 3327.8 L1563.9 3326.7 L1566.7 3325.7 L1569.4 3324.5 L1572.1 3323.2 L1574.7 3321.9 L1577.3 3320.4 L1579.8 3318.9 L1582.2 3317.3 L1584.7 3315.5 L1587 3313.7 L1589.3 3311.8 L1591.6 3309.8 L1593.8 3307.8 L1596 3305.6 L1598.1 3303.4 L1600.2 3301.2 L1602.2 3298.9 L1604.3 3296.6 L1606.3 3294.3 L1608.2 3291.9 L1610.2 3289.5 L1612.1 3287.1 L1614 3284.7 L1615.9 3282.3 L1617.7 3279.9 L1619.6 3277.5 L1621.4 3275.1 L1623.2 3272.7 L1625 3270.2 L1626.8 3267.8 L1628.5 3265.4 L1630.3 3262.9 L1632 3260.5 L1633.7 3258 L1635.4 3255.5 L1637.1 3253.1 L1638.8 3250.6 L1640.5 3248.1 L1642.1 3245.6 L1643.8 3243.2 L1645.4 3240.7 L1647.1 3238.2 L1648.7 3235.7 L1650.3 3233.2 L1651.9 3230.7 L1653.6 3228.2 L1655.2 3225.6 L1656.8 3223.1 L1658.4 3220.6 L1660 3218.1 L1661.6 3215.6 L1663.1 3213 L1664.7 3210.5 L1666.3 3207.9 L1667.9 3205.4 L1669.5 3202.8 L1671.1 3200.3 L1672.7 3197.8 L1674.3 3195.2 L1675.9 3192.7 L1677.6 3190.1 L1679.2 3187.6 L1680.9 3185.1 L1682.6 3182.6 L1684.3 3180.2 L1686 3177.7 L1687.8 3175.3 L1689.5 3172.9 L1691.3 3170.6 L1693.2 3168.3 L1695.1 3166 L1697 3163.7 L1698.9 3161.5 L1700.9 3159.3 L1703 3157.2 L1705.1 3155.2 L1707.2 3153.2 L1709.4 3151.2 L1711.7 3149.3 L1714 3147.4 L1716.3 3145.7 L1718.8 3144 L1721.2 3142.3 L1723.8 3140.7 L1726.4 3139.2 L1729.1 3137.8 L1731.9 3136.5 L1734.7 3135.2 L1737.5 3134 L1740.4 3132.9 L1743.4 3131.9 L1746.3 3130.9 L1749.4 3130.1 L1752.4 3129.3 L1755.5 3128.6 L1758.6 3127.9 L1761.7 3127.4 L1764.8 3127 L1767.9 3126.6 L1771 3126.3 L1774.2 3126.1 L1777.3 3126.1 L1780.4 3126.1 L1783.5 3126.1 L1786.5 3126.3 L1789.6 3126.6 L1792.6 3127 L1795.5 3127.4 L1798.5 3128 L1801.3 3128.7 L1804.2 3129.4 L1807 3130.3 L1809.7 3131.2 L1812.4 3132.2 L1815.1 3133.4 L1817.7 3134.6 L1820.2 3135.9 L1822.8 3137.2 L1825.3 3138.7 L1827.7 3140.2 L1830.1 3141.8 L1832.5 3143.4 L1834.8 3145.2 L1837.1 3147 L1839.3 3148.8 L1841.5 3150.8 L1843.7 3152.8 L1845.8 3154.8 L1847.9 3156.9 L1849.9 3159 L1852 3161.3 L1853.9 3163.5 L1855.9 3165.8 L1857.8 3168.1 L1859.7 3170.5 L1861.5 3172.9 L1863.4 3175.4 L1865.1 3177.9 L1866.9 3180.4 L1868.6 3183 L1870.3 3185.6 L1872 3188.2 L1873.6 3190.8 L1875.2 3193.5 L1876.8 3196.1 L1878.3 3198.8 L1879.9 3201.5 L1881.4 3204.3 L1882.8 3207 L1884.3 3209.7 L1885.7 3212.5 L1887.1 3215.2 L1888.5 3217.9 L1889.8 3220.7 L1891.2 3223.4 L1892.5 3226.2 L1893.8 3228.9 L1895.1 3231.7 L1896.4 3234.4 L1897.7 3237.1 L1899 3239.8 L1900.3 3242.5 L1901.6 3245.2 L1902.9 3247.9 L1904.2 3250.6 L1905.5 3253.3 L1906.9 3255.9 L1908.2 3258.5 L1909.6 3261.1 L1911 3263.7 L1912.4 3266.3 L1913.9 3268.9 L1915.4 3271.4 L1916.9 3273.9 L1918.4 3276.4 L1920 3278.8 L1921.6 3281.3 L1923.3 3283.7 L1925 3286 L1926.8 3288.4 L1928.6 3290.7 L1930.4 3293 L1932.4 3295.2 L1934.3 3297.4 L1936.4 3299.6 L1938.5 3301.7 L1940.6 3303.8 L1942.8 3305.8 L1945.1 3307.8 L1947.4 3309.8 L1949.8 3311.7 L1952.2 3313.5 L1954.7 3315.3 L1957.2 3317 L1959.8 3318.7 L1962.5 3320.3 L1965.2 3321.8 L1968 3323.3 L1970.8 3324.7 L1973.7 3326 L1976.7 3327.3 L1979.7 3328.4 L1982.7 3329.4 L1985.7 3330.2 L1988.6 3330.6 L1991.4 3330.6 L1994.1 3330.2 L1996.6 3329.3 L1998.9 3328 L2001.1 3326.3 L2003.1 3324.2 L2005 3321.9 L2006.8 3319.3 L2008.4 3316.6 L2009.9 3313.9 L2011.4 3311.1 L2012.7 3308.3 L2014 3305.4 L2015.1 3302.6 L2016.3 3299.8 L2017.3 3297 L2018.4 3294.2 L2019.4 3291.4 L2020.3 3288.6 L2021.3 3285.8 L2022.3 3283 L2023.2 3280.2 L2024.2 3277.4 L2025.2 3274.6 L2026.3 3271.8 L2027.3 3269.1 L2028.4 3266.3 L2029.5 3263.5 L2030.6 3260.8 L2031.7 3258 L2032.8 3255.3 L2034 3252.5 L2035.1 3249.7 L2036.2 3247 L2037.4 3244.2 L2038.5 3241.5 L2039.6 3238.7 L2040.7 3235.9 L2041.8 3233.1 L2042.9 3230.4 L2043.9 3227.6 L2045 3224.8 L2046 3222 L2047 3219.2 L2047.9 3216.4 L2048.9 3213.5 L2049.7 3210.7 L2050.6 3207.9 L2051.4 3205 L2052.2 3202.1 L2052.9 3199.2 L2053.6 3196.4 L2054.2 3193.4 L2054.8 3190.5 L2055.4 3187.6 L2055.9 3184.7 L2056.4 3181.7 L2056.9 3178.8 L2057.3 3175.8 L2057.7 3172.8 L2058.1 3169.9 L2058.4 3166.9 L2058.7 3163.9 L2059 3160.9 L2059.3 3157.9 L2059.5 3154.9 L2059.8 3151.9 L2060 3148.9 L2060.2 3145.8 L2060.4 3142.8 L2060.5 3139.8 L2060.7 3136.8 L2060.8 3133.7 L2060.9 3130.7 L2061.1 3127.7 L2061.2 3124.6 L2061.3 3121.6 L2061.4 3118.6 L2061.5 3115.5 L2061.6 3112.5 L2061.7 3109.5 L2061.8 3106.4 L2061.9 3103.4 L2062 3100.4 L2062.1 3097.3 L2062.3 3094.3 L2062.4 3091.3 L2062.5 3088.3 L2062.7 3085.3 L2062.8 3082.3 L2062.9 3079.3 L2063.1 3076.3 L2063.3 3073.3 L2063.4 3070.3 L2063.6 3067.3 L2063.8 3064.3 L2063.9 3061.3 L2064.1 3058.3 L2064.3 3055.3 L2064.5 3052.3 L2064.7 3049.4 L2064.9 3046.4 L2065.1 3043.4 L2065.3 3040.4 L2065.5 3037.4 L2065.7 3034.5 L2065.9 3031.5 L2066.2 3028.5 L2066.4 3025.5 L2066.6 3022.5 L2066.8 3019.6 L2067.1 3016.6 L2067.3 3013.6 L2067.5 3010.6 L2067.8 3007.7 L2068 3004.7 L2068.3 3001.7 L2068.5 2998.7 L2068.8 2995.8 L2069 2992.8 L2069.3 2989.8 L2069.5 2986.8 L2069.8 2983.8 L2070 2980.9 L2070.3 2977.9 L2070.5 2974.9 L2070.8 2971.9 L2071 2968.9 L2071.3 2965.9 L2071.6 2962.9 L2071.8 2959.9 L2072.1 2956.9 L2072.3 2953.9 L2072.6 2950.9 L2072.9 2947.9 L2073.1 2944.9 L2073.4 2941.9 L2073.6 2938.9 L2073.9 2935.9 L2074.2 2932.9 L2074.4 2929.9" fill="none" stroke="#000" stroke-width="6.2" stroke-linejoin="round" stroke-linecap="round" clip-path="url(#cb)"/>
<path d="M265.6 3332.1 L268 3330.1 L270.4 3328.1 L272.7 3326.1 L275 3324 L277.2 3321.9 L279.3 3319.7 L281.4 3317.5 L283.4 3315.3 L285.4 3313.1 L287.4 3310.8 L289.2 3308.5 L291.1 3306.2 L292.8 3303.8 L294.6 3301.4 L296.3 3299 L297.9 3296.6 L299.5 3294.1 L301 3291.6 L302.5 3289.1 L304 3286.5 L305.4 3284 L306.8 3281.4 L308.1 3278.8 L309.5 3276.2 L310.7 3273.5 L311.9 3270.8 L313.1 3268.1 L314.3 3265.4 L315.4 3262.7 L316.5 3260 L317.6 3257.2 L318.6 3254.4 L319.6 3251.6 L320.6 3248.8 L321.5 3246 L322.4 3243.1 L323.3 3240.3 L324.2 3237.4 L325 3234.5 L325.8 3231.7 L326.6 3228.8 L327.4 3225.8 L328.1 3222.9 L328.9 3220 L329.6 3217.1 L330.3 3214.1 L331 3211.2 L331.6 3208.2 L332.3 3205.2 L332.9 3202.3 L333.5 3199.3 L334.1 3196.3 L334.7 3193.3 L335.3 3190.4 L335.9 3187.4 L336.5 3184.4 L337 3181.4 L337.6 3178.4 L338.1 3175.4 L338.7 3172.4 L339.2 3169.4 L339.7 3166.5 L340.3 3163.5 L340.8 3160.5 L341.3 3157.5 L341.8 3154.5 L342.4 3151.5 L342.9 3148.6 L343.4 3145.6 L343.9 3142.6 L344.4 3139.6 L344.8 3136.6 L345.3 3133.6 L345.8 3130.7 L346.3 3127.7 L346.8 3124.7 L347.2 3121.7 L347.7 3118.7 L348.2 3115.8 L348.6 3112.8 L349.1 3109.8 L349.5 3106.8 L350 3103.9 L350.4 3100.9 L350.8 3097.9 L351.3 3094.9 L351.7 3092 L352.1 3089 L352.6 3086 L353 3083 L353.4 3080.1 L353.8 3077.1 L354.2 3074.1 L354.6 3071.1 L355.1 3068.2 L355.5 3065.2 L355.9 3062.2 L356.3 3059.2 L356.7 3056.3 L357 3053.3 L357.4 3050.3 L357.8 3047.4 L358.2 3044.4 L358.6 3041.4 L359 3038.4 L359.3 3035.5 L359.7 3032.5 L360.1 3029.5 L360.5 3026.5 L360.8 3023.6 L361.2 3020.6 L361.5 3017.6 L361.9 3014.7 L362.3 3011.7 L362.6 3008.7 L363 3005.7 L363.3 3002.8 L363.7 2999.8 L364 2996.8 L364.4 2993.8 L364.7 2990.9 L365.1 2987.9 L365.4 2984.9 L365.7 2981.9 L366.1 2979 L366.4 2976 L366.8 2973 L367.1 2970 L367.4 2967.1 L367.8 2964.1 L368.1 2961.1 L368.4 2958.1 L368.8 2955.2 L369.1 2952.2 L369.4 2949.2 L369.7 2946.2 L370.1 2943.2 L370.4 2940.3 L370.7 2937.3 L371 2934.3 L371.3 2931.3 L371.7 2928.4 L372 2925.4 L372.3 2922.4 L372.6 2919.4 L372.9 2916.4 L373.2 2913.5 L373.5 2910.5 L373.8 2907.5 L374.1 2904.5 L374.4 2901.5 L374.8 2898.6 L375.1 2895.6 L375.4 2892.6 L375.7 2889.6 L376 2886.6 L376.3 2883.6 L376.6 2880.7 L376.9 2877.7 L377.1 2874.7 L377.4 2871.7 L377.7 2868.7 L378 2865.8 L378.3 2862.8 L378.6 2859.8 L378.9 2856.8 L379.2 2853.8 L379.5 2850.8 L379.8 2847.8 L380 2844.9 L380.3 2841.9 L380.6 2838.9 L380.9 2835.9 L381.2 2832.9 L381.5 2829.9 L381.7 2827 L382 2824 L382.3 2821 L382.6 2818 L382.8 2815 L383.1 2812 L383.4 2809 L383.7 2806.1 L383.9 2803.1 L384.2 2800.1 L384.5 2797.1 L384.8 2794.1 L385 2791.1 L385.3 2788.1 L385.6 2785.1 L385.8 2782.2 L386.1 2779.2 L386.4 2776.2 L386.6 2773.2 L386.9 2770.2 L387.2 2767.2 L387.4 2764.2 L387.7 2761.2 L387.9 2758.2 L388.2 2755.3 L388.5 2752.3 L388.7 2749.3 L389 2746.3 L389.2 2743.3 L389.5 2740.3 L389.7 2737.3 L390 2734.3 L390.3 2731.3 L390.5 2728.4 L390.8 2725.4 L391 2722.4 L391.3 2719.4 L391.5 2716.4 L391.8 2713.4 L392 2710.4 L392.3 2707.4 L392.5 2704.4 L392.8 2701.4 L393 2698.4 L393.3 2695.5 L393.5 2692.5 L393.8 2689.5 L394 2686.5 L394.3 2683.5 L394.5 2680.5 L394.8 2677.5 L395 2674.5 L395.2 2671.5 L395.5 2668.5 L395.7 2665.5 L396 2662.5 L396.2 2659.5 L396.5 2656.6 L396.7 2653.6 L397 2650.6 L397.2 2647.6 L397.4 2644.6 L397.7 2641.6 L397.9 2638.6 L398.2 2635.6 L398.4 2632.6 L398.6 2629.6 L398.9 2626.6 L399.1 2623.6 L399.4 2620.6 L399.6 2617.6 L399.8 2614.6 L400.1 2611.6 L400.3 2608.7 L400.6 2605.7 L400.8 2602.7 L401 2599.7 L401.3 2596.7 L401.5 2593.7 L401.8 2590.7 L402 2587.7 L402.2 2584.7 L402.5 2581.7 L402.7 2578.7 L402.9 2575.7 L403.2 2572.7 L403.4 2569.7 L403.7 2566.7 L403.9 2563.7 L404.1 2560.7 L404.4 2557.7 L404.6 2554.7 L404.8 2551.8 L405.1 2548.8 L405.3 2545.8 L405.6 2542.8 L405.8 2539.8 L406 2536.8 L406.3 2533.8 L406.5 2530.8 L406.7 2527.8 L407 2524.8 L407.2 2521.8 L407.5 2518.8 L407.7 2515.8 L407.9 2512.8 L408.2 2509.8 L408.4 2506.8 L408.6 2503.8 L408.9 2500.8 L409.1 2497.8 L409.4 2494.8 L409.6 2491.8 L409.8 2488.8 L410.1 2485.8 L410.3 2482.8 L410.6 2479.8 L410.8 2476.9 L411 2473.9 L411.3 2470.9 L411.5 2467.9 L411.8 2464.9 L412 2461.9 L412.2 2458.9 L412.5 2455.9 L412.7 2452.9 L413 2449.9 L413.2 2446.9 L413.5 2443.9 L413.7 2440.9 L413.9 2437.9 L414.2 2434.9 L414.4 2431.9 L414.7 2428.9 L414.9 2425.9 L415.2 2422.9 L415.4 2419.9 L415.7 2416.9 L415.9 2413.9 L416.2 2410.9 L416.4 2407.9 L416.7 2404.9 L416.9 2401.9 L417.2 2398.9 L417.4 2396 L417.7 2393 L417.9 2390 L418.2 2387 L418.4 2384 L418.7 2381 L418.9 2378 L419.2 2375 L419.4 2372 L419.7 2369 L420 2366 L420.2 2363 L420.5 2360 L420.7 2357 L421 2354 L421.2 2351 L421.5 2348 L421.8 2345 L422 2342 L422.3 2339 L422.6 2336 L422.8 2333.1 L423.1 2330.1 L423.4 2327.1 L423.6 2324.1 L423.9 2321.1 L424.2 2318.1 L424.4 2315.1 L424.7 2312.1 L425 2309.1 L425.2 2306.1 L425.5 2303.1 L425.8 2300.1 L426.1 2297.2 L426.3 2294.2 L426.6 2291.2 L426.9 2288.2 L427.2 2285.2 L427.5 2282.2 L427.7 2279.2 L428 2276.2 L428.3 2273.2 L428.6 2270.3 L428.9 2267.3 L429.2 2264.3 L429.5 2261.3 L429.7 2258.3 L430 2255.3 L430.3 2252.4 L430.6 2249.4 L430.9 2246.4 L431.2 2243.4 L431.5 2240.4 L431.8 2237.4 L432.1 2234.5 L432.4 2231.5 L432.7 2228.5 L433 2225.5 L433.3 2222.5 L433.6 2219.6 L433.9 2216.6 L434.2 2213.6 L434.5 2210.6 L434.8 2207.7 L435.2 2204.7 L435.5 2201.7 L435.8 2198.7 L436.1 2195.8 L436.4 2192.8 L436.7 2189.8 L437.1 2186.9 L437.4 2183.9 L437.7 2180.9 L438 2178 L438.4 2175 L438.7 2172 L439 2169.1 L439.4 2166.1 L439.7 2163.1 L440 2160.2 L440.4 2157.2 L440.7 2154.2 L441 2151.3 L441.4 2148.3 L441.7 2145.4 L442.1 2142.4 L442.4 2139.4 L442.8 2136.5 L443.1 2133.5 L443.5 2130.6 L443.8 2127.6 L444.2 2124.7 L444.5 2121.7 L444.9 2118.8 L445.2 2115.8 L445.6 2112.9 L446 2109.9 L446.3 2107 L446.7 2104 L447.1 2101.1 L447.5 2098.1 L447.9 2095.2 L448.3 2092.2 L448.7 2089.2 L449.1 2086.2 L449.5 2083.2 L449.9 2080.2 L450.4 2077.2 L450.9 2074.2 L451.4 2071.1 L451.9 2068.1 L452.4 2065 L452.9 2061.9 L453.5 2058.8 L454.1 2055.6 L454.7 2052.4 L455.4 2049.3 L456 2046 L456.7 2042.8 L457.4 2039.5 L458.2 2036.2 L459 2033.1 L460 2030 L461 2027.2 L462.2 2024.7 L463.5 2022.6 L465.1 2021 L466.9 2019.9 L468.9 2019.4 L471 2019.5 L473 2020.2 L474.8 2021.4 L476.2 2023.1 L477.5 2025.2 L478.5 2027.6 L479.4 2030.4 L480.2 2033.3 L480.9 2036.4 L481.5 2039.6 L482 2042.8 L482.6 2046 L483.2 2049.1 L483.7 2052.3 L484.3 2055.4 L484.8 2058.6 L485.3 2061.7 L485.9 2064.8 L486.4 2067.9 L486.9 2071 L487.4 2074 L487.9 2077.1 L488.4 2080.1 L488.9 2083.2 L489.4 2086.2 L489.8 2089.2 L490.3 2092.3 L490.8 2095.3 L491.2 2098.3 L491.7 2101.3 L492.1 2104.2 L492.6 2107.2 L493 2110.2 L493.4 2113.2 L493.9 2116.1 L494.3 2119.1 L494.7 2122 L495.1 2125 L495.6 2127.9 L496 2130.9 L496.4 2133.8 L496.8 2136.7 L497.2 2139.7 L497.6 2142.6 L498 2145.5 L498.3 2148.5 L498.7 2151.4 L499.1 2154.3 L499.5 2157.3 L499.9 2160.2 L500.3 2163.1 L500.6 2166.1 L501 2169 L501.4 2172 L501.8 2174.9 L502.1 2177.8 L502.5 2180.8 L502.9 2183.7 L503.2 2186.7 L503.6 2189.7 L503.9 2192.6 L504.3 2195.6 L504.7 2198.5 L505 2201.5 L505.4 2204.5 L505.7 2207.4 L506.1 2210.4 L506.4 2213.4 L506.8 2216.4 L507.1 2219.3 L507.5 2222.3 L507.8 2225.3 L508.1 2228.3 L508.5 2231.3 L508.8 2234.3 L509.2 2237.3 L509.5 2240.2 L509.8 2243.2 L510.2 2246.2 L510.5 2249.2 L510.8 2252.2 L511.2 2255.2 L511.5 2258.2 L511.8 2261.2 L512.2 2264.2 L512.5 2267.2 L512.8 2270.2 L513.1 2273.2 L513.4 2276.2 L513.8 2279.2 L514.1 2282.2 L514.4 2285.2 L514.7 2288.2 L515 2291.2 L515.3 2294.2 L515.7 2297.2 L516 2300.2 L516.3 2303.2 L516.6 2306.2 L516.9 2309.2 L517.2 2312.2 L517.5 2315.2 L517.8 2318.2 L518.1 2321.2 L518.4 2324.2 L518.7 2327.2 L519 2330.2 L519.3 2333.2 L519.6 2336.2 L519.9 2339.2 L520.2 2342.2 L520.5 2345.2 L520.8 2348.1 L521.1 2351.1 L521.4 2354.1 L521.7 2357.1 L522 2360.1 L522.2 2363.1 L522.5 2366.1 L522.8 2369.1 L523.1 2372.1 L523.4 2375.1 L523.7 2378.1 L524 2381.1 L524.2 2384.1 L524.5 2387.1 L524.8 2390.1 L525.1 2393.1 L525.4 2396 L525.6 2399 L525.9 2402 L526.2 2405 L526.5 2408 L526.7 2411 L527 2414 L527.3 2417 L527.6 2420 L527.8 2423 L528.1 2426 L528.4 2429 L528.6 2431.9 L528.9 2434.9 L529.2 2437.9 L529.5 2440.9 L529.7 2443.9 L530 2446.9 L530.2 2449.9 L530.5 2452.9 L530.8 2455.9 L531 2458.8 L531.3 2461.8 L531.6 2464.8 L531.8 2467.8 L532.1 2470.8 L532.4 2473.8 L532.6 2476.8 L532.9 2479.8 L533.1 2482.8 L533.4 2485.7 L533.6 2488.7 L533.9 2491.7 L534.2 2494.7 L534.4 2497.7 L534.7 2500.7 L534.9 2503.7 L535.2 2506.7 L535.4 2509.6 L535.7 2512.6 L535.9 2515.6 L536.2 2518.6 L536.5 2521.6 L536.7 2524.6 L537 2527.6 L537.2 2530.6 L537.5 2533.5 L537.7 2536.5 L538 2539.5 L538.2 2542.5 L538.5 2545.5 L538.7 2548.5 L539 2551.5 L539.2 2554.4 L539.5 2557.4 L539.7 2560.4 L540 2563.4 L540.2 2566.4 L540.5 2569.4 L540.7 2572.4 L541 2575.3 L541.2 2578.3 L541.5 2581.3 L541.7 2584.3 L541.9 2587.3 L542.2 2590.3 L542.4 2593.3 L542.7 2596.2 L542.9 2599.2 L543.2 2602.2 L543.4 2605.2 L543.7 2608.2 L543.9 2611.2 L544.2 2614.2 L544.4 2617.1 L544.7 2620.1 L544.9 2623.1 L545.2 2626.1 L545.4 2629.1 L545.6 2632.1 L545.9 2635.1 L546.1 2638 L546.4 2641 L546.6 2644 L546.9 2647 L547.1 2650 L547.4 2653 L547.6 2656 L547.9 2658.9 L548.1 2661.9 L548.4 2664.9 L548.6 2667.9 L548.9 2670.9 L549.1 2673.9 L549.3 2676.9 L549.6 2679.9 L549.8 2682.8 L550.1 2685.8 L550.3 2688.8 L550.6 2691.8 L550.8 2694.8 L551.1 2697.8 L551.3 2700.8 L551.6 2703.7 L551.8 2706.7 L552.1 2709.7 L552.3 2712.7 L552.6 2715.7 L552.8 2718.7 L553.1 2721.7 L553.3 2724.7 L553.6 2727.6 L553.9 2730.6 L554.1 2733.6 L554.4 2736.6 L554.6 2739.6 L554.9 2742.6 L555.1 2745.6 L555.4 2748.6 L555.6 2751.6 L555.9 2754.5 L556.1 2757.5 L556.4 2760.5 L556.7 2763.5 L556.9 2766.5 L557.2 2769.5 L557.4 2772.5 L557.7 2775.5 L558 2778.5 L558.2 2781.4 L558.5 2784.4 L558.7 2787.4 L559 2790.4 L559.3 2793.4 L559.5 2796.4 L559.8 2799.4 L560.1 2802.4 L560.3 2805.4 L560.6 2808.4 L560.9 2811.4 L561.1 2814.3 L561.4 2817.3 L561.7 2820.3 L561.9 2823.3 L562.2 2826.3 L562.5 2829.3 L562.8 2832.3 L563 2835.3 L563.3 2838.3 L563.6 2841.3 L563.9 2844.3 L564.1 2847.3 L564.4 2850.3 L564.7 2853.3 L565 2856.2 L565.2 2859.2 L565.5 2862.2 L565.8 2865.2 L566.1 2868.2 L566.4 2871.2 L566.6 2874.2 L566.9 2877.2 L567.2 2880.2 L567.5 2883.2 L567.8 2886.2 L568.1 2889.2 L568.4 2892.2 L568.7 2895.2 L569 2898.2 L569.2 2901.2 L569.5 2904.2 L569.8 2907.2 L570.1 2910.2 L570.4 2913.2 L570.7 2916.2 L571 2919.2 L571.3 2922.2 L571.6 2925.2 L571.9 2928.2 L572.2 2931.2 L572.5 2934.2 L572.8 2937.2 L573.2 2940.2 L573.5 2943.2 L573.8 2946.2 L574.1 2949.2 L574.4 2952.2 L574.7 2955.2 L575 2958.2 L575.4 2961.2 L575.7 2964.1 L576 2967.1 L576.3 2970.1 L576.7 2973.1 L577 2976.1 L577.3 2979.1 L577.7 2982.1 L578 2985.1 L578.3 2988.1 L578.7 2991.1 L579 2994.1 L579.3 2997.1 L579.7 3000.1 L580 3003.1 L580.4 3006.1 L580.7 3009 L581.1 3012 L581.5 3015 L581.8 3018 L582.2 3021 L582.5 3024 L582.9 3027 L583.3 3030 L583.6 3032.9 L584 3035.9 L584.4 3038.9 L584.8 3041.9 L585.1 3044.9 L585.5 3047.8 L585.9 3050.8 L586.3 3053.8 L586.7 3056.8 L587.1 3059.8 L587.5 3062.7 L587.9 3065.7 L588.3 3068.7 L588.7 3071.7 L589.1 3074.6 L589.5 3077.6 L589.9 3080.6 L590.3 3083.5 L590.8 3086.5 L591.2 3089.5 L591.6 3092.4 L592.1 3095.4 L592.5 3098.3 L592.9 3101.3 L593.4 3104.3 L593.8 3107.2 L594.2 3110.2 L594.7 3113.1 L595.2 3116.1 L595.6 3119 L596.1 3122 L596.5 3124.9 L597 3127.9 L597.5 3130.8 L597.9 3133.8 L598.4 3136.7 L598.9 3139.7 L599.4 3142.6 L599.9 3145.5 L600.4 3148.5 L600.9 3151.4 L601.4 3154.3 L601.9 3157.3 L602.4 3160.2 L602.9 3163.1 L603.4 3166.1 L603.9 3169 L604.4 3171.9 L605 3174.8 L605.5 3177.7 L606 3180.7 L606.6 3183.6 L607.1 3186.5 L607.7 3189.4 L608.2 3192.3 L608.8 3195.2 L609.3 3198.1 L609.9 3201 L610.5 3203.9 L611 3206.8 L611.6 3209.7 L612.2 3212.6 L612.8 3215.5 L613.4 3218.4 L614.1 3221.3 L614.7 3224.2 L615.4 3227.1 L616 3230 L616.7 3232.9 L617.4 3235.8 L618.2 3238.7 L618.9 3241.6 L619.7 3244.6 L620.6 3247.5 L621.4 3250.4 L622.3 3253.3 L623.2 3256.3 L624.2 3259.2 L625.2 3262.2 L626.2 3265.1 L627.3 3268.1 L628.4 3271.1 L629.5 3274.1 L630.7 3277.1 L632 3280.1 L633.2 3283 L634.6 3286 L636 3288.9 L637.4 3291.8 L638.9 3294.6 L640.5 3297.4 L642.1 3300.2 L643.8 3302.8 L645.6 3305.4 L647.4 3307.8 L649.2 3310.2 L651.2 3312.5 L653.2 3314.6 L655.3 3316.6 L657.4 3318.5 L659.7 3320.3 L662 3321.9 L664.4 3323.3 L666.8 3324.6 L669.4 3325.7 L672 3326.6 L674.7 3327.3 L677.5 3327.8 L680.4 3328.2 L683.2 3328.4 L686.2 3328.4 L689.1 3328.2 L692 3327.9 L695 3327.4 L697.9 3326.8 L700.8 3326 L703.6 3325 L706.4 3323.9 L709.2 3322.7 L711.9 3321.3 L714.5 3319.8 L717 3318.1 L719.3 3316.4 L721.6 3314.5 L723.8 3312.5 L725.8 3310.3 L727.8 3308.1 L729.7 3305.8 L731.5 3303.4 L733.2 3300.9 L734.8 3298.4 L736.4 3295.8 L737.9 3293.1 L739.3 3290.4 L740.7 3287.7 L742 3284.9 L743.3 3282.1 L744.6 3279.3 L745.8 3276.5 L747 3273.6 L748.2 3270.8 L749.3 3268 L750.4 3265.2 L751.5 3262.3 L752.6 3259.5 L753.6 3256.6 L754.6 3253.8 L755.6 3250.9 L756.6 3248 L757.5 3245.2 L758.4 3242.3 L759.3 3239.4 L760.2 3236.5 L761 3233.6 L761.8 3230.8 L762.6 3227.9 L763.4 3225 L764.2 3222.1 L764.9 3219.2 L765.6 3216.3 L766.3 3213.3 L767 3210.4 L767.6 3207.5 L768.3 3204.6 L768.9 3201.7 L769.5 3198.7 L770.1 3195.8 L770.7 3192.9 L771.2 3189.9 L771.8 3187 L772.3 3184.1 L772.8 3181.1 L773.3 3178.2 L773.8 3175.2 L774.2 3172.3 L774.7 3169.3 L775.1 3166.3 L775.6 3163.4 L776 3160.4 L776.4 3157.5 L776.8 3154.5 L777.2 3151.5 L777.6 3148.6 L778 3145.6 L778.3 3142.6 L778.7 3139.6 L779 3136.7 L779.4 3133.7 L779.7 3130.7 L780 3127.7 L780.3 3124.8 L780.7 3121.8 L781 3118.8 L781.3 3115.8 L781.6 3112.8 L781.9 3109.8 L782.2 3106.8 L782.5 3103.9 L782.8 3100.9 L783 3097.9 L783.3 3094.9 L783.6 3091.9 L783.9 3088.9 L784.2 3085.9 L784.5 3082.9 L784.8 3080 L785.1 3077 L785.3 3074 L785.6 3071 L785.9 3068 L786.2 3065 L786.5 3062 L786.8 3059 L787.1 3056 L787.5 3053.1 L787.8 3050.1 L788.1 3047.1 L788.4 3044.1 L788.7 3041.1 L789 3038.1 L789.3 3035.1 L789.7 3032.2 L790 3029.2 L790.3 3026.2 L790.7 3023.2 L791 3020.2 L791.3 3017.2 L791.7 3014.2 L792 3011.3 L792.3 3008.3 L792.7 3005.3 L793 3002.3 L793.4 2999.3 L793.7 2996.3 L794.1 2993.4 L794.4 2990.4 L794.8 2987.4 L795.1 2984.4 L795.5 2981.4 L795.9 2978.4 L796.2 2975.5 L796.6 2972.5 L796.9 2969.5 L797.3 2966.5 L797.7 2963.5 L798 2960.6 L798.4 2957.6 L798.8 2954.6 L799.1 2951.6 L799.5 2948.6 L799.9 2945.7 L800.3 2942.7 L800.6 2939.7 L801 2936.7 L801.4 2933.7 L801.8 2930.8 L802.2 2927.8 L802.5 2924.8 L802.9 2921.8 L803.3 2918.8 L803.7 2915.9 L804.1 2912.9 L804.5 2909.9 L804.9 2906.9 L805.2 2904 L805.6 2901 L806 2898 L806.4 2895 L806.8 2892 L807.2 2889.1 L807.6 2886.1 L808 2883.1 L808.4 2880.1 L808.8 2877.2 L809.2 2874.2 L809.6 2871.2 L810 2868.2 L810.4 2865.3 L810.8 2862.3 L811.1 2859.3 L811.5 2856.3 L811.9 2853.4 L812.3 2850.4 L812.7 2847.4 L813.1 2844.4 L813.5 2841.4 L813.9 2838.5 L814.3 2835.5 L814.7 2832.5 L815.1 2829.5 L815.5 2826.6 L815.9 2823.6 L816.3 2820.6 L816.7 2817.6 L817.1 2814.7 L817.5 2811.7 L817.9 2808.7 L818.3 2805.8 L818.7 2802.8 L819.1 2799.8 L819.5 2796.8 L819.9 2793.9 L820.3 2790.9 L820.7 2787.9 L821.1 2784.9 L821.5 2782 L821.9 2779 L822.2 2776 L822.6 2773 L823 2770.1 L823.4 2767.1 L823.8 2764.1 L824.2 2761.1 L824.6 2758.2 L825 2755.2 L825.4 2752.2 L825.7 2749.2 L826.1 2746.3 L826.5 2743.3 L826.9 2740.3 L827.3 2737.3 L827.7 2734.4 L828 2731.4 L828.4 2728.4 L828.8 2725.5 L829.2 2722.5 L829.5 2719.5 L829.9 2716.5 L830.3 2713.6 L830.7 2710.6 L831 2707.6 L831.4 2704.6 L831.8 2701.7 L832.2 2698.7 L832.5 2695.7 L832.9 2692.7 L833.3 2689.8 L833.7 2686.8 L834.1 2683.8 L834.4 2680.8 L834.8 2677.9 L835.2 2674.9 L835.6 2671.9 L836 2669 L836.4 2666 L836.8 2663 L837.2 2660 L837.6 2657.1 L838 2654.1 L838.4 2651.1 L838.8 2648.1 L839.2 2645.2 L839.6 2642.2 L840.1 2639.2 L840.5 2636.2 L840.9 2633.3 L841.4 2630.3 L841.8 2627.3 L842.2 2624.3 L842.7 2621.4 L843.1 2618.4 L843.6 2615.4 L844.1 2612.4 L844.5 2609.5 L845 2606.5 L845.5 2603.5 L846 2600.5 L846.5 2597.5 L847 2594.6 L847.5 2591.6 L848 2588.6 L848.6 2585.6 L849.2 2582.6 L849.8 2579.6 L850.4 2576.6 L851.1 2573.6 L851.9 2570.6 L852.7 2567.5 L853.7 2564.4 L854.6 2561.3 L855.7 2558.2 L856.9 2555 L858.2 2551.8 L859.6 2548.9 L861.2 2546.4 L862.8 2544.7 L864.6 2543.9 L866.5 2544 L868.4 2544.8 L870.3 2545.9 L872 2547.1 L873.7 2548.5 L875.3 2550.1 L876.8 2551.8 L878.2 2553.6 L879.6 2555.7 L880.9 2557.8 L882.1 2560.1 L883.3 2562.5 L884.4 2565 L885.5 2567.6 L886.5 2570.3 L887.4 2573.1 L888.3 2575.9 L889.1 2578.9 L889.9 2581.9 L890.7 2585 L891.4 2588.1 L892.1 2591.3 L892.8 2594.5 L893.4 2597.7 L894 2601 L894.6 2604.3 L895.2 2607.6 L895.7 2610.9 L896.3 2614.1 L896.8 2617.4 L897.3 2620.7 L897.8 2623.9 L898.3 2627.1 L898.8 2630.2 L899.3 2633.4 L899.8 2636.4 L900.3 2639.5 L900.8 2642.5 L901.3 2645.6 L901.8 2648.5 L902.3 2651.5 L902.8 2654.4 L903.3 2657.4 L903.8 2660.3 L904.2 2663.2 L904.7 2666.1 L905.2 2668.9 L905.7 2671.8 L906.2 2674.6 L906.6 2677.5 L907.1 2680.3 L907.6 2683.2 L908.1 2686 L908.5 2688.9 L909 2691.7 L909.5 2694.6 L910 2697.4 L910.4 2700.3 L910.9 2703.2 L911.4 2706 L911.8 2708.9 L912.3 2711.8 L912.8 2714.7 L913.2 2717.6 L913.7 2720.5 L914.2 2723.5 L914.6 2726.4 L915.1 2729.3 L915.5 2732.2 L916 2735.2 L916.5 2738.1 L916.9 2741.1 L917.4 2744 L917.8 2747 L918.3 2750 L918.8 2752.9 L919.2 2755.9 L919.7 2758.9 L920.1 2761.9 L920.6 2764.8 L921.1 2767.8 L921.5 2770.8 L922 2773.8 L922.4 2776.8 L922.9 2779.8 L923.3 2782.8 L923.8 2785.8 L924.2 2788.8 L924.7 2791.8 L925.2 2794.8 L925.6 2797.8 L926.1 2800.8 L926.5 2803.8 L927 2806.8 L927.4 2809.8 L927.9 2812.8 L928.3 2815.9 L928.8 2818.9 L929.2 2821.9 L929.7 2824.9 L930.2 2827.9 L930.6 2830.9 L931.1 2833.9 L931.5 2836.9 L932 2839.9 L932.4 2842.9 L932.9 2845.9 L933.3 2848.9 L933.8 2851.9 L934.2 2854.9 L934.7 2857.9 L935.2 2860.9 L935.6 2863.9 L936.1 2866.9 L936.5 2869.8 L937 2872.8 L937.4 2875.8 L937.9 2878.8 L938.4 2881.7 L938.8 2884.7 L939.3 2887.7 L939.7 2890.6 L940.2 2893.6 L940.7 2896.5 L941.1 2899.5 L941.6 2902.4 L942.1 2905.4 L942.5 2908.3 L943 2911.3 L943.5 2914.2 L943.9 2917.2 L944.4 2920.1 L944.9 2923.1 L945.3 2926 L945.8 2928.9 L946.3 2931.9 L946.8 2934.8 L947.3 2937.7 L947.7 2940.7 L948.2 2943.6 L948.7 2946.5 L949.2 2949.5 L949.7 2952.4 L950.1 2955.3 L950.6 2958.2 L951.1 2961.2 L951.6 2964.1 L952.1 2967 L952.6 2970 L953.1 2972.9 L953.6 2975.8 L954.1 2978.8 L954.6 2981.7 L955.1 2984.6 L955.6 2987.6 L956.1 2990.5 L956.6 2993.4 L957.2 2996.4 L957.7 2999.3 L958.2 3002.2 L958.7 3005.2 L959.2 3008.1 L959.8 3011.1 L960.3 3014 L960.8 3017 L961.4 3019.9 L961.9 3022.9 L962.4 3025.8 L963 3028.8 L963.5 3031.7 L964.1 3034.7 L964.6 3037.6 L965.2 3040.6 L965.7 3043.6 L966.3 3046.6 L966.9 3049.5 L967.4 3052.5 L968 3055.5 L968.6 3058.5 L969.1 3061.5 L969.7 3064.5 L970.3 3067.4 L970.9 3070.4 L971.5 3073.4 L972.1 3076.4 L972.7 3079.4 L973.4 3082.4 L974 3085.4 L974.7 3088.4 L975.3 3091.3 L976 3094.3 L976.7 3097.3 L977.5 3100.2 L978.2 3103.2 L979 3106.1 L979.8 3109 L980.6 3111.9 L981.4 3114.8 L982.3 3117.7 L983.2 3120.6 L984.1 3123.5 L985 3126.3 L986 3129.1 L987 3132 L988.1 3134.8 L989.1 3137.5 L990.3 3140.3 L991.4 3143 L992.6 3145.7 L993.8 3148.4 L995.1 3151.1 L996.4 3153.7 L997.7 3156.4 L999.1 3159 L1000.5 3161.5 L1002 3164.1 L1003.5 3166.6 L1005 3169.1 L1006.6 3171.6 L1008.2 3174.1 L1009.8 3176.6 L1011.5 3179 L1013.2 3181.4 L1014.9 3183.8 L1016.7 3186.2 L1018.4 3188.6 L1020.2 3191 L1022 3193.4 L1023.9 3195.7 L1025.7 3198.1 L1027.6 3200.4 L1029.5 3202.7 L1031.4 3205.1 L1033.3 3207.4 L1035.2 3209.7 L1037.1 3212 L1039.1 3214.3 L1041 3216.6 L1043 3218.9 L1044.9 3221.2 L1046.9 3223.5 L1048.8 3225.9 L1050.8 3228.2 L1052.8 3230.5 L1054.7 3232.8 L1056.7 3235.1 L1058.7 3237.5 L1060.6 3239.8 L1062.5 3242.2 L1064.5 3244.6 L1066.4 3246.9 L1068.3 3249.3 L1070.2 3251.7 L1072.1 3254.1 L1073.9 3256.6 L1075.8 3259 L1077.6 3261.5 L1079.4 3264 L1081.2 3266.4 L1083 3269 L1084.7 3271.5 L1086.5 3274 L1088.2 3276.5 L1090 3279 L1091.7 3281.5 L1093.5 3284 L1095.2 3286.5 L1097 3288.9 L1098.8 3291.3 L1100.6 3293.7 L1102.5 3296.1 L1104.4 3298.4 L1106.3 3300.6 L1108.2 3302.9 L1110.2 3305 L1112.2 3307.1 L1114.3 3309.2 L1116.4 3311.2 L1118.6 3313.1 L1120.8 3314.9 L1123.1 3316.7 L1125.5 3318.4 L1127.9 3320 L1130.4 3321.5 L1133 3322.9 L1135.6 3324.2 L1138.4 3325.4 L1141.2 3326.5 L1144 3327.6 L1146.9 3328.5 L1149.9 3329.4 L1152.9 3330.2 L1155.9 3331 L1159 3331.7 L1162 3332.4 L1165.1 3333 L1168.2 3333.5 L1171.2 3334.1 L1174.3 3334.6 L1177.3 3335 L1180.4 3335.5 L1183.4 3335.9 L1186.4 3336.2 L1189.5 3336.6 L1192.5 3336.9 L1195.5 3337.1 L1198.5 3337.4 L1201.5 3337.6 L1204.5 3337.7 L1207.5 3337.9 L1210.4 3338 L1213.4 3338.1 L1216.4 3338.1 L1219.4 3338.1 L1222.3 3338.1 L1225.3 3338.1 L1228.3 3338 L1231.2 3337.9 L1234.2 3337.8 L1237.2 3337.7 L1240.1 3337.5 L1243.1 3337.3 L1246 3337 L1249 3336.8 L1251.9 3336.5 L1254.9 3336.2 L1257.8 3335.8 L1260.8 3335.5 L1263.7 3335.1 L1266.7 3334.6 L1269.6 3334.2 L1272.6 3333.7 L1275.6 3333.2 L1278.5 3332.7 L1281.5 3332.2 L1284.4 3331.6 L1287.4 3331 L1290.4 3330.4 L1293.3 3329.7 L1296.3 3329.1 L1299.3 3328.4 L1302.3 3327.7 L1305.3 3327 L1308.2 3326.2 L1311.2 3325.5 L1314.2 3324.8 L1317.2 3324.1 L1320.2 3323.4 L1323.2 3322.7 L1326.2 3322.1 L1329.2 3321.5 L1332.1 3320.9 L1335.1 3320.4 L1338.1 3319.9 L1341.1 3319.5 L1344 3319.2 L1347 3318.9 L1349.9 3318.7 L1352.9 3318.6 L1355.8 3318.5 L1358.8 3318.5 L1361.7 3318.6 L1364.6 3318.7 L1367.6 3318.9 L1370.5 3319.1 L1373.4 3319.3 L1376.4 3319.6 L1379.3 3320 L1382.2 3320.4 L1385.1 3320.8 L1388.1 3321.2 L1391 3321.7 L1393.9 3322.2 L1396.9 3322.7 L1399.8 3323.2 L1402.8 3323.7 L1405.7 3324.3 L1408.7 3324.8 L1411.6 3325.4 L1414.6 3325.9 L1417.6 3326.5 L1420.5 3327 L1423.5 3327.5 L1426.5 3328.1 L1429.5 3328.5 L1432.5 3329 L1435.6 3329.5 L1438.6 3329.9 L1441.6 3330.3 L1444.6 3330.7 L1447.7 3331.1 L1450.7 3331.5 L1453.8 3331.8 L1456.8 3332.1 L1459.9 3332.4 L1462.9 3332.6 L1465.9 3332.9 L1469 3333.1 L1472 3333.2 L1475.1 3333.4 L1478.1 3333.5 L1481.1 3333.5 L1484.2 3333.6 L1487.2 3333.6 L1490.2 3333.6 L1493.2 3333.5 L1496.2 3333.4 L1499.2 3333.3 L1502.2 3333.1 L1505.2 3332.9 L1508.1 3332.6 L1511.1 3332.3 L1514 3332 L1517 3331.6 L1519.9 3331.1 L1522.8 3330.7 L1525.7 3330.1 L1528.6 3329.6 L1531.4 3328.9 L1534.3 3328.3 L1537.1 3327.5 L1539.9 3326.8 L1542.7 3325.9 L1545.5 3325.1 L1548.2 3324.1 L1551 3323.1 L1553.7 3322.1 L1556.4 3321 L1559 3319.8 L1561.7 3318.6 L1564.3 3317.3 L1566.9 3316 L1569.5 3314.6 L1572 3313.1 L1574.5 3311.6 L1577 3310 L1579.5 3308.3 L1581.9 3306.6 L1584.3 3304.8 L1586.7 3302.9 L1589.1 3301 L1591.4 3299.1 L1593.7 3297.1 L1596 3295 L1598.2 3292.9 L1600.4 3290.8 L1602.6 3288.6 L1604.8 3286.4 L1607 3284.1 L1609.1 3281.8 L1611.2 3279.5 L1613.2 3277.2 L1615.3 3274.8 L1617.3 3272.4 L1619.3 3270 L1621.3 3267.6 L1623.2 3265.2 L1625.1 3262.7 L1627.1 3260.3 L1628.9 3257.8 L1630.8 3255.3 L1632.6 3252.9 L1634.4 3250.4 L1636.2 3248 L1638 3245.5 L1639.7 3243.1 L1641.5 3240.6 L1643.2 3238.2 L1644.9 3235.7 L1646.6 3233.3 L1648.2 3230.9 L1649.9 3228.4 L1651.6 3226 L1653.2 3223.6 L1654.8 3221.2 L1656.5 3218.7 L1658.1 3216.3 L1659.7 3213.9 L1661.3 3211.5 L1663 3209.1 L1664.6 3206.7 L1666.2 3204.3 L1667.8 3201.9 L1669.4 3199.5 L1671.1 3197.1 L1672.7 3194.7 L1674.4 3192.3 L1676 3189.9 L1677.7 3187.5 L1679.4 3185.1 L1681.1 3182.7 L1682.8 3180.3 L1684.5 3177.9 L1686.3 3175.5 L1688 3173.1 L1689.8 3170.7 L1691.6 3168.3 L1693.4 3165.9 L1695.3 3163.5 L1697.2 3161.1 L1699.1 3158.7 L1701 3156.3 L1703 3153.8 L1705 3151.4 L1707 3149 L1709.1 3146.6 L1711.1 3144.2 L1713.3 3141.9 L1715.4 3139.5 L1717.6 3137.2 L1719.8 3135 L1722.1 3132.7 L1724.3 3130.6 L1726.7 3128.5 L1729 3126.5 L1731.4 3124.6 L1733.8 3122.7 L1736.2 3121 L1738.7 3119.4 L1741.2 3117.8 L1743.7 3116.4 L1746.3 3115.2 L1748.9 3114 L1751.5 3113 L1754.1 3112.2 L1756.8 3111.5 L1759.6 3111 L1762.3 3110.6 L1765.1 3110.5 L1767.9 3110.5 L1770.7 3110.7 L1773.6 3111.1 L1776.5 3111.7 L1779.4 3112.5 L1782.3 3113.4 L1785.2 3114.4 L1788.1 3115.6 L1791 3116.9 L1793.8 3118.3 L1796.6 3119.8 L1799.4 3121.3 L1802.2 3123 L1804.9 3124.7 L1807.6 3126.4 L1810.2 3128.2 L1812.7 3130 L1815.2 3131.9 L1817.7 3133.8 L1820.1 3135.7 L1822.5 3137.7 L1824.8 3139.7 L1827.1 3141.7 L1829.3 3143.8 L1831.5 3145.9 L1833.6 3148.1 L1835.8 3150.2 L1837.8 3152.4 L1839.9 3154.6 L1841.9 3156.9 L1843.8 3159.2 L1845.8 3161.5 L1847.7 3163.8 L1849.6 3166.1 L1851.4 3168.5 L1853.2 3170.9 L1855 3173.3 L1856.8 3175.7 L1858.5 3178.1 L1860.3 3180.6 L1862 3183 L1863.6 3185.5 L1865.3 3188 L1866.9 3190.5 L1868.6 3193 L1870.2 3195.5 L1871.8 3198 L1873.4 3200.5 L1874.9 3203.1 L1876.5 3205.6 L1878.1 3208.1 L1879.6 3210.7 L1881.2 3213.2 L1882.7 3215.7 L1884.2 3218.3 L1885.8 3220.8 L1887.3 3223.3 L1888.9 3225.9 L1890.4 3228.4 L1892 3230.9 L1893.5 3233.4 L1895.1 3235.9 L1896.7 3238.4 L1898.3 3240.9 L1899.9 3243.4 L1901.5 3245.8 L1903.2 3248.3 L1904.8 3250.7 L1906.5 3253.1 L1908.2 3255.6 L1910 3258 L1911.8 3260.4 L1913.5 3262.7 L1915.4 3265.1 L1917.2 3267.4 L1919.1 3269.8 L1921.1 3272.1 L1923 3274.3 L1925 3276.6 L1927.1 3278.8 L1929.2 3281.1 L1931.3 3283.3 L1933.5 3285.4 L1935.7 3287.6 L1938 3289.7 L1940.3 3291.8 L1942.7 3293.9 L1945.1 3295.9 L1947.6 3297.9 L1950.2 3299.9 L1952.8 3301.9 L1955.5 3303.8 L1958.2 3305.7 L1960.9 3307.5 L1963.7 3309.2 L1966.5 3310.8 L1969.4 3312.3 L1972.2 3313.7 L1975 3315 L1977.9 3316.2 L1980.7 3317.1 L1983.5 3318 L1986.2 3318.6 L1989 3319 L1991.7 3319.3 L1994.3 3319.3 L1996.9 3319 L1999.4 3318.6 L2001.8 3317.9 L2004.1 3316.9 L2006.4 3315.6 L2008.6 3314 L2010.6 3312.2 L2012.6 3310.2 L2014.5 3307.9 L2016.4 3305.5 L2018.1 3302.9 L2019.8 3300.1 L2021.4 3297.3 L2022.9 3294.4 L2024.4 3291.5 L2025.8 3288.5 L2027.2 3285.6 L2028.5 3282.6 L2029.7 3279.7 L2030.9 3276.8 L2032.1 3273.9 L2033.2 3271 L2034.3 3268.2 L2035.3 3265.3 L2036.3 3262.4 L2037.3 3259.6 L2038.2 3256.7 L2039.1 3253.9 L2040 3251.1 L2040.9 3248.2 L2041.7 3245.4 L2042.5 3242.5 L2043.2 3239.7 L2044 3236.8 L2044.7 3234 L2045.5 3231.1 L2046.2 3228.2 L2046.9 3225.4 L2047.6 3222.5 L2048.2 3219.6 L2048.9 3216.7 L2049.5 3213.8 L2050.1 3210.9 L2050.8 3208 L2051.4 3205.1 L2052 3202.2 L2052.5 3199.3 L2053.1 3196.3 L2053.6 3193.4 L2054.2 3190.5 L2054.7 3187.5 L2055.2 3184.6 L2055.7 3181.6 L2056.2 3178.7 L2056.7 3175.7 L2057.2 3172.8 L2057.6 3169.8 L2058.1 3166.8 L2058.5 3163.9 L2058.9 3160.9 L2059.4 3157.9 L2059.8 3154.9 L2060.2 3151.9 L2060.5 3149 L2060.9 3146 L2061.3 3143 L2061.6 3140 L2062 3137 L2062.3 3134 L2062.7 3131 L2063 3128 L2063.3 3125 L2063.6 3122 L2063.9 3119 L2064.2 3116 L2064.5 3113 L2064.7 3110 L2065 3107 L2065.3 3104 L2065.5 3101 L2065.7 3098 L2066 3095 L2066.2 3092 L2066.4 3089 L2066.6 3086 L2066.9 3083 L2067.1 3080 L2067.3 3077 L2067.5 3074 L2067.6 3071 L2067.8 3068 L2068 3065 L2068.2 3062 L2068.4 3059 L2068.5 3056 L2068.7 3053 L2068.9 3050 L2069 3047 L2069.2 3044 L2069.4 3041 L2069.5 3038 L2069.7 3035 L2069.8 3032 L2070 3029 L2070.2 3026.1 L2070.3 3023.1 L2070.5 3020.1 L2070.7 3017.1 L2070.8 3014.1 L2071 3011.1 L2071.2 3008.1 L2071.4 3005.1 L2071.5 3002.1 L2071.7 2999.1 L2071.9 2996.1 L2072.1 2993.2 L2072.3 2990.2 L2072.5 2987.2 L2072.7 2984.2 L2072.9 2981.2 L2073.2 2978.2 L2073.4 2975.2 L2073.6 2972.2 L2073.9 2969.2 L2074.1 2966.3 L2074.4 2963.3 L2074.6 2960.3 L2074.9 2957.3 L2075.2 2954.3 L2075.5 2951.3 L2075.8 2948.3 L2076.1 2945.3 L2076.4 2942.4 L2076.8 2939.4 L2077.1 2936.4 L2077.5 2933.4 L2077.9 2930.4 L2078.2 2927.4 L2078.6 2924.4 L2079.1 2921.4 L2079.5 2918.5 L2079.9 2915.5 L2080.4 2912.5 L2080.8 2909.5" fill="none" stroke="#FF0000" stroke-width="2.7" stroke-linejoin="round" stroke-linecap="round" clip-path="url(#cb)"/>
<line x1="393" y1="2675.4" x2="548.1" y2="2675.4" stroke="#4F81BD" stroke-width="3.5" stroke-linecap="butt"/>
<line x1="393" y1="2675.4" x2="424" y2="2659.4" stroke="#4F81BD" stroke-width="2.8" stroke-linecap="round"/>
<line x1="393" y1="2675.4" x2="424" y2="2691.4" stroke="#4F81BD" stroke-width="2.8" stroke-linecap="round"/>
<line x1="548.1" y1="2675.4" x2="517.1" y2="2659.4" stroke="#4F81BD" stroke-width="2.8" stroke-linecap="round"/>
<line x1="548.1" y1="2675.4" x2="517.1" y2="2691.4" stroke="#4F81BD" stroke-width="2.8" stroke-linecap="round"/>
<line x1="802.7" y1="2939" x2="948.7" y2="2939" stroke="#4F81BD" stroke-width="3.5" stroke-linecap="butt"/>
<line x1="802.7" y1="2939" x2="834.2" y2="2922" stroke="#4F81BD" stroke-width="2.8" stroke-linecap="round"/>
<line x1="802.7" y1="2939" x2="834.2" y2="2956" stroke="#4F81BD" stroke-width="2.8" stroke-linecap="round"/>
<line x1="948.7" y1="2939" x2="917.2" y2="2922" stroke="#4F81BD" stroke-width="2.8" stroke-linecap="round"/>
<line x1="948.7" y1="2939" x2="917.2" y2="2956" stroke="#4F81BD" stroke-width="2.8" stroke-linecap="round"/>
<line x1="910.4" y1="3299" x2="1101.3" y2="3299" stroke="#4F81BD" stroke-width="3.5" stroke-linecap="butt"/>
<line x1="910.4" y1="3299" x2="941.9" y2="3282" stroke="#4F81BD" stroke-width="2.8" stroke-linecap="round"/>
<line x1="910.4" y1="3299" x2="941.9" y2="3316" stroke="#4F81BD" stroke-width="2.8" stroke-linecap="round"/>
<line x1="1101.3" y1="3299" x2="1069.8" y2="3282" stroke="#4F81BD" stroke-width="2.8" stroke-linecap="round"/>
<line x1="1101.3" y1="3299" x2="1069.8" y2="3316" stroke="#4F81BD" stroke-width="2.8" stroke-linecap="round"/>
<text x="403.5" y="2740.8" font-family="'Liberation Sans', Arial, sans-serif" font-size="49.5" font-weight="normal" text-anchor="start" fill="#111">21 nm</text>
<text x="801" y="2996.9" font-family="'Liberation Sans', Arial, sans-serif" font-size="49.5" font-weight="normal" text-anchor="start" fill="#111">20 nm</text>
<text x="934.5" y="3294.9" font-family="'Liberation Sans', Arial, sans-serif" font-size="49.5" font-weight="normal" text-anchor="start" fill="#111">20 nm</text>
<line x1="262.8" y1="1869.3" x2="262.8" y2="3337.9" stroke="#000" stroke-width="5.9" stroke-linecap="butt"/>
<line x1="235" y1="3335" x2="2081.9" y2="3335" stroke="#000" stroke-width="5.9" stroke-linecap="butt"/>
<line x1="235" y1="1872.3" x2="2081.9" y2="1872.3" stroke="#000" stroke-width="5.9" stroke-linecap="butt"/>
<line x1="2079" y1="1869.3" x2="2079" y2="3362" stroke="#000" stroke-width="5.9" stroke-linecap="butt"/>
<line x1="235" y1="3335" x2="262.8" y2="3335" stroke="#000" stroke-width="5.9" stroke-linecap="butt"/>
<line x1="235" y1="3091.2" x2="262.8" y2="3091.2" stroke="#000" stroke-width="5.9" stroke-linecap="butt"/>
<line x1="235" y1="2847.4" x2="262.8" y2="2847.4" stroke="#000" stroke-width="5.9" stroke-linecap="butt"/>
<line x1="235" y1="2603.7" x2="262.8" y2="2603.7" stroke="#000" stroke-width="5.9" stroke-linecap="butt"/>
<line x1="235" y1="2359.9" x2="262.8" y2="2359.9" stroke="#000" stroke-width="5.9" stroke-linecap="butt"/>
<line x1="235" y1="2116.1" x2="262.8" y2="2116.1" stroke="#000" stroke-width="5.9" stroke-linecap="butt"/>
<line x1="235" y1="1872.3" x2="262.8" y2="1872.3" stroke="#000" stroke-width="5.9" stroke-linecap="butt"/>
<line x1="249" y1="3213.1" x2="262.8" y2="3213.1" stroke="#000" stroke-width="5.9" stroke-linecap="butt"/>
<line x1="249" y1="2969.3" x2="262.8" y2="2969.3" stroke="#000" stroke-width="5.9" stroke-linecap="butt"/>
<line x1="249" y1="2725.6" x2="262.8" y2="2725.6" stroke="#000" stroke-width="5.9" stroke-linecap="butt"/>
<line x1="249" y1="2481.8" x2="262.8" y2="2481.8" stroke="#000" stroke-width="5.9" stroke-linecap="butt"/>
<line x1="249" y1="2238" x2="262.8" y2="2238" stroke="#000" stroke-width="5.9" stroke-linecap="butt"/>
<line x1="249" y1="1994.2" x2="262.8" y2="1994.2" stroke="#000" stroke-width="5.9" stroke-linecap="butt"/>
<line x1="336" y1="3335" x2="336" y2="3362" stroke="#000" stroke-width="5.9" stroke-linecap="butt"/>
<line x1="626.4" y1="3335" x2="626.4" y2="3362" stroke="#000" stroke-width="5.9" stroke-linecap="butt"/>
<line x1="916.8" y1="3335" x2="916.8" y2="3362" stroke="#000" stroke-width="5.9" stroke-linecap="butt"/>
<line x1="1207.2" y1="3335" x2="1207.2" y2="3362" stroke="#000" stroke-width="5.9" stroke-linecap="butt"/>
<line x1="1497.6" y1="3335" x2="1497.6" y2="3362" stroke="#000" stroke-width="5.9" stroke-linecap="butt"/>
<line x1="1788" y1="3335" x2="1788" y2="3362" stroke="#000" stroke-width="5.9" stroke-linecap="butt"/>
<line x1="2078.4" y1="3335" x2="2078.4" y2="3362" stroke="#000" stroke-width="5.9" stroke-linecap="butt"/>
<line x1="481.2" y1="3335" x2="481.2" y2="3348" stroke="#000" stroke-width="5.9" stroke-linecap="butt"/>
<line x1="771.6" y1="3335" x2="771.6" y2="3348" stroke="#000" stroke-width="5.9" stroke-linecap="butt"/>
<line x1="1062" y1="3335" x2="1062" y2="3348" stroke="#000" stroke-width="5.9" stroke-linecap="butt"/>
<line x1="1352.4" y1="3335" x2="1352.4" y2="3348" stroke="#000" stroke-width="5.9" stroke-linecap="butt"/>
<line x1="1642.8" y1="3335" x2="1642.8" y2="3348" stroke="#000" stroke-width="5.9" stroke-linecap="butt"/>
<line x1="1933.2" y1="3335" x2="1933.2" y2="3348" stroke="#000" stroke-width="5.9" stroke-linecap="butt"/>
<text x="216" y="3354" font-family="'Liberation Sans', Arial, sans-serif" font-size="63.3" font-weight="normal" text-anchor="end" fill="#000" stroke="#000" stroke-width="1">0</text>
<text x="216" y="3110.2" font-family="'Liberation Sans', Arial, sans-serif" font-size="63.3" font-weight="normal" text-anchor="end" fill="#000" stroke="#000" stroke-width="1">200</text>
<text x="216" y="2866.4" font-family="'Liberation Sans', Arial, sans-serif" font-size="63.3" font-weight="normal" text-anchor="end" fill="#000" stroke="#000" stroke-width="1">400</text>
<text x="216" y="2622.7" font-family="'Liberation Sans', Arial, sans-serif" font-size="63.3" font-weight="normal" text-anchor="end" fill="#000" stroke="#000" stroke-width="1">600</text>
<text x="216" y="2378.9" font-family="'Liberation Sans', Arial, sans-serif" font-size="63.3" font-weight="normal" text-anchor="end" fill="#000" stroke="#000" stroke-width="1">800</text>
<text x="216" y="2135.1" font-family="'Liberation Sans', Arial, sans-serif" font-size="63.3" font-weight="normal" text-anchor="end" fill="#000" stroke="#000" stroke-width="1">1000</text>
<text x="216" y="1891.3" font-family="'Liberation Sans', Arial, sans-serif" font-size="63.3" font-weight="normal" text-anchor="end" fill="#000" stroke="#000" stroke-width="1">1200</text>
<text x="336" y="3430" font-family="'Liberation Sans', Arial, sans-serif" font-size="63.3" font-weight="normal" text-anchor="middle" fill="#000" stroke="#000" stroke-width="1">440</text>
<text x="626.4" y="3430" font-family="'Liberation Sans', Arial, sans-serif" font-size="63.3" font-weight="normal" text-anchor="middle" fill="#000" stroke="#000" stroke-width="1">480</text>
<text x="916.8" y="3430" font-family="'Liberation Sans', Arial, sans-serif" font-size="63.3" font-weight="normal" text-anchor="middle" fill="#000" stroke="#000" stroke-width="1">520</text>
<text x="1207.2" y="3430" font-family="'Liberation Sans', Arial, sans-serif" font-size="63.3" font-weight="normal" text-anchor="middle" fill="#000" stroke="#000" stroke-width="1">560</text>
<text x="1497.6" y="3430" font-family="'Liberation Sans', Arial, sans-serif" font-size="63.3" font-weight="normal" text-anchor="middle" fill="#000" stroke="#000" stroke-width="1">600</text>
<text x="1788" y="3430" font-family="'Liberation Sans', Arial, sans-serif" font-size="63.3" font-weight="normal" text-anchor="middle" fill="#000" stroke="#000" stroke-width="1">640</text>
<text x="2078.4" y="3430" font-family="'Liberation Sans', Arial, sans-serif" font-size="63.3" font-weight="normal" text-anchor="middle" fill="#000" stroke="#000" stroke-width="1">680</text>
<text x="884.5" y="3513" font-family="'Liberation Sans', Arial, sans-serif" font-size="76.2" font-weight="normal" text-anchor="start" fill="#000" stroke="#000" stroke-width="1.1">Wavelength (nm)</text>
<text x="86" y="2842.7" font-family="'Liberation Sans', Arial, sans-serif" font-size="76" font-weight="normal" text-anchor="start" fill="#000" transform="rotate(-90 86 2842.7)" stroke="#000" stroke-width="1.1">Intensity (a.u.)</text>
<text x="1077.5" y="3656.2" font-family="'Liberation Serif', 'Times New Roman', serif" font-size="88.7" font-weight="normal" text-anchor="middle" fill="#000">(<tspan font-weight="bold">b</tspan>)</text>
<rect x="1020" y="1888" width="1037" height="829" stroke="#000" stroke-width="2.8" fill="#fff"/>
<clipPath id="cib"><rect x="1147" y="1909.5" width="879.1" height="707"/></clipPath>
<path d="M1248.1 2615.9 L1251.5 2615.8 L1254.9 2615.7 L1258.3 2615.6 L1261.7 2615.4 L1265 2615.3 L1268.4 2615.1 L1271.8 2614.8 L1275.2 2614.5 L1278.6 2614.2 L1282 2613.8 L1285.3 2613.3 L1288.7 2612.8 L1292.1 2612.3 L1295.5 2611.6 L1298.9 2610.9 L1302.2 2610.1 L1305.6 2609.3 L1309 2608.4 L1312.4 2607.5 L1315.8 2606.5 L1319.2 2605.5 L1322.5 2604.4 L1325.9 2603.3 L1329.3 2602.3 L1332.7 2601.2 L1336.1 2600.2 L1339.5 2599.2 L1342.8 2598.3 L1346.2 2597.5 L1349.6 2596.8 L1353 2596.2 L1356.4 2595.7 L1359.7 2595.3 L1363.1 2595.1 L1366.5 2595 L1369.9 2595.1 L1373.3 2595.3 L1376.7 2595.7 L1380 2596.2 L1383.4 2596.8 L1386.8 2597.5 L1390.2 2598.3 L1393.6 2599.2 L1397 2600.2 L1400.3 2601.2 L1403.7 2602.3 L1407.1 2603.3 L1410.5 2604.4 L1413.9 2605.5 L1417.2 2606.5 L1420.6 2607.5 L1424 2608.4 L1427.4 2609.3 L1430.8 2610.1 L1434.2 2610.9 L1437.5 2611.6 L1440.9 2612.3 L1444.3 2612.8 L1447.7 2613.3 L1451.1 2613.8 L1454.5 2614.2 L1457.8 2614.5 L1461.2 2614.8 L1464.6 2615.1 L1468 2615.3 L1471.4 2615.4 L1474.8 2615.6 L1478.1 2615.7 L1481.5 2615.8 L1484.9 2615.9" fill="none" stroke="#2EE6E6" stroke-width="2" stroke-linejoin="round" stroke-linecap="round" clip-path="url(#cib)"/>
<path d="M1880.3 2552.7 L1882.6 2554.7 L1884.9 2556.6 L1887.1 2558.6 L1889.5 2560.6 L1891.8 2562.5 L1894.1 2564.5 L1896.4 2566.5 L1898.8 2568.5 L1901.2 2570.5 L1903.5 2572.4 L1905.9 2574.4 L1908.3 2576.3 L1910.7 2578.3 L1913.2 2580.2 L1915.6 2582.1 L1918.1 2584 L1920.6 2585.8 L1923.1 2587.7 L1925.6 2589.5 L1928.1 2591.2 L1930.6 2593 L1933.2 2594.7 L1935.8 2596.4 L1938.4 2598 L1941 2599.6 L1943.6 2601.2 L1946.3 2602.7 L1948.9 2604.1 L1951.6 2605.5 L1954.3 2606.9 L1957.1 2608.2 L1959.8 2609.4 L1962.6 2610.6 L1965.4 2611.7 L1968.2 2612.8 L1971 2613.8 L1973.9 2614.7 L1976.8 2615.6 L1979.7 2616.3 L1982.6 2617 L1985.6 2617.7 L1988.5 2618.2 L1991.5 2618.7 L1994.6 2619.1 L1997.6 2619.3 L2000.7 2619.5 L2003.8 2619.7 L2006.9 2619.7 L2010.1 2619.6 L2013.2 2619.4 L2016.5 2619.1 L2019.7 2618.7 L2022.9 2618.3 L2026.2 2617.7" fill="none" stroke="#FF3BFF" stroke-width="2" stroke-linejoin="round" stroke-linecap="round" clip-path="url(#cib)"/>
<path d="M1951.8 2618.9 L1953.1 2616.1 L1954.3 2613.3 L1955.5 2610.6 L1956.7 2607.8 L1957.9 2605 L1959.1 2602.2 L1960.2 2599.4 L1961.3 2596.6 L1962.5 2593.8 L1963.5 2591 L1964.6 2588.2 L1965.6 2585.3 L1966.7 2582.5 L1967.7 2579.7 L1968.7 2576.8 L1969.6 2574 L1970.6 2571.1 L1971.5 2568.3 L1972.4 2565.4 L1973.3 2562.6 L1974.2 2559.7 L1975.1 2556.8 L1975.9 2553.9 L1976.8 2551 L1977.6 2548.2 L1978.4 2545.3 L1979.2 2542.4 L1980 2539.5 L1980.7 2536.5 L1981.4 2533.6 L1982.2 2530.7 L1982.9 2527.8 L1983.6 2524.9 L1984.3 2521.9 L1984.9 2519 L1985.6 2516.1 L1986.2 2513.1 L1986.9 2510.2 L1987.5 2507.3 L1988.1 2504.3 L1988.7 2501.4 L1989.3 2498.4 L1989.8 2495.4 L1990.4 2492.5 L1990.9 2489.5 L1991.5 2486.5 L1992 2483.6 L1992.5 2480.6 L1993 2477.6 L1993.5 2474.6 L1994 2471.7 L1994.4 2468.7 L1994.9 2465.7 L1995.3 2462.7 L1995.8 2459.7 L1996.2 2456.7 L1996.6 2453.7 L1997 2450.7 L1997.4 2447.7 L1997.8 2444.7 L1998.2 2441.7 L1998.6 2438.7 L1999 2435.7 L1999.3 2432.7 L1999.7 2429.7 L2000.1 2426.7 L2000.4 2423.6 L2000.7 2420.6 L2001.1 2417.6 L2001.4 2414.6 L2001.7 2411.6 L2002 2408.6 L2002.3 2405.5 L2002.6 2402.5 L2002.9 2399.5 L2003.2 2396.5 L2003.5 2393.4 L2003.8 2390.4 L2004.1 2387.4 L2004.3 2384.4 L2004.6 2381.3 L2004.9 2378.3 L2005.1 2375.3 L2005.4 2372.2 L2005.7 2369.2 L2005.9 2366.2 L2006.2 2363.2 L2006.4 2360.1 L2006.7 2357.1 L2006.9 2354.1 L2007.1 2351 L2007.4 2348 L2007.6 2345 L2007.9 2342 L2008.1 2338.9 L2008.3 2335.9 L2008.5 2332.9 L2008.8 2329.8 L2009 2326.8 L2009.2 2323.8 L2009.4 2320.8 L2009.6 2317.7 L2009.9 2314.7 L2010.1 2311.7 L2010.3 2308.6 L2010.5 2305.6 L2010.7 2302.6 L2010.9 2299.6 L2011.1 2296.5 L2011.3 2293.5 L2011.5 2290.5 L2011.7 2287.4 L2011.9 2284.4 L2012.1 2281.4 L2012.3 2278.4 L2012.5 2275.3 L2012.6 2272.3 L2012.8 2269.3 L2013 2266.2 L2013.2 2263.2 L2013.4 2260.2 L2013.5 2257.2 L2013.7 2254.1 L2013.9 2251.1 L2014.1 2248.1 L2014.2 2245 L2014.4 2242 L2014.6 2239 L2014.7 2236 L2014.9 2232.9 L2015.1 2229.9 L2015.2 2226.9 L2015.4 2223.8 L2015.5 2220.8 L2015.7 2217.8 L2015.8 2214.8 L2016 2211.7 L2016.1 2208.7 L2016.3 2205.7 L2016.4 2202.6 L2016.6 2199.6 L2016.7 2196.6 L2016.9 2193.6 L2017 2190.5 L2017.2 2187.5 L2017.3 2184.5 L2017.5 2181.5 L2017.6 2178.4 L2017.7 2175.4 L2017.9 2172.4 L2018 2169.4 L2018.1 2166.3 L2018.3 2163.3 L2018.4 2160.3 L2018.5 2157.2 L2018.7 2154.2 L2018.8 2151.2 L2018.9 2148.2 L2019.1 2145.1 L2019.2 2142.1 L2019.3 2139.1 L2019.4 2136.1 L2019.6 2133 L2019.7 2130 L2019.8 2127 L2019.9 2124 L2020.1 2120.9 L2020.2 2117.9 L2020.3 2114.9 L2020.4 2111.9 L2020.5 2108.9 L2020.7 2105.8 L2020.8 2102.8 L2020.9 2099.8 L2021 2096.8 L2021.1 2093.7 L2021.2 2090.7 L2021.4 2087.7 L2021.5 2084.7 L2021.6 2081.7 L2021.7 2078.6 L2021.8 2075.6 L2021.9 2072.6 L2022.1 2069.6 L2022.2 2066.5 L2022.3 2063.5 L2022.4 2060.5 L2022.5 2057.5 L2022.6 2054.5 L2022.7 2051.4 L2022.8 2048.4 L2023 2045.4 L2023.1 2042.4 L2023.2 2039.4 L2023.3 2036.3 L2023.4 2033.3 L2023.5 2030.3 L2023.6 2027.3 L2023.8 2024.3 L2023.9 2021.3 L2024 2018.2 L2024.1 2015.2 L2024.2 2012.2 L2024.3 2009.2 L2024.4 2006.2 L2024.5 2003.2 L2024.7 2000.1" fill="none" stroke="#FFD700" stroke-width="2" stroke-linejoin="round" stroke-linecap="round" clip-path="url(#cib)"/>
<path d="M1146.8 2602 L1149.3 2603.7 L1151.9 2605.4 L1154.6 2607 L1157.4 2608.5 L1160.2 2609.8 L1163 2611 L1165.9 2612.1 L1168.8 2613.1 L1171.7 2613.8 L1174.6 2614.5 L1177.5 2614.9 L1180.4 2615.2 L1183.2 2615.3 L1186.1 2615.3 L1188.9 2615.1 L1191.8 2614.8 L1194.6 2614.4 L1197.4 2614 L1200.2 2613.6 L1203.1 2613.2 L1205.9 2612.8 L1208.8 2612.5 L1211.7 2612.3 L1214.6 2612.3 L1217.6 2612.3 L1220.5 2612.5 L1223.5 2612.7 L1226.5 2613 L1229.6 2613.4 L1232.6 2613.8 L1235.6 2614.3 L1238.7 2614.8 L1241.8 2615.3 L1244.8 2615.8 L1247.9 2616.3 L1250.9 2616.8 L1254 2617.3 L1257 2617.7 L1260 2618 L1263.1 2618.3 L1266 2618.5 L1269 2618.6 L1272 2618.6 L1274.9 2618.5 L1277.8 2618.2 L1280.7 2617.8 L1283.5 2617.3 L1286.3 2616.7 L1289.1 2615.9 L1291.9 2615.1 L1294.7 2614.2 L1297.5 2613.2 L1300.2 2612.1 L1303 2611 L1305.7 2609.9 L1308.5 2608.7 L1311.2 2607.5 L1314 2606.3 L1316.7 2605.2 L1319.5 2604 L1322.3 2602.8 L1325.1 2601.7 L1328 2600.7 L1330.8 2599.6 L1333.7 2598.7 L1336.6 2597.8 L1339.6 2597 L1342.5 2596.3 L1345.5 2595.6 L1348.4 2595 L1351.4 2594.5 L1354.4 2594.1 L1357.4 2593.7 L1360.4 2593.5 L1363.4 2593.3 L1366.4 2593.3 L1369.3 2593.3 L1372.3 2593.5 L1375.3 2593.7 L1378.2 2594.1 L1381.2 2594.6 L1384.1 2595.2 L1387 2595.9 L1389.9 2596.7 L1392.7 2597.5 L1395.6 2598.5 L1398.5 2599.5 L1401.3 2600.5 L1404.2 2601.5 L1407 2602.6 L1409.8 2603.8 L1412.7 2604.9 L1415.5 2606 L1418.3 2607.1 L1421.1 2608.2 L1424 2609.3 L1426.8 2610.3 L1429.6 2611.2 L1432.5 2612.1 L1435.3 2613 L1438.1 2613.7 L1441 2614.4 L1443.9 2615 L1446.7 2615.4 L1449.6 2615.8 L1452.5 2616 L1455.4 2616.2 L1458.3 2616.2 L1461.3 2616.3 L1464.2 2616.3 L1467.2 2616.3 L1470.3 2616.3 L1473.3 2616.4 L1476.4 2616.5 L1479.5 2616.6 L1482.7 2616.9 L1485.9 2617.2 L1489.1 2617.5 L1492.3 2617.9 L1495.5 2618.2 L1498.7 2618.5 L1501.9 2618.8 L1505 2619 L1508.2 2619 L1511.2 2619 L1514.2 2618.7 L1517.1 2618.3 L1520 2617.7 L1522.7 2616.9 L1525.4 2615.9 L1528 2614.7 L1530.6 2613.4 L1533.1 2612 L1535.6 2610.5 L1537.9 2608.8 L1540.3 2607.1 L1542.6 2605.2 L1544.8 2603.3 L1547 2601.4 L1549.2 2599.4 L1551.4 2597.3 L1553.5 2595.3 L1555.5 2593.2 L1557.6 2591.1 L1559.6 2588.9 L1561.6 2586.7 L1563.5 2584.5 L1565.5 2582.2 L1567.4 2579.9 L1569.2 2577.6 L1571.1 2575.3 L1572.9 2572.9 L1574.6 2570.5 L1576.4 2568.1 L1578.1 2565.7 L1579.8 2563.2 L1581.5 2560.7 L1583.1 2558.2 L1584.8 2555.7 L1586.3 2553.1 L1587.9 2550.5 L1589.5 2547.9 L1591 2545.3 L1592.5 2542.7 L1594 2540 L1595.4 2537.4 L1596.9 2534.7 L1598.3 2532 L1599.7 2529.3 L1601 2526.6 L1602.4 2523.8 L1603.7 2521.1 L1605.1 2518.3 L1606.4 2515.6 L1607.6 2512.8 L1608.9 2510 L1610.1 2507.2 L1611.4 2504.4 L1612.6 2501.6 L1613.8 2498.8 L1615 2496 L1616.1 2493.2 L1617.3 2490.3 L1618.4 2487.5 L1619.6 2484.7 L1620.7 2481.8 L1621.8 2479 L1622.9 2476.2 L1624 2473.3 L1625.1 2470.5 L1626.2 2467.7 L1627.2 2464.8 L1628.3 2462 L1629.4 2459.1 L1630.5 2456.3 L1631.5 2453.5 L1632.6 2450.7 L1633.7 2447.8 L1634.8 2445 L1635.9 2442.2 L1636.9 2439.4 L1638 2436.6 L1639.1 2433.8 L1640.3 2431 L1641.4 2428.2 L1642.5 2425.5 L1643.7 2422.7 L1644.8 2419.9 L1646 2417.2 L1647.2 2414.4 L1648.4 2411.7 L1649.6 2409 L1650.8 2406.3 L1652.1 2403.6 L1653.3 2400.9 L1654.6 2398.2 L1655.9 2395.6 L1657.3 2392.9 L1658.6 2390.3 L1660 2387.7 L1661.4 2385.1 L1662.9 2382.5 L1664.3 2379.9 L1665.8 2377.4 L1667.4 2374.8 L1668.9 2372.3 L1670.5 2369.8 L1672.1 2367.3 L1673.8 2364.9 L1675.5 2362.4 L1677.2 2360 L1679 2357.6 L1680.8 2355.2 L1682.6 2352.9 L1684.5 2350.5 L1686.4 2348.2 L1688.4 2345.9 L1690.4 2343.7 L1692.4 2341.4 L1694.5 2339.2 L1696.7 2337 L1698.8 2334.8 L1701.1 2332.7 L1703.4 2330.6 L1705.7 2328.6 L1708.1 2326.6 L1710.5 2324.8 L1713 2323 L1715.6 2321.3 L1718.1 2319.8 L1720.8 2318.4 L1723.5 2317.1 L1726.2 2316 L1729 2315 L1731.9 2314.2 L1734.8 2313.6 L1737.8 2313.1 L1740.8 2312.9 L1743.8 2312.8 L1746.9 2312.9 L1749.9 2313.2 L1753 2313.7 L1755.9 2314.3 L1758.9 2315 L1761.8 2315.9 L1764.6 2316.9 L1767.4 2318.1 L1770.1 2319.4 L1772.8 2320.8 L1775.4 2322.3 L1777.9 2323.9 L1780.4 2325.7 L1782.8 2327.5 L1785.2 2329.4 L1787.4 2331.4 L1789.7 2333.4 L1791.8 2335.6 L1793.9 2337.8 L1795.9 2340 L1797.8 2342.3 L1799.6 2344.6 L1801.4 2347 L1803.1 2349.4 L1804.7 2351.9 L1806.3 2354.4 L1807.8 2356.9 L1809.3 2359.5 L1810.7 2362.1 L1812.1 2364.7 L1813.4 2367.4 L1814.7 2370 L1815.9 2372.8 L1817.1 2375.5 L1818.3 2378.3 L1819.4 2381 L1820.5 2383.8 L1821.6 2386.6 L1822.6 2389.5 L1823.7 2392.3 L1824.7 2395.1 L1825.7 2398 L1826.7 2400.9 L1827.7 2403.7 L1828.7 2406.6 L1829.7 2409.5 L1830.7 2412.4 L1831.7 2415.2 L1832.7 2418.1 L1833.7 2421 L1834.7 2423.9 L1835.7 2426.8 L1836.7 2429.6 L1837.7 2432.5 L1838.7 2435.4 L1839.8 2438.2 L1840.8 2441.1 L1841.8 2444 L1842.9 2446.8 L1843.9 2449.7 L1844.9 2452.5 L1846 2455.4 L1847 2458.2 L1848.1 2461.1 L1849.2 2463.9 L1850.2 2466.8 L1851.3 2469.6 L1852.4 2472.4 L1853.5 2475.3 L1854.5 2478.1 L1855.6 2480.9 L1856.7 2483.7 L1857.8 2486.5 L1858.9 2489.3 L1860 2492.1 L1861.1 2494.9 L1862.3 2497.7 L1863.4 2500.5 L1864.5 2503.3 L1865.6 2506 L1866.8 2508.8 L1867.9 2511.6 L1869.1 2514.3 L1870.2 2517.1 L1871.4 2519.8 L1872.5 2522.5 L1873.7 2525.2 L1874.9 2528 L1876.1 2530.7 L1877.2 2533.4 L1878.4 2536 L1879.6 2538.7 L1880.8 2541.4 L1882 2544.1 L1883.2 2546.7 L1884.5 2549.4 L1885.7 2552 L1887 2554.6 L1888.3 2557.2 L1889.7 2559.8 L1891.1 2562.4 L1892.5 2565 L1894 2567.5 L1895.5 2570.1 L1897.1 2572.6 L1898.7 2575.1 L1900.4 2577.6 L1902.1 2580.1 L1903.9 2582.6 L1905.8 2585 L1907.8 2587.4 L1909.8 2589.8 L1911.9 2592.2 L1914.1 2594.6 L1916.4 2596.9 L1918.8 2599.2 L1921.3 2601.5 L1923.9 2603.8 L1926.5 2606 L1929.2 2608 L1931.9 2609.9 L1934.6 2611.6 L1937.3 2613.1 L1939.9 2614.4 L1942.5 2615.3 L1945 2615.9 L1947.4 2616.2 L1949.7 2616 L1951.9 2615.5 L1953.9 2614.5 L1955.7 2613.1 L1957.3 2611.3 L1958.7 2609.2 L1959.9 2606.7 L1961 2604 L1962 2601.1 L1962.8 2598.1 L1963.5 2594.9 L1964 2591.7 L1964.4 2588.5 L1964.8 2585.3 L1965 2582.2 L1965.2 2579 L1965.4 2575.8 L1965.5 2572.7 L1965.7 2569.6 L1965.8 2566.5 L1966 2563.4 L1966.3 2560.3 L1966.6 2557.3 L1967 2554.3 L1967.5 2551.3 L1968.1 2548.3 L1968.7 2545.4 L1969.4 2542.5 L1970.1 2539.5 L1970.9 2536.6 L1971.7 2533.8 L1972.6 2530.9 L1973.5 2528 L1974.5 2525.2 L1975.5 2522.4 L1976.5 2519.5 L1977.5 2516.7 L1978.5 2513.9 L1979.6 2511.1 L1980.6 2508.3 L1981.7 2505.5 L1982.8 2502.7 L1983.8 2499.9 L1984.8 2497.1 L1985.9 2494.3 L1986.9 2491.5 L1987.9 2488.6 L1988.8 2485.8 L1989.7 2483 L1990.6 2480.1 L1991.4 2477.3 L1992.2 2474.4 L1993 2471.5 L1993.8 2468.6 L1994.4 2465.8 L1995.1 2462.9 L1995.8 2459.9 L1996.4 2457 L1996.9 2454.1 L1997.5 2451.2 L1998 2448.2 L1998.5 2445.3 L1999 2442.3 L1999.4 2439.4 L1999.8 2436.4 L2000.2 2433.5 L2000.6 2430.5 L2001 2427.5 L2001.3 2424.5 L2001.6 2421.5 L2001.9 2418.6 L2002.2 2415.6 L2002.5 2412.6 L2002.8 2409.6 L2003 2406.6 L2003.3 2403.6 L2003.5 2400.6 L2003.7 2397.5 L2004 2394.5 L2004.2 2391.5 L2004.4 2388.5 L2004.6 2385.5 L2004.8 2382.5 L2005 2379.5 L2005.2 2376.5 L2005.4 2373.4 L2005.6 2370.4 L2005.8 2367.4 L2006 2364.4 L2006.2 2361.4 L2006.4 2358.4 L2006.6 2355.4 L2006.8 2352.4 L2007 2349.4 L2007.2 2346.3 L2007.4 2343.3 L2007.6 2340.3 L2007.8 2337.3 L2008 2334.3 L2008.2 2331.3 L2008.4 2328.3 L2008.6 2325.3 L2008.8 2322.3 L2009 2319.3 L2009.2 2316.3 L2009.4 2313.3 L2009.6 2310.3 L2009.8 2307.3 L2010 2304.3 L2010.2 2301.3 L2010.4 2298.3 L2010.6 2295.3 L2010.8 2292.3 L2011 2289.3 L2011.2 2286.3 L2011.4 2283.3 L2011.6 2280.3 L2011.8 2277.3 L2012 2274.3 L2012.2 2271.3 L2012.4 2268.2 L2012.6 2265.2 L2012.8 2262.2 L2013 2259.2 L2013.2 2256.2 L2013.4 2253.2 L2013.6 2250.2 L2013.8 2247.2 L2014 2244.2 L2014.1 2241.2 L2014.3 2238.2 L2014.5 2235.3 L2014.7 2232.3 L2014.9 2229.3 L2015.1 2226.3 L2015.3 2223.3 L2015.4 2220.3 L2015.6 2217.3 L2015.8 2214.3 L2016 2211.3 L2016.2 2208.3 L2016.3 2205.3 L2016.5 2202.3 L2016.7 2199.3 L2016.9 2196.3 L2017 2193.3 L2017.2 2190.3 L2017.4 2187.3 L2017.5 2184.3 L2017.7 2181.3 L2017.9 2178.3 L2018 2175.3 L2018.2 2172.3 L2018.4 2169.3 L2018.5 2166.3 L2018.7 2163.3 L2018.8 2160.3 L2019 2157.3 L2019.1 2154.3 L2019.3 2151.3 L2019.4 2148.3 L2019.6 2145.2 L2019.7 2142.2 L2019.9 2139.2 L2020 2136.2 L2020.1 2133.2 L2020.3 2130.2 L2020.4 2127.2 L2020.6 2124.2 L2020.7 2121.2 L2020.8 2118.2 L2020.9 2115.2 L2021.1 2112.2 L2021.2 2109.2 L2021.3 2106.2 L2021.4 2103.2 L2021.5 2100.2 L2021.7 2097.2 L2021.8 2094.2 L2021.9 2091.2 L2022 2088.2 L2022.1 2085.1 L2022.2 2082.1 L2022.3 2079.1 L2022.4 2076.1 L2022.5 2073.1 L2022.6 2070.1 L2022.7 2067.1 L2022.7 2064.1 L2022.8 2061.1 L2022.9 2058 L2023 2055 L2023.1 2052 L2023.1 2049 L2023.2 2046 L2023.3 2043 L2023.3 2040" fill="none" stroke="#111" stroke-width="3.6" stroke-linejoin="round" stroke-linecap="round" clip-path="url(#cib)"/>
<path d="M1146.8 2600.7 L1149.3 2602.3 L1151.8 2603.8 L1154.4 2605.3 L1157 2606.8 L1159.7 2608.2 L1162.4 2609.6 L1165.1 2610.9 L1167.8 2612.1 L1170.5 2613.3 L1173.3 2614.5 L1176.1 2615.6 L1178.9 2616.6 L1181.8 2617.6 L1184.7 2618.6 L1187.5 2619.4 L1190.4 2620.3 L1193.4 2621 L1196.3 2621.7 L1199.2 2622.4 L1202.2 2623 L1205.2 2623.5 L1208.2 2624 L1211.2 2624.4 L1214.2 2624.8 L1217.2 2625.1 L1220.2 2625.4 L1223.2 2625.6 L1226.3 2625.7 L1229.3 2625.8 L1232.4 2625.8 L1235.4 2625.8 L1238.4 2625.7 L1241.5 2625.5 L1244.5 2625.3 L1247.6 2625 L1250.6 2624.7 L1253.6 2624.3 L1256.7 2623.8 L1259.7 2623.3 L1262.7 2622.7 L1265.7 2622 L1268.7 2621.3 L1271.7 2620.5 L1274.7 2619.7 L1277.6 2618.8 L1280.6 2617.8 L1283.5 2616.8 L1286.4 2615.7 L1289.3 2614.6 L1292.3 2613.5 L1295.1 2612.3 L1298 2611.1 L1300.9 2609.9 L1303.8 2608.7 L1306.6 2607.5 L1309.5 2606.3 L1312.4 2605.1 L1315.2 2603.9 L1318.1 2602.8 L1320.9 2601.6 L1323.7 2600.6 L1326.6 2599.5 L1329.4 2598.6 L1332.3 2597.7 L1335.1 2596.8 L1337.9 2596 L1340.8 2595.3 L1343.6 2594.7 L1346.5 2594.2 L1349.3 2593.8 L1352.2 2593.5 L1355.1 2593.3 L1357.9 2593.2 L1360.8 2593.2 L1363.7 2593.3 L1366.6 2593.5 L1369.5 2593.7 L1372.4 2594.1 L1375.3 2594.5 L1378.2 2594.9 L1381.1 2595.5 L1384 2596.1 L1386.9 2596.7 L1389.8 2597.4 L1392.8 2598.1 L1395.7 2598.9 L1398.6 2599.7 L1401.5 2600.6 L1404.5 2601.5 L1407.4 2602.3 L1410.3 2603.2 L1413.3 2604.2 L1416.2 2605.1 L1419.1 2606 L1422.1 2606.9 L1425 2607.8 L1428 2608.7 L1430.9 2609.6 L1433.9 2610.4 L1436.8 2611.2 L1439.8 2612 L1442.7 2612.8 L1445.6 2613.5 L1448.6 2614.2 L1451.5 2614.8 L1454.5 2615.3 L1457.4 2615.9 L1460.3 2616.3 L1463.3 2616.7 L1466.2 2617 L1469.1 2617.2 L1472 2617.4 L1475 2617.5 L1477.9 2617.5 L1480.8 2617.4 L1483.6 2617.3 L1486.5 2617 L1489.4 2616.6 L1492.3 2616.2 L1495.1 2615.6 L1498 2614.9 L1500.8 2614.1 L1503.6 2613.2 L1506.4 2612.2 L1509.2 2611.1 L1512 2609.9 L1514.7 2608.6 L1517.5 2607.2 L1520.2 2605.8 L1522.8 2604.3 L1525.5 2602.7 L1528.1 2601 L1530.7 2599.3 L1533.3 2597.6 L1535.8 2595.8 L1538.3 2594 L1540.8 2592.2 L1543.2 2590.3 L1545.6 2588.5 L1548 2586.6 L1550.3 2584.7 L1552.5 2582.9 L1554.7 2581 L1556.9 2579.1 L1559 2577.2 L1561.1 2575.2 L1563.2 2573.2 L1565.2 2571.2 L1567.2 2569.1 L1569.2 2567 L1571.1 2564.8 L1573 2562.6 L1574.9 2560.3 L1576.8 2558.1 L1578.6 2555.8 L1580.4 2553.4 L1582.2 2551 L1583.9 2548.6 L1585.7 2546.2 L1587.4 2543.7 L1589 2541.3 L1590.7 2538.8 L1592.3 2536.2 L1593.9 2533.7 L1595.5 2531.1 L1597.1 2528.5 L1598.6 2525.9 L1600.2 2523.3 L1601.7 2520.6 L1603.2 2518 L1604.7 2515.3 L1606.2 2512.6 L1607.6 2510 L1609.1 2507.3 L1610.5 2504.6 L1611.9 2501.9 L1613.3 2499.1 L1614.7 2496.4 L1616.1 2493.7 L1617.5 2491 L1618.8 2488.3 L1620.2 2485.6 L1621.5 2482.8 L1622.9 2480.1 L1624.2 2477.4 L1625.5 2474.7 L1626.8 2472 L1628.2 2469.3 L1629.5 2466.6 L1630.8 2463.9 L1632.1 2461.2 L1633.3 2458.5 L1634.6 2455.8 L1635.9 2453.1 L1637.2 2450.4 L1638.4 2447.7 L1639.7 2445 L1641 2442.3 L1642.2 2439.6 L1643.4 2436.9 L1644.7 2434.2 L1645.9 2431.5 L1647.2 2428.8 L1648.4 2426.1 L1649.6 2423.4 L1650.8 2420.7 L1652.1 2418 L1653.3 2415.3 L1654.5 2412.5 L1655.7 2409.8 L1656.9 2407.1 L1658.1 2404.4 L1659.3 2401.6 L1660.5 2398.9 L1661.7 2396.2 L1662.9 2393.4 L1664.1 2390.7 L1665.3 2387.9 L1666.5 2385.2 L1667.6 2382.4 L1668.8 2379.6 L1670 2376.8 L1671.2 2374.1 L1672.4 2371.3 L1673.6 2368.5 L1674.8 2365.7 L1675.9 2362.9 L1677.1 2360.1 L1678.3 2357.2 L1679.5 2354.4 L1680.7 2351.6 L1681.9 2348.7 L1683.1 2345.9 L1684.3 2343.1 L1685.5 2340.2 L1686.8 2337.4 L1688.1 2334.7 L1689.5 2331.9 L1690.9 2329.2 L1692.4 2326.5 L1693.9 2323.9 L1695.5 2321.3 L1697.2 2318.7 L1698.9 2316.2 L1700.8 2313.8 L1702.7 2311.5 L1704.8 2309.2 L1706.9 2307 L1709.2 2304.9 L1711.6 2302.9 L1714.1 2301 L1716.6 2299.3 L1719.3 2297.7 L1722 2296.3 L1724.7 2295.2 L1727.5 2294.3 L1730.4 2293.6 L1733.3 2293.2 L1736.1 2293.1 L1739 2293.3 L1741.9 2293.8 L1744.8 2294.5 L1747.6 2295.5 L1750.3 2296.6 L1753 2297.9 L1755.6 2299.4 L1758.1 2301 L1760.5 2302.7 L1762.8 2304.5 L1765.1 2306.4 L1767.2 2308.4 L1769.2 2310.5 L1771.2 2312.7 L1773.1 2315 L1774.9 2317.3 L1776.7 2319.8 L1778.4 2322.2 L1780 2324.8 L1781.6 2327.4 L1783.2 2330 L1784.7 2332.7 L1786.2 2335.4 L1787.6 2338.2 L1789 2340.9 L1790.4 2343.7 L1791.8 2346.5 L1793.1 2349.4 L1794.4 2352.2 L1795.8 2355 L1797.1 2357.9 L1798.4 2360.7 L1799.8 2363.5 L1801.1 2366.2 L1802.5 2369 L1803.8 2371.7 L1805.2 2374.4 L1806.5 2377.2 L1807.9 2379.9 L1809.3 2382.5 L1810.6 2385.2 L1812 2387.9 L1813.3 2390.6 L1814.7 2393.2 L1816 2395.9 L1817.3 2398.6 L1818.6 2401.2 L1819.9 2403.9 L1821.2 2406.6 L1822.4 2409.3 L1823.7 2412 L1824.9 2414.7 L1826.1 2417.4 L1827.3 2420.1 L1828.4 2422.9 L1829.6 2425.6 L1830.7 2428.4 L1831.8 2431.1 L1832.9 2433.9 L1834 2436.6 L1835.1 2439.4 L1836.2 2442.2 L1837.3 2445 L1838.3 2447.7 L1839.4 2450.5 L1840.5 2453.3 L1841.5 2456.1 L1842.6 2458.9 L1843.7 2461.7 L1844.7 2464.5 L1845.8 2467.3 L1846.9 2470.1 L1847.9 2472.8 L1849 2475.6 L1850.1 2478.4 L1851.2 2481.2 L1852.3 2484 L1853.4 2486.7 L1854.6 2489.5 L1855.7 2492.3 L1856.9 2495 L1858.1 2497.8 L1859.3 2500.5 L1860.5 2503.3 L1861.7 2506 L1863 2508.7 L1864.3 2511.4 L1865.6 2514.1 L1866.9 2516.8 L1868.2 2519.5 L1869.6 2522.1 L1871 2524.8 L1872.5 2527.4 L1874 2530.1 L1875.5 2532.7 L1877 2535.3 L1878.6 2537.9 L1880.2 2540.4 L1881.9 2543 L1883.6 2545.5 L1885.3 2548.1 L1887.1 2550.6 L1888.9 2553 L1890.7 2555.5 L1892.6 2558 L1894.6 2560.4 L1896.6 2562.8 L1898.6 2565.1 L1900.7 2567.5 L1902.9 2569.7 L1905.1 2571.9 L1907.3 2574.1 L1909.6 2576.2 L1912 2578.1 L1914.4 2580 L1916.9 2581.8 L1919.4 2583.5 L1922 2585.1 L1924.7 2586.5 L1927.4 2587.9 L1930.2 2589 L1933 2590.1 L1935.9 2590.9 L1938.7 2591.5 L1941.4 2591.9 L1944 2591.9 L1946.5 2591.6 L1948.7 2590.9 L1950.9 2590 L1952.9 2588.8 L1954.7 2587.3 L1956.4 2585.6 L1958 2583.7 L1959.5 2581.5 L1960.9 2579.2 L1962.3 2576.8 L1963.5 2574.1 L1964.7 2571.4 L1965.8 2568.6 L1966.8 2565.7 L1967.8 2562.7 L1968.8 2559.7 L1969.8 2556.7 L1970.7 2553.7 L1971.6 2550.7 L1972.5 2547.7 L1973.4 2544.7 L1974.3 2541.7 L1975.2 2538.6 L1976 2535.6 L1976.9 2532.6 L1977.7 2529.6 L1978.5 2526.6 L1979.3 2523.6 L1980 2520.6 L1980.8 2517.6 L1981.6 2514.7 L1982.3 2511.7 L1983 2508.7 L1983.7 2505.7 L1984.4 2502.7 L1985.1 2499.7 L1985.8 2496.7 L1986.4 2493.7 L1987.1 2490.8 L1987.7 2487.8 L1988.3 2484.8 L1988.9 2481.8 L1989.5 2478.8 L1990.1 2475.9 L1990.7 2472.9 L1991.3 2469.9 L1991.8 2466.9 L1992.4 2464 L1992.9 2461 L1993.4 2458 L1993.9 2455 L1994.4 2452.1 L1994.9 2449.1 L1995.4 2446.1 L1995.9 2443.2 L1996.4 2440.2 L1996.8 2437.2 L1997.3 2434.3 L1997.7 2431.3 L1998.1 2428.3 L1998.5 2425.3 L1999 2422.4 L1999.4 2419.4 L1999.8 2416.4 L2000.1 2413.5 L2000.5 2410.5 L2000.9 2407.6 L2001.3 2404.6 L2001.6 2401.6 L2002 2398.7 L2002.3 2395.7 L2002.6 2392.7 L2003 2389.8 L2003.3 2386.8 L2003.6 2383.8 L2003.9 2380.9 L2004.2 2377.9 L2004.5 2374.9 L2004.8 2372 L2005.1 2369 L2005.4 2366 L2005.7 2363 L2006 2360.1 L2006.2 2357.1 L2006.5 2354.1 L2006.8 2351.2 L2007 2348.2 L2007.3 2345.2 L2007.5 2342.2 L2007.8 2339.3 L2008 2336.3 L2008.2 2333.3 L2008.5 2330.3 L2008.7 2327.4 L2008.9 2324.4 L2009.2 2321.4 L2009.4 2318.4 L2009.6 2315.4 L2009.8 2312.5 L2010.1 2309.5 L2010.3 2306.5 L2010.5 2303.5 L2010.7 2300.5 L2010.9 2297.5 L2011.1 2294.5 L2011.3 2291.6 L2011.5 2288.6 L2011.7 2285.6 L2011.9 2282.6 L2012.1 2279.6 L2012.3 2276.6 L2012.5 2273.6 L2012.7 2270.6 L2012.9 2267.6 L2013.1 2264.6 L2013.3 2261.6 L2013.5 2258.6 L2013.7 2255.6 L2013.9 2252.6 L2014.1 2249.6 L2014.3 2246.6 L2014.4 2243.6 L2014.6 2240.5 L2014.8 2237.5 L2015 2234.5 L2015.2 2231.5 L2015.3 2228.5 L2015.5 2225.5 L2015.7 2222.5 L2015.8 2219.5 L2016 2216.5 L2016.2 2213.5 L2016.4 2210.4 L2016.5 2207.4 L2016.7 2204.4 L2016.8 2201.4 L2017 2198.4 L2017.2 2195.4 L2017.3 2192.4 L2017.5 2189.3 L2017.6 2186.3 L2017.8 2183.3 L2017.9 2180.3 L2018.1 2177.3 L2018.2 2174.3 L2018.4 2171.3 L2018.5 2168.2 L2018.7 2165.2 L2018.8 2162.2 L2018.9 2159.2 L2019.1 2156.2 L2019.2 2153.2 L2019.3 2150.1 L2019.5 2147.1 L2019.6 2144.1 L2019.7 2141.1 L2019.9 2138.1 L2020 2135.1 L2020.1 2132.1 L2020.2 2129 L2020.4 2126 L2020.5 2123 L2020.6 2120 L2020.7 2117 L2020.8 2114 L2021 2111 L2021.1 2108 L2021.2 2104.9 L2021.3 2101.9 L2021.4 2098.9 L2021.5 2095.9 L2021.6 2092.9 L2021.7 2089.9 L2021.8 2086.9 L2021.9 2083.9 L2022 2080.9 L2022.1 2077.9 L2022.2 2074.9 L2022.3 2071.9 L2022.4 2068.9 L2022.5 2065.9 L2022.6 2062.9 L2022.7 2059.9 L2022.8 2056.9 L2022.9 2053.9 L2023 2050.9 L2023 2047.9 L2023.1 2044.9 L2023.2 2041.9 L2023.3 2038.9 L2023.4 2035.9 L2023.4 2032.9 L2023.5 2029.9 L2023.6 2027 L2023.7 2024 L2023.7 2021 L2023.8 2018 L2023.9 2015 L2023.9 2012 L2024 2009.1 L2024.1 2006.1 L2024.1 2003.1 L2024.2 2000.1" fill="none" stroke="#FF4040" stroke-width="2" stroke-linejoin="round" stroke-linecap="round" clip-path="url(#cib)"/>
<line x1="1625.4" y1="2479" x2="1849" y2="2479" stroke="#4F81BD" stroke-width="3.2" stroke-linecap="butt"/>
<line x1="1625.4" y1="2479" x2="1656.4" y2="2462.5" stroke="#4F81BD" stroke-width="2.6" stroke-linecap="round"/>
<line x1="1625.4" y1="2479" x2="1656.4" y2="2495.5" stroke="#4F81BD" stroke-width="2.6" stroke-linecap="round"/>
<line x1="1849" y1="2479" x2="1818" y2="2462.5" stroke="#4F81BD" stroke-width="2.6" stroke-linecap="round"/>
<line x1="1849" y1="2479" x2="1818" y2="2495.5" stroke="#4F81BD" stroke-width="2.6" stroke-linecap="round"/>
<text x="1666" y="2518.6" font-family="'Liberation Sans', Arial, sans-serif" font-size="48" font-weight="normal" text-anchor="start" fill="#111">30 nm</text>
<line x1="1147" y1="1908" x2="1147" y2="2618" stroke="#111" stroke-width="3" stroke-linecap="butt"/>
<line x1="1134.6" y1="2616.5" x2="2027.6" y2="2616.5" stroke="#111" stroke-width="3" stroke-linecap="butt"/>
<line x1="1134.6" y1="1909.5" x2="2027.6" y2="1909.5" stroke="#111" stroke-width="3" stroke-linecap="butt"/>
<line x1="2026.1" y1="1908" x2="2026.1" y2="2628" stroke="#111" stroke-width="3" stroke-linecap="butt"/>
<line x1="1134.6" y1="2616.2" x2="1147" y2="2616.2" stroke="#111" stroke-width="3" stroke-linecap="butt"/>
<line x1="1134.6" y1="2527.9" x2="1147" y2="2527.9" stroke="#111" stroke-width="3" stroke-linecap="butt"/>
<line x1="1134.6" y1="2439.6" x2="1147" y2="2439.6" stroke="#111" stroke-width="3" stroke-linecap="butt"/>
<line x1="1134.6" y1="2351.3" x2="1147" y2="2351.3" stroke="#111" stroke-width="3" stroke-linecap="butt"/>
<line x1="1134.6" y1="2263" x2="1147" y2="2263" stroke="#111" stroke-width="3" stroke-linecap="butt"/>
<line x1="1134.6" y1="2174.7" x2="1147" y2="2174.7" stroke="#111" stroke-width="3" stroke-linecap="butt"/>
<line x1="1134.6" y1="2086.4" x2="1147" y2="2086.4" stroke="#111" stroke-width="3" stroke-linecap="butt"/>
<line x1="1134.6" y1="1998.1" x2="1147" y2="1998.1" stroke="#111" stroke-width="3" stroke-linecap="butt"/>
<line x1="1134.6" y1="1909.8" x2="1147" y2="1909.8" stroke="#111" stroke-width="3" stroke-linecap="butt"/>
<line x1="1141" y1="2572" x2="1147" y2="2572" stroke="#111" stroke-width="3" stroke-linecap="butt"/>
<line x1="1141" y1="2483.8" x2="1147" y2="2483.8" stroke="#111" stroke-width="3" stroke-linecap="butt"/>
<line x1="1141" y1="2395.4" x2="1147" y2="2395.4" stroke="#111" stroke-width="3" stroke-linecap="butt"/>
<line x1="1141" y1="2307.1" x2="1147" y2="2307.1" stroke="#111" stroke-width="3" stroke-linecap="butt"/>
<line x1="1141" y1="2218.8" x2="1147" y2="2218.8" stroke="#111" stroke-width="3" stroke-linecap="butt"/>
<line x1="1141" y1="2130.5" x2="1147" y2="2130.5" stroke="#111" stroke-width="3" stroke-linecap="butt"/>
<line x1="1141" y1="2042.2" x2="1147" y2="2042.2" stroke="#111" stroke-width="3" stroke-linecap="butt"/>
<line x1="1141" y1="1953.9" x2="1147" y2="1953.9" stroke="#111" stroke-width="3" stroke-linecap="butt"/>
<line x1="1214.3" y1="2616.5" x2="1214.3" y2="2628" stroke="#111" stroke-width="3" stroke-linecap="butt"/>
<line x1="1349.6" y1="2616.5" x2="1349.6" y2="2628" stroke="#111" stroke-width="3" stroke-linecap="butt"/>
<line x1="1484.9" y1="2616.5" x2="1484.9" y2="2628" stroke="#111" stroke-width="3" stroke-linecap="butt"/>
<line x1="1620.2" y1="2616.5" x2="1620.2" y2="2628" stroke="#111" stroke-width="3" stroke-linecap="butt"/>
<line x1="1755.5" y1="2616.5" x2="1755.5" y2="2628" stroke="#111" stroke-width="3" stroke-linecap="butt"/>
<line x1="1890.8" y1="2616.5" x2="1890.8" y2="2628" stroke="#111" stroke-width="3" stroke-linecap="butt"/>
<line x1="2026.1" y1="2616.5" x2="2026.1" y2="2628" stroke="#111" stroke-width="3" stroke-linecap="butt"/>
<line x1="1146.6" y1="2616.5" x2="1146.6" y2="2623" stroke="#111" stroke-width="3" stroke-linecap="butt"/>
<line x1="1282" y1="2616.5" x2="1282" y2="2623" stroke="#111" stroke-width="3" stroke-linecap="butt"/>
<line x1="1417.2" y1="2616.5" x2="1417.2" y2="2623" stroke="#111" stroke-width="3" stroke-linecap="butt"/>
<line x1="1552.5" y1="2616.5" x2="1552.5" y2="2623" stroke="#111" stroke-width="3" stroke-linecap="butt"/>
<line x1="1687.8" y1="2616.5" x2="1687.8" y2="2623" stroke="#111" stroke-width="3" stroke-linecap="butt"/>
<line x1="1823.2" y1="2616.5" x2="1823.2" y2="2623" stroke="#111" stroke-width="3" stroke-linecap="butt"/>
<line x1="1958.4" y1="2616.5" x2="1958.4" y2="2623" stroke="#111" stroke-width="3" stroke-linecap="butt"/>
<text x="1125" y="2624.7" font-family="'Liberation Sans', Arial, sans-serif" font-size="32.5" font-weight="normal" text-anchor="end" fill="#222" stroke="#222" stroke-width="0.6">0</text>
<text x="1125" y="2536.4" font-family="'Liberation Sans', Arial, sans-serif" font-size="32.5" font-weight="normal" text-anchor="end" fill="#222" stroke="#222" stroke-width="0.6">50</text>
<text x="1125" y="2448.1" font-family="'Liberation Sans', Arial, sans-serif" font-size="32.5" font-weight="normal" text-anchor="end" fill="#222" stroke="#222" stroke-width="0.6">100</text>
<text x="1125" y="2359.8" font-family="'Liberation Sans', Arial, sans-serif" font-size="32.5" font-weight="normal" text-anchor="end" fill="#222" stroke="#222" stroke-width="0.6">150</text>
<text x="1125" y="2271.5" font-family="'Liberation Sans', Arial, sans-serif" font-size="32.5" font-weight="normal" text-anchor="end" fill="#222" stroke="#222" stroke-width="0.6">200</text>
<text x="1125" y="2183.2" font-family="'Liberation Sans', Arial, sans-serif" font-size="32.5" font-weight="normal" text-anchor="end" fill="#222" stroke="#222" stroke-width="0.6">250</text>
<text x="1125" y="2094.9" font-family="'Liberation Sans', Arial, sans-serif" font-size="32.5" font-weight="normal" text-anchor="end" fill="#222" stroke="#222" stroke-width="0.6">300</text>
<text x="1125" y="2006.6" font-family="'Liberation Sans', Arial, sans-serif" font-size="32.5" font-weight="normal" text-anchor="end" fill="#222" stroke="#222" stroke-width="0.6">350</text>
<text x="1125" y="1918.3" font-family="'Liberation Sans', Arial, sans-serif" font-size="32.5" font-weight="normal" text-anchor="end" fill="#222" stroke="#222" stroke-width="0.6">400</text>
<text x="1214.3" y="2663.3" font-family="'Liberation Sans', Arial, sans-serif" font-size="32.5" font-weight="normal" text-anchor="middle" fill="#222" stroke="#222" stroke-width="0.6">560</text>
<text x="1349.6" y="2663.3" font-family="'Liberation Sans', Arial, sans-serif" font-size="32.5" font-weight="normal" text-anchor="middle" fill="#222" stroke="#222" stroke-width="0.6">580</text>
<text x="1484.9" y="2663.3" font-family="'Liberation Sans', Arial, sans-serif" font-size="32.5" font-weight="normal" text-anchor="middle" fill="#222" stroke="#222" stroke-width="0.6">600</text>
<text x="1620.2" y="2663.3" font-family="'Liberation Sans', Arial, sans-serif" font-size="32.5" font-weight="normal" text-anchor="middle" fill="#222" stroke="#222" stroke-width="0.6">620</text>
<text x="1755.5" y="2663.3" font-family="'Liberation Sans', Arial, sans-serif" font-size="32.5" font-weight="normal" text-anchor="middle" fill="#222" stroke="#222" stroke-width="0.6">640</text>
<text x="1890.8" y="2663.3" font-family="'Liberation Sans', Arial, sans-serif" font-size="32.5" font-weight="normal" text-anchor="middle" fill="#222" stroke="#222" stroke-width="0.6">660</text>
<text x="2026.1" y="2663.3" font-family="'Liberation Sans', Arial, sans-serif" font-size="32.5" font-weight="normal" text-anchor="middle" fill="#222" stroke="#222" stroke-width="0.6">680</text>
<text x="1448" y="2702.5" font-family="'Liberation Sans', Arial, sans-serif" font-size="37.3" font-weight="normal" text-anchor="start" fill="#222" stroke="#222" stroke-width="0.6">Wavelength (nm)</text>
<text x="1060" y="2379.4" font-family="'Liberation Sans', Arial, sans-serif" font-size="37.3" font-weight="normal" text-anchor="start" fill="#222" transform="rotate(-90 1060 2379.4)" stroke="#222" stroke-width="0.6">Intensity (a.u.)</text>
<rect x="1582.5" y="1922.5" width="429.5" height="94" stroke="#777" stroke-width="3" fill="#fff"/>
<line x1="1587.2" y1="1946" x2="1667.2" y2="1946" stroke="#222" stroke-width="4" stroke-linecap="butt"/>
<line x1="1587.2" y1="1990.9" x2="1667.2" y2="1990.9" stroke="#ff5a5a" stroke-width="2.5" stroke-linecap="butt"/>
<text x="1677" y="1957" font-family="'Liberation Sans', Arial, sans-serif" font-size="36.8" font-weight="normal" text-anchor="start" fill="#222" stroke="#222" stroke-width="0.6">NF</text>
<text x="1677" y="2003.4" font-family="'Liberation Sans', Arial, sans-serif" font-size="36.8" font-weight="normal" text-anchor="start" fill="#222" stroke="#222" stroke-width="0.6">Cumulative Fit Peak</text>
</svg>
</body></html>
